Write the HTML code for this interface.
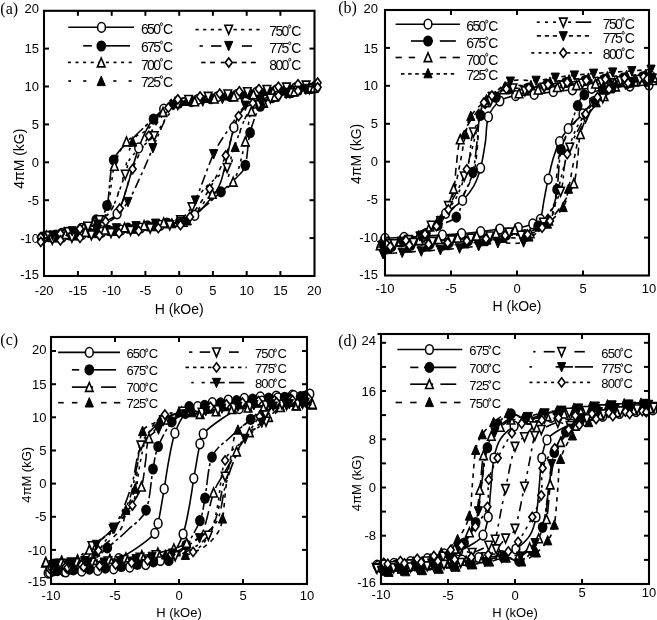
<!DOCTYPE html>
<html><head><meta charset="utf-8"><style>
html,body{margin:0;padding:0;background:#fff;}
svg{display:block;will-change:transform;}
text{font-family:'Liberation Sans',sans-serif;fill:#000;}
</style></head><body>
<svg width="657" height="620" viewBox="0 0 657 620">
<rect width="657" height="620" fill="#fff"/>
<clipPath id="clipa"><rect x="44" y="10.8" width="270.5" height="265.2"/></clipPath><g clip-path="url(#clipa)"><path d="M315.5,85.9 C312.3,86.2 302.5,86.8 296.0,87.5 C289.5,88.1 282.9,89.2 276.4,89.9 C269.9,90.7 263.3,91.4 256.8,92.2 C250.3,92.9 243.8,93.7 237.2,94.4 C230.7,95.1 224.2,95.8 217.7,96.6 C211.1,97.4 204.8,98.4 198.1,99.3 C191.3,100.3 182.9,100.8 177.2,102.4 C171.4,104.1 168.1,106.0 163.7,109.2 C159.3,112.5 155.0,115.7 150.8,122.1 C146.7,128.6 142.8,136.8 138.7,147.9 C134.6,159.0 130.1,177.8 126.5,188.8 C122.9,199.8 120.9,208.4 117.1,213.8 C113.3,219.3 109.6,219.0 103.6,221.4 C97.6,223.9 88.4,226.4 81.4,228.4 C74.4,230.4 68.3,231.9 61.8,233.4 C55.3,234.8 45.5,236.5 42.2,237.1" fill="none" stroke="#000" stroke-width="1.6"/><path d="M42.8,238.7 C46.1,238.4 55.9,237.8 62.4,237.1 C68.9,236.5 75.5,235.4 82.0,234.7 C88.5,233.9 95.0,233.2 101.6,232.4 C108.1,231.7 114.6,230.9 121.1,230.2 C127.7,229.5 134.2,228.8 140.7,228.0 C147.2,227.2 153.5,226.2 160.3,225.3 C167.0,224.3 175.5,223.8 181.2,222.2 C187.0,220.5 190.3,218.6 194.7,215.4 C199.1,212.1 203.2,208.2 207.5,202.5 C211.9,196.8 216.7,193.8 221.0,181.2 C225.4,168.7 230.2,139.4 233.9,127.4 C237.6,115.4 239.8,113.3 243.3,109.2 C246.8,105.2 249.2,105.4 254.8,103.2 C260.4,101.0 270.0,98.2 277.0,96.2 C284.0,94.2 290.1,92.7 296.6,91.2 C303.1,89.8 312.9,88.1 316.2,87.5" fill="none" stroke="#000" stroke-width="1.6"/><path d="M308.8,88.0 C305.5,88.3 295.8,89.0 289.2,89.7 C282.7,90.4 276.2,91.4 269.6,92.2 C263.1,92.9 256.6,93.6 250.1,94.3 C243.5,95.0 237.0,95.8 230.5,96.5 C224.0,97.2 217.4,97.9 210.9,98.7 C204.4,99.6 196.8,100.9 191.3,101.6 C185.9,102.4 182.8,101.8 178.5,103.2 C174.2,104.6 169.9,107.3 165.7,110.0 C161.5,112.7 158.6,114.8 153.5,119.1 C148.5,123.4 142.0,128.9 135.3,135.8 C128.7,142.6 118.4,148.4 113.7,160.0 C109.0,171.6 109.9,195.5 107.0,205.5 C104.0,215.5 102.9,215.4 96.2,219.9 C89.4,224.4 74.7,229.6 66.5,232.3 C58.3,235.0 50.2,235.6 47.0,236.2" fill="none" stroke="#000" stroke-width="1.6" stroke-dasharray="16,3,3,3"/><path d="M49.6,236.6 C52.9,236.3 62.6,235.6 69.2,234.9 C75.7,234.2 82.2,233.2 88.7,232.4 C95.3,231.7 101.8,231.0 108.3,230.3 C114.8,229.6 121.4,228.8 127.9,228.1 C134.4,227.4 140.9,226.7 147.5,225.9 C154.0,225.0 161.6,223.7 167.0,223.0 C172.4,222.2 173.9,224.0 179.9,221.4 C185.8,218.9 196.0,212.7 202.8,207.8 C209.7,202.9 215.4,196.9 221.0,191.9 C226.7,186.8 232.5,181.9 236.6,177.5 C240.6,173.0 243.1,172.8 245.3,165.3 C247.6,157.9 247.6,142.6 250.1,132.7 C252.5,122.9 256.5,112.1 260.2,106.2 C263.9,100.3 267.0,99.9 272.3,97.6 C277.6,95.3 285.3,93.8 291.9,92.3 C298.4,90.7 308.2,89.0 311.4,88.4" fill="none" stroke="#000" stroke-width="1.6" stroke-dasharray="16,3,3,3"/><path d="M312.2,88.5 C308.9,88.7 299.1,89.4 292.6,90.0 C286.1,90.7 279.5,91.8 273.0,92.5 C266.5,93.3 260.0,93.9 253.4,94.7 C246.9,95.4 240.4,96.1 233.9,96.8 C227.3,97.5 220.8,98.1 214.3,98.9 C207.8,99.7 201.2,101.1 194.7,101.7 C188.2,102.3 180.4,100.7 175.1,102.4 C169.9,104.2 167.8,107.6 163.0,112.3 C158.2,116.9 152.2,125.5 146.1,130.5 C140.1,135.4 131.8,135.9 126.5,141.8 C121.3,147.8 117.7,154.5 114.4,166.1 C111.1,177.7 110.2,202.3 107.0,211.6 C103.7,220.8 98.7,218.7 94.8,221.4 C91.0,224.1 88.9,225.8 83.8,227.8 C78.6,229.7 70.7,231.4 64.2,232.9 C57.7,234.3 47.9,236.0 44.6,236.7" fill="none" stroke="#000" stroke-width="1.6" stroke-dasharray="3,4.5"/><path d="M46.2,236.1 C49.5,235.9 59.3,235.2 65.8,234.6 C72.3,233.9 78.8,232.8 85.4,232.1 C91.9,231.3 98.4,230.7 104.9,229.9 C111.5,229.2 118.0,228.5 124.5,227.8 C131.0,227.1 137.6,226.5 144.1,225.7 C150.6,224.9 157.1,223.5 163.7,222.9 C170.2,222.3 178.0,223.9 183.2,222.2 C188.5,220.4 190.6,217.0 195.4,212.3 C200.2,207.7 206.0,199.2 212.3,194.1 C218.6,189.1 227.7,190.7 233.2,182.0 C238.7,173.3 242.3,153.6 245.3,141.8 C248.4,130.1 248.4,118.0 251.4,111.5 C254.5,105.1 259.7,105.6 263.6,103.2 C267.4,100.7 269.5,98.8 274.6,96.8 C279.8,94.9 287.7,93.2 294.2,91.7 C300.7,90.3 310.5,88.6 313.8,87.9" fill="none" stroke="#000" stroke-width="1.6" stroke-dasharray="3,4.5"/><path d="M304.1,86.8 C300.8,87.2 291.0,88.1 284.5,88.9 C278.0,89.6 271.4,90.5 264.9,91.3 C258.4,92.0 251.9,92.7 245.3,93.5 C238.8,94.2 232.3,94.9 225.8,95.7 C219.2,96.4 212.7,97.2 206.2,98.1 C199.7,99.0 192.5,100.2 186.6,101.2 C180.8,102.1 176.3,101.3 171.1,103.9 C165.9,106.5 162.0,110.5 155.6,116.8 C149.2,123.1 138.0,131.7 132.6,141.8 C127.2,151.9 126.9,165.7 123.2,177.5 C119.5,189.2 114.7,204.9 110.3,212.3 C106.0,219.8 103.6,219.0 96.8,222.2 C90.1,225.4 77.6,229.3 69.8,231.6 C62.1,233.8 53.5,235.0 50.3,235.6" fill="none" stroke="#000" stroke-width="1.6" stroke-dasharray="3,12"/><path d="M54.3,237.8 C57.6,237.4 67.4,236.5 73.9,235.7 C80.4,235.0 86.9,234.1 93.5,233.3 C100.0,232.6 106.5,231.9 113.0,231.1 C119.6,230.4 126.1,229.7 132.6,228.9 C139.2,228.2 145.7,227.4 152.2,226.5 C158.7,225.6 165.9,224.4 171.8,223.4 C177.6,222.5 182.1,223.3 187.3,220.7 C192.5,218.1 196.4,214.1 202.8,207.8 C209.2,201.5 220.4,192.9 225.8,182.8 C231.2,172.7 231.5,158.9 235.2,147.1 C238.9,135.4 243.7,119.7 248.0,112.3 C252.4,104.8 254.8,105.6 261.5,102.4 C268.3,99.2 280.8,95.3 288.6,93.0 C296.3,90.8 304.9,89.6 308.1,89.0" fill="none" stroke="#000" stroke-width="1.6" stroke-dasharray="3,12"/><path d="M306.1,85.1 C302.8,85.5 293.0,86.4 286.5,87.1 C280.0,87.9 273.5,88.8 266.9,89.6 C260.4,90.4 253.9,91.1 247.4,91.9 C240.8,92.6 234.3,93.3 227.8,94.1 C221.3,94.9 214.7,95.6 208.2,96.5 C201.7,97.4 193.7,98.2 188.6,99.6 C183.6,101.0 181.6,101.7 177.8,104.7 C174.1,107.7 170.3,112.4 166.4,117.6 C162.4,122.8 160.1,129.2 154.2,135.8 C148.4,142.3 136.1,150.6 131.3,157.0 C126.4,163.4 128.5,165.7 125.2,174.4 C121.9,183.1 116.0,201.7 111.7,209.3 C107.4,216.9 103.5,217.1 99.5,219.9 C95.6,222.8 93.2,224.4 88.0,226.4 C82.8,228.4 75.0,230.3 68.4,231.9 C61.9,233.5 52.1,235.2 48.9,235.9" fill="none" stroke="#000" stroke-width="1.6" stroke-dasharray="3,4.5"/><path d="M52.3,239.5 C55.6,239.1 65.3,238.2 71.9,237.5 C78.4,236.7 84.9,235.8 91.4,235.0 C98.0,234.2 104.5,233.5 111.0,232.7 C117.5,232.0 124.1,231.3 130.6,230.5 C137.1,229.7 143.7,229.0 150.2,228.1 C156.7,227.2 164.7,226.4 169.8,225.0 C174.8,223.6 176.8,222.9 180.5,219.9 C184.3,216.9 188.1,212.2 192.0,207.0 C196.0,201.8 198.3,195.4 204.2,188.8 C210.0,182.3 222.3,174.0 227.1,167.6 C232.0,161.2 229.9,158.9 233.2,150.2 C236.5,141.5 242.4,122.9 246.7,115.3 C251.0,107.7 254.9,107.5 258.9,104.7 C262.8,101.8 265.2,100.2 270.4,98.2 C275.6,96.2 283.4,94.3 290.0,92.7 C296.5,91.1 306.3,89.4 309.5,88.7" fill="none" stroke="#000" stroke-width="1.6" stroke-dasharray="3,4.5"/><path d="M300.7,90.1 C297.4,90.5 287.6,91.5 281.1,92.2 C274.6,93.0 268.1,93.8 261.5,94.5 C255.0,95.2 248.5,95.9 242.0,96.6 C235.4,97.3 228.9,97.9 222.4,98.7 C215.9,99.5 210.9,100.2 202.8,101.2 C194.7,102.2 180.4,100.8 173.8,104.7 C167.2,108.6 166.5,117.2 163.0,124.4 C159.5,131.6 156.6,139.3 152.9,147.9 C149.2,156.5 144.9,167.0 140.7,175.9 C136.6,184.9 132.5,194.5 127.9,201.7 C123.3,208.9 118.0,215.4 113.0,219.2 C108.1,222.9 105.0,222.5 98.2,224.5 C91.4,226.4 79.8,229.2 72.2,231.0 C64.6,232.8 55.9,234.5 52.6,235.2" fill="none" stroke="#000" stroke-width="1.6" stroke-dasharray="10,4,3,4"/><path d="M57.7,234.5 C61.0,234.1 70.7,233.1 77.3,232.4 C83.8,231.6 90.3,230.8 96.8,230.1 C103.4,229.4 109.9,228.7 116.4,228.0 C123.0,227.3 129.5,226.7 136.0,225.9 C142.5,225.1 147.8,224.2 155.6,223.4 C163.3,222.7 175.9,225.3 182.6,221.4 C189.2,217.6 190.2,211.4 195.4,200.2 C200.6,189.0 207.9,166.1 213.6,154.0 C219.4,141.8 224.5,135.5 229.8,127.4 C235.1,119.3 240.3,110.1 245.3,105.5 C250.4,100.8 253.4,101.4 260.2,99.4 C267.0,97.4 278.6,95.3 286.2,93.6 C293.8,91.9 302.5,90.1 305.8,89.4" fill="none" stroke="#000" stroke-width="1.6" stroke-dasharray="10,4,3,4"/><path d="M317.6,82.7 C314.3,83.0 304.5,83.6 298.0,84.3 C291.5,85.0 284.9,86.0 278.4,86.8 C271.9,87.6 265.4,88.4 258.9,89.1 C252.3,89.9 245.8,90.7 239.3,91.4 C232.7,92.2 226.2,92.9 219.7,93.7 C213.2,94.6 207.1,95.6 200.1,96.5 C193.2,97.4 183.1,97.5 177.8,99.4 C172.6,101.3 173.2,101.7 168.4,107.7 C163.6,113.8 154.8,125.5 148.8,135.8 C142.9,146.0 137.5,157.0 132.6,169.1 C127.8,181.2 124.3,199.8 119.8,208.5 C115.3,217.3 112.3,218.0 105.6,221.4 C99.0,224.8 87.5,226.8 80.0,228.8 C72.4,230.9 66.9,232.3 60.4,233.7 C53.9,235.1 44.1,236.7 40.8,237.3" fill="none" stroke="#000" stroke-width="1.6" stroke-dasharray="4.5,5"/><path d="M40.8,241.9 C44.1,241.6 53.9,241.0 60.4,240.3 C66.9,239.6 73.4,238.6 80.0,237.8 C86.5,237.0 93.0,236.2 99.5,235.5 C106.1,234.7 112.6,233.9 119.1,233.2 C125.6,232.4 132.2,231.7 138.7,230.9 C145.2,230.0 151.3,229.0 158.3,228.1 C165.2,227.2 175.3,227.1 180.5,225.2 C185.8,223.3 185.2,222.9 190.0,216.9 C194.8,210.8 203.6,199.1 209.6,188.8 C215.5,178.6 220.9,167.6 225.8,155.5 C230.6,143.4 234.1,124.8 238.6,116.1 C243.1,107.3 246.1,106.6 252.8,103.2 C259.4,99.8 270.9,97.8 278.4,95.8 C286.0,93.7 291.5,92.3 298.0,90.9 C304.5,89.5 314.3,87.9 317.6,87.3" fill="none" stroke="#000" stroke-width="1.6" stroke-dasharray="4.5,5"/></g><ellipse cx="315.5" cy="85.9" rx="3.90" ry="4.85" fill="#fff" stroke="#000" stroke-width="1.5"/><ellipse cx="296.0" cy="87.5" rx="3.90" ry="4.85" fill="#fff" stroke="#000" stroke-width="1.5"/><ellipse cx="276.4" cy="89.9" rx="3.90" ry="4.85" fill="#fff" stroke="#000" stroke-width="1.5"/><ellipse cx="256.8" cy="92.2" rx="3.90" ry="4.85" fill="#fff" stroke="#000" stroke-width="1.5"/><ellipse cx="237.2" cy="94.4" rx="3.90" ry="4.85" fill="#fff" stroke="#000" stroke-width="1.5"/><ellipse cx="217.7" cy="96.6" rx="3.90" ry="4.85" fill="#fff" stroke="#000" stroke-width="1.5"/><ellipse cx="198.1" cy="99.3" rx="3.90" ry="4.85" fill="#fff" stroke="#000" stroke-width="1.5"/><ellipse cx="177.2" cy="102.4" rx="3.90" ry="4.85" fill="#fff" stroke="#000" stroke-width="1.5"/><ellipse cx="163.7" cy="109.2" rx="3.90" ry="4.85" fill="#fff" stroke="#000" stroke-width="1.5"/><ellipse cx="138.7" cy="147.9" rx="3.90" ry="4.85" fill="#fff" stroke="#000" stroke-width="1.5"/><ellipse cx="117.1" cy="213.8" rx="3.90" ry="4.85" fill="#fff" stroke="#000" stroke-width="1.5"/><ellipse cx="103.6" cy="221.4" rx="3.90" ry="4.85" fill="#fff" stroke="#000" stroke-width="1.5"/><ellipse cx="81.4" cy="228.4" rx="3.90" ry="4.85" fill="#fff" stroke="#000" stroke-width="1.5"/><ellipse cx="61.8" cy="233.4" rx="3.90" ry="4.85" fill="#fff" stroke="#000" stroke-width="1.5"/><ellipse cx="42.2" cy="237.1" rx="3.90" ry="4.85" fill="#fff" stroke="#000" stroke-width="1.5"/><ellipse cx="42.8" cy="238.7" rx="3.90" ry="4.85" fill="#fff" stroke="#000" stroke-width="1.5"/><ellipse cx="62.4" cy="237.1" rx="3.90" ry="4.85" fill="#fff" stroke="#000" stroke-width="1.5"/><ellipse cx="82.0" cy="234.7" rx="3.90" ry="4.85" fill="#fff" stroke="#000" stroke-width="1.5"/><ellipse cx="101.6" cy="232.4" rx="3.90" ry="4.85" fill="#fff" stroke="#000" stroke-width="1.5"/><ellipse cx="121.1" cy="230.2" rx="3.90" ry="4.85" fill="#fff" stroke="#000" stroke-width="1.5"/><ellipse cx="140.7" cy="228.0" rx="3.90" ry="4.85" fill="#fff" stroke="#000" stroke-width="1.5"/><ellipse cx="160.3" cy="225.3" rx="3.90" ry="4.85" fill="#fff" stroke="#000" stroke-width="1.5"/><ellipse cx="181.2" cy="222.2" rx="3.90" ry="4.85" fill="#fff" stroke="#000" stroke-width="1.5"/><ellipse cx="194.7" cy="215.4" rx="3.90" ry="4.85" fill="#fff" stroke="#000" stroke-width="1.5"/><ellipse cx="233.9" cy="127.4" rx="3.90" ry="4.85" fill="#fff" stroke="#000" stroke-width="1.5"/><ellipse cx="254.8" cy="103.2" rx="3.90" ry="4.85" fill="#fff" stroke="#000" stroke-width="1.5"/><ellipse cx="277.0" cy="96.2" rx="3.90" ry="4.85" fill="#fff" stroke="#000" stroke-width="1.5"/><ellipse cx="296.6" cy="91.2" rx="3.90" ry="4.85" fill="#fff" stroke="#000" stroke-width="1.5"/><ellipse cx="316.2" cy="87.5" rx="3.90" ry="4.85" fill="#fff" stroke="#000" stroke-width="1.5"/><ellipse cx="308.8" cy="88.0" rx="4.85" ry="5.60" fill="#000"/><ellipse cx="289.2" cy="89.7" rx="4.85" ry="5.60" fill="#000"/><ellipse cx="269.6" cy="92.2" rx="4.85" ry="5.60" fill="#000"/><ellipse cx="250.1" cy="94.3" rx="4.85" ry="5.60" fill="#000"/><ellipse cx="230.5" cy="96.5" rx="4.85" ry="5.60" fill="#000"/><ellipse cx="210.9" cy="98.7" rx="4.85" ry="5.60" fill="#000"/><ellipse cx="191.3" cy="101.6" rx="4.85" ry="5.60" fill="#000"/><ellipse cx="178.5" cy="103.2" rx="4.85" ry="5.60" fill="#000"/><ellipse cx="153.5" cy="119.1" rx="4.85" ry="5.60" fill="#000"/><ellipse cx="113.7" cy="160.0" rx="4.85" ry="5.60" fill="#000"/><ellipse cx="107.0" cy="205.5" rx="4.85" ry="5.60" fill="#000"/><ellipse cx="96.2" cy="219.9" rx="4.85" ry="5.60" fill="#000"/><ellipse cx="66.5" cy="232.3" rx="4.85" ry="5.60" fill="#000"/><ellipse cx="47.0" cy="236.2" rx="4.85" ry="5.60" fill="#000"/><ellipse cx="49.6" cy="236.6" rx="4.85" ry="5.60" fill="#000"/><ellipse cx="69.2" cy="234.9" rx="4.85" ry="5.60" fill="#000"/><ellipse cx="88.7" cy="232.4" rx="4.85" ry="5.60" fill="#000"/><ellipse cx="108.3" cy="230.3" rx="4.85" ry="5.60" fill="#000"/><ellipse cx="127.9" cy="228.1" rx="4.85" ry="5.60" fill="#000"/><ellipse cx="147.5" cy="225.9" rx="4.85" ry="5.60" fill="#000"/><ellipse cx="167.0" cy="223.0" rx="4.85" ry="5.60" fill="#000"/><ellipse cx="179.9" cy="221.4" rx="4.85" ry="5.60" fill="#000"/><ellipse cx="221.0" cy="191.9" rx="4.85" ry="5.60" fill="#000"/><ellipse cx="245.3" cy="165.3" rx="4.85" ry="5.60" fill="#000"/><ellipse cx="250.1" cy="132.7" rx="4.85" ry="5.60" fill="#000"/><ellipse cx="260.2" cy="106.2" rx="4.85" ry="5.60" fill="#000"/><ellipse cx="272.3" cy="97.6" rx="4.85" ry="5.60" fill="#000"/><ellipse cx="291.9" cy="92.3" rx="4.85" ry="5.60" fill="#000"/><ellipse cx="311.4" cy="88.4" rx="4.85" ry="5.60" fill="#000"/><polygon points="312.2,83.7 316.0,92.5 308.4,92.5" fill="#fff" stroke="#000" stroke-width="1.6" stroke-linejoin="miter"/><polygon points="292.6,85.2 296.4,94.1 288.8,94.1" fill="#fff" stroke="#000" stroke-width="1.6" stroke-linejoin="miter"/><polygon points="273.0,87.7 276.8,96.6 269.2,96.6" fill="#fff" stroke="#000" stroke-width="1.6" stroke-linejoin="miter"/><polygon points="253.4,89.9 257.2,98.7 249.6,98.7" fill="#fff" stroke="#000" stroke-width="1.6" stroke-linejoin="miter"/><polygon points="233.9,92.0 237.7,100.9 230.1,100.9" fill="#fff" stroke="#000" stroke-width="1.6" stroke-linejoin="miter"/><polygon points="214.3,94.1 218.1,103.0 210.5,103.0" fill="#fff" stroke="#000" stroke-width="1.6" stroke-linejoin="miter"/><polygon points="194.7,96.9 198.5,105.8 190.9,105.8" fill="#fff" stroke="#000" stroke-width="1.6" stroke-linejoin="miter"/><polygon points="175.1,97.6 178.9,106.5 171.3,106.5" fill="#fff" stroke="#000" stroke-width="1.6" stroke-linejoin="miter"/><polygon points="163.0,107.5 166.8,116.4 159.2,116.4" fill="#fff" stroke="#000" stroke-width="1.6" stroke-linejoin="miter"/><polygon points="126.5,137.0 130.3,145.9 122.7,145.9" fill="#fff" stroke="#000" stroke-width="1.6" stroke-linejoin="miter"/><polygon points="114.4,161.3 118.2,170.2 110.6,170.2" fill="#fff" stroke="#000" stroke-width="1.6" stroke-linejoin="miter"/><polygon points="94.8,216.6 98.6,225.5 91.0,225.5" fill="#fff" stroke="#000" stroke-width="1.6" stroke-linejoin="miter"/><polygon points="83.8,223.0 87.6,231.8 80.0,231.8" fill="#fff" stroke="#000" stroke-width="1.6" stroke-linejoin="miter"/><polygon points="64.2,228.1 68.0,236.9 60.4,236.9" fill="#fff" stroke="#000" stroke-width="1.6" stroke-linejoin="miter"/><polygon points="44.6,231.9 48.4,240.7 40.8,240.7" fill="#fff" stroke="#000" stroke-width="1.6" stroke-linejoin="miter"/><polygon points="46.2,231.3 50.0,240.2 42.4,240.2" fill="#fff" stroke="#000" stroke-width="1.6" stroke-linejoin="miter"/><polygon points="65.8,229.8 69.6,238.6 62.0,238.6" fill="#fff" stroke="#000" stroke-width="1.6" stroke-linejoin="miter"/><polygon points="85.4,227.3 89.2,236.2 81.6,236.2" fill="#fff" stroke="#000" stroke-width="1.6" stroke-linejoin="miter"/><polygon points="104.9,225.1 108.7,234.0 101.1,234.0" fill="#fff" stroke="#000" stroke-width="1.6" stroke-linejoin="miter"/><polygon points="124.5,223.0 128.3,231.9 120.7,231.9" fill="#fff" stroke="#000" stroke-width="1.6" stroke-linejoin="miter"/><polygon points="144.1,220.9 147.9,229.8 140.3,229.8" fill="#fff" stroke="#000" stroke-width="1.6" stroke-linejoin="miter"/><polygon points="163.7,218.1 167.5,227.0 159.9,227.0" fill="#fff" stroke="#000" stroke-width="1.6" stroke-linejoin="miter"/><polygon points="183.2,217.4 187.1,226.3 179.4,226.3" fill="#fff" stroke="#000" stroke-width="1.6" stroke-linejoin="miter"/><polygon points="212.3,189.3 216.1,198.2 208.5,198.2" fill="#fff" stroke="#000" stroke-width="1.6" stroke-linejoin="miter"/><polygon points="233.2,177.2 237.0,186.1 229.4,186.1" fill="#fff" stroke="#000" stroke-width="1.6" stroke-linejoin="miter"/><polygon points="245.3,137.0 249.2,145.9 241.5,145.9" fill="#fff" stroke="#000" stroke-width="1.6" stroke-linejoin="miter"/><polygon points="251.4,106.7 255.2,115.6 247.6,115.6" fill="#fff" stroke="#000" stroke-width="1.6" stroke-linejoin="miter"/><polygon points="263.6,98.4 267.4,107.3 259.8,107.3" fill="#fff" stroke="#000" stroke-width="1.6" stroke-linejoin="miter"/><polygon points="274.6,92.0 278.4,100.9 270.8,100.9" fill="#fff" stroke="#000" stroke-width="1.6" stroke-linejoin="miter"/><polygon points="294.2,86.9 298.0,95.8 290.4,95.8" fill="#fff" stroke="#000" stroke-width="1.6" stroke-linejoin="miter"/><polygon points="313.8,83.1 317.6,92.0 310.0,92.0" fill="#fff" stroke="#000" stroke-width="1.6" stroke-linejoin="miter"/><polygon points="304.1,81.7 308.2,91.2 300.0,91.2" fill="#000" stroke="#000" stroke-width="1" stroke-linejoin="miter"/><polygon points="284.5,83.8 288.6,93.2 280.4,93.2" fill="#000" stroke="#000" stroke-width="1" stroke-linejoin="miter"/><polygon points="264.9,86.2 269.0,95.6 260.8,95.6" fill="#000" stroke="#000" stroke-width="1" stroke-linejoin="miter"/><polygon points="245.3,88.4 249.4,97.8 241.2,97.8" fill="#000" stroke="#000" stroke-width="1" stroke-linejoin="miter"/><polygon points="225.8,90.6 229.9,100.0 221.7,100.0" fill="#000" stroke="#000" stroke-width="1" stroke-linejoin="miter"/><polygon points="206.2,93.0 210.3,102.5 202.1,102.5" fill="#000" stroke="#000" stroke-width="1" stroke-linejoin="miter"/><polygon points="186.6,96.1 190.7,105.5 182.5,105.5" fill="#000" stroke="#000" stroke-width="1" stroke-linejoin="miter"/><polygon points="171.1,98.8 175.2,108.3 167.0,108.3" fill="#000" stroke="#000" stroke-width="1" stroke-linejoin="miter"/><polygon points="132.6,136.7 136.7,146.2 128.5,146.2" fill="#000" stroke="#000" stroke-width="1" stroke-linejoin="miter"/><polygon points="96.8,217.1 100.9,226.5 92.8,226.5" fill="#000" stroke="#000" stroke-width="1" stroke-linejoin="miter"/><polygon points="69.8,226.5 73.9,235.9 65.7,235.9" fill="#000" stroke="#000" stroke-width="1" stroke-linejoin="miter"/><polygon points="50.3,230.5 54.4,240.0 46.2,240.0" fill="#000" stroke="#000" stroke-width="1" stroke-linejoin="miter"/><polygon points="54.3,232.7 58.4,242.1 50.2,242.1" fill="#000" stroke="#000" stroke-width="1" stroke-linejoin="miter"/><polygon points="73.9,230.6 78.0,240.1 69.8,240.1" fill="#000" stroke="#000" stroke-width="1" stroke-linejoin="miter"/><polygon points="93.5,228.2 97.6,237.7 89.4,237.7" fill="#000" stroke="#000" stroke-width="1" stroke-linejoin="miter"/><polygon points="113.0,226.0 117.1,235.5 109.0,235.5" fill="#000" stroke="#000" stroke-width="1" stroke-linejoin="miter"/><polygon points="132.6,223.8 136.7,233.3 128.5,233.3" fill="#000" stroke="#000" stroke-width="1" stroke-linejoin="miter"/><polygon points="152.2,221.4 156.3,230.8 148.1,230.8" fill="#000" stroke="#000" stroke-width="1" stroke-linejoin="miter"/><polygon points="171.8,218.3 175.9,227.8 167.7,227.8" fill="#000" stroke="#000" stroke-width="1" stroke-linejoin="miter"/><polygon points="187.3,215.6 191.4,225.0 183.2,225.0" fill="#000" stroke="#000" stroke-width="1" stroke-linejoin="miter"/><polygon points="235.2,142.0 239.3,151.5 231.1,151.5" fill="#000" stroke="#000" stroke-width="1" stroke-linejoin="miter"/><polygon points="261.5,97.3 265.6,106.8 257.4,106.8" fill="#000" stroke="#000" stroke-width="1" stroke-linejoin="miter"/><polygon points="288.6,87.9 292.7,97.4 284.4,97.4" fill="#000" stroke="#000" stroke-width="1" stroke-linejoin="miter"/><polygon points="308.1,83.9 312.2,93.3 304.0,93.3" fill="#000" stroke="#000" stroke-width="1" stroke-linejoin="miter"/><polygon points="306.1,89.9 309.9,81.1 302.3,81.1" fill="#fff" stroke="#000" stroke-width="1.6" stroke-linejoin="miter"/><polygon points="286.5,91.9 290.3,83.1 282.7,83.1" fill="#fff" stroke="#000" stroke-width="1.6" stroke-linejoin="miter"/><polygon points="266.9,94.4 270.8,85.5 263.1,85.5" fill="#fff" stroke="#000" stroke-width="1.6" stroke-linejoin="miter"/><polygon points="247.4,96.7 251.2,87.8 243.6,87.8" fill="#fff" stroke="#000" stroke-width="1.6" stroke-linejoin="miter"/><polygon points="227.8,98.9 231.6,90.0 224.0,90.0" fill="#fff" stroke="#000" stroke-width="1.6" stroke-linejoin="miter"/><polygon points="208.2,101.3 212.0,92.4 204.4,92.4" fill="#fff" stroke="#000" stroke-width="1.6" stroke-linejoin="miter"/><polygon points="188.6,104.4 192.4,95.5 184.8,95.5" fill="#fff" stroke="#000" stroke-width="1.6" stroke-linejoin="miter"/><polygon points="177.8,109.5 181.7,100.6 174.0,100.6" fill="#fff" stroke="#000" stroke-width="1.6" stroke-linejoin="miter"/><polygon points="154.2,140.6 158.0,131.7 150.4,131.7" fill="#fff" stroke="#000" stroke-width="1.6" stroke-linejoin="miter"/><polygon points="125.2,179.2 129.0,170.3 121.4,170.3" fill="#fff" stroke="#000" stroke-width="1.6" stroke-linejoin="miter"/><polygon points="99.5,224.7 103.3,215.8 95.7,215.8" fill="#fff" stroke="#000" stroke-width="1.6" stroke-linejoin="miter"/><polygon points="88.0,231.2 91.8,222.3 84.2,222.3" fill="#fff" stroke="#000" stroke-width="1.6" stroke-linejoin="miter"/><polygon points="68.4,236.7 72.2,227.8 64.6,227.8" fill="#fff" stroke="#000" stroke-width="1.6" stroke-linejoin="miter"/><polygon points="48.9,240.7 52.7,231.8 45.1,231.8" fill="#fff" stroke="#000" stroke-width="1.6" stroke-linejoin="miter"/><polygon points="52.3,244.3 56.1,235.4 48.5,235.4" fill="#fff" stroke="#000" stroke-width="1.6" stroke-linejoin="miter"/><polygon points="71.9,242.3 75.7,233.4 68.1,233.4" fill="#fff" stroke="#000" stroke-width="1.6" stroke-linejoin="miter"/><polygon points="91.4,239.8 95.2,230.9 87.6,230.9" fill="#fff" stroke="#000" stroke-width="1.6" stroke-linejoin="miter"/><polygon points="111.0,237.5 114.8,228.7 107.2,228.7" fill="#fff" stroke="#000" stroke-width="1.6" stroke-linejoin="miter"/><polygon points="130.6,235.3 134.4,226.4 126.8,226.4" fill="#fff" stroke="#000" stroke-width="1.6" stroke-linejoin="miter"/><polygon points="150.2,232.9 154.0,224.0 146.4,224.0" fill="#fff" stroke="#000" stroke-width="1.6" stroke-linejoin="miter"/><polygon points="169.8,229.8 173.6,220.9 165.9,220.9" fill="#fff" stroke="#000" stroke-width="1.6" stroke-linejoin="miter"/><polygon points="180.5,224.7 184.3,215.8 176.7,215.8" fill="#fff" stroke="#000" stroke-width="1.6" stroke-linejoin="miter"/><polygon points="192.0,211.8 195.8,202.9 188.2,202.9" fill="#fff" stroke="#000" stroke-width="1.6" stroke-linejoin="miter"/><polygon points="227.1,172.4 230.9,163.5 223.3,163.5" fill="#fff" stroke="#000" stroke-width="1.6" stroke-linejoin="miter"/><polygon points="258.9,109.5 262.7,100.6 255.1,100.6" fill="#fff" stroke="#000" stroke-width="1.6" stroke-linejoin="miter"/><polygon points="270.4,103.0 274.2,94.1 266.6,94.1" fill="#fff" stroke="#000" stroke-width="1.6" stroke-linejoin="miter"/><polygon points="290.0,97.5 293.8,88.6 286.2,88.6" fill="#fff" stroke="#000" stroke-width="1.6" stroke-linejoin="miter"/><polygon points="309.5,93.5 313.3,84.6 305.7,84.6" fill="#fff" stroke="#000" stroke-width="1.6" stroke-linejoin="miter"/><polygon points="300.7,95.2 304.8,85.8 296.6,85.8" fill="#000" stroke="#000" stroke-width="1" stroke-linejoin="miter"/><polygon points="281.1,97.3 285.2,87.9 277.0,87.9" fill="#000" stroke="#000" stroke-width="1" stroke-linejoin="miter"/><polygon points="261.5,99.6 265.6,90.1 257.4,90.1" fill="#000" stroke="#000" stroke-width="1" stroke-linejoin="miter"/><polygon points="242.0,101.7 246.1,92.3 237.9,92.3" fill="#000" stroke="#000" stroke-width="1" stroke-linejoin="miter"/><polygon points="222.4,103.8 226.5,94.4 218.3,94.4" fill="#000" stroke="#000" stroke-width="1" stroke-linejoin="miter"/><polygon points="202.8,106.3 206.9,96.8 198.7,96.8" fill="#000" stroke="#000" stroke-width="1" stroke-linejoin="miter"/><polygon points="173.8,109.8 177.9,100.4 169.7,100.4" fill="#000" stroke="#000" stroke-width="1" stroke-linejoin="miter"/><polygon points="152.9,153.0 157.0,143.6 148.8,143.6" fill="#000" stroke="#000" stroke-width="1" stroke-linejoin="miter"/><polygon points="127.9,206.8 132.0,197.4 123.8,197.4" fill="#000" stroke="#000" stroke-width="1" stroke-linejoin="miter"/><polygon points="98.2,229.6 102.3,220.1 94.1,220.1" fill="#000" stroke="#000" stroke-width="1" stroke-linejoin="miter"/><polygon points="72.2,236.1 76.3,226.7 68.1,226.7" fill="#000" stroke="#000" stroke-width="1" stroke-linejoin="miter"/><polygon points="52.6,240.3 56.7,230.9 48.5,230.9" fill="#000" stroke="#000" stroke-width="1" stroke-linejoin="miter"/><polygon points="57.7,239.6 61.8,230.2 53.6,230.2" fill="#000" stroke="#000" stroke-width="1" stroke-linejoin="miter"/><polygon points="77.3,237.5 81.4,228.0 73.2,228.0" fill="#000" stroke="#000" stroke-width="1" stroke-linejoin="miter"/><polygon points="96.8,235.2 100.9,225.8 92.8,225.8" fill="#000" stroke="#000" stroke-width="1" stroke-linejoin="miter"/><polygon points="116.4,233.1 120.5,223.7 112.3,223.7" fill="#000" stroke="#000" stroke-width="1" stroke-linejoin="miter"/><polygon points="136.0,231.0 140.1,221.6 131.9,221.6" fill="#000" stroke="#000" stroke-width="1" stroke-linejoin="miter"/><polygon points="155.6,228.5 159.7,219.1 151.5,219.1" fill="#000" stroke="#000" stroke-width="1" stroke-linejoin="miter"/><polygon points="182.6,226.5 186.7,217.1 178.5,217.1" fill="#000" stroke="#000" stroke-width="1" stroke-linejoin="miter"/><polygon points="195.4,205.3 199.5,195.9 191.3,195.9" fill="#000" stroke="#000" stroke-width="1" stroke-linejoin="miter"/><polygon points="213.6,159.1 217.7,149.6 209.5,149.6" fill="#000" stroke="#000" stroke-width="1" stroke-linejoin="miter"/><polygon points="245.3,110.6 249.4,101.1 241.2,101.1" fill="#000" stroke="#000" stroke-width="1" stroke-linejoin="miter"/><polygon points="260.2,104.5 264.3,95.1 256.1,95.1" fill="#000" stroke="#000" stroke-width="1" stroke-linejoin="miter"/><polygon points="286.2,98.7 290.3,89.3 282.1,89.3" fill="#000" stroke="#000" stroke-width="1" stroke-linejoin="miter"/><polygon points="305.8,94.5 309.9,85.0 301.7,85.0" fill="#000" stroke="#000" stroke-width="1" stroke-linejoin="miter"/><polygon points="317.6,78.1 321.1,82.7 317.6,87.3 314.1,82.7" fill="#fff" stroke="#000" stroke-width="1.6" stroke-linejoin="miter"/><polygon points="298.0,79.7 301.5,84.3 298.0,88.9 294.5,84.3" fill="#fff" stroke="#000" stroke-width="1.6" stroke-linejoin="miter"/><polygon points="278.4,82.2 281.9,86.8 278.4,91.4 274.9,86.8" fill="#fff" stroke="#000" stroke-width="1.6" stroke-linejoin="miter"/><polygon points="258.9,84.5 262.4,89.1 258.9,93.7 255.4,89.1" fill="#fff" stroke="#000" stroke-width="1.6" stroke-linejoin="miter"/><polygon points="239.3,86.8 242.8,91.4 239.3,96.0 235.8,91.4" fill="#fff" stroke="#000" stroke-width="1.6" stroke-linejoin="miter"/><polygon points="219.7,89.1 223.2,93.7 219.7,98.3 216.2,93.7" fill="#fff" stroke="#000" stroke-width="1.6" stroke-linejoin="miter"/><polygon points="200.1,91.9 203.6,96.5 200.1,101.1 196.6,96.5" fill="#fff" stroke="#000" stroke-width="1.6" stroke-linejoin="miter"/><polygon points="177.8,94.8 181.3,99.4 177.8,104.0 174.3,99.4" fill="#fff" stroke="#000" stroke-width="1.6" stroke-linejoin="miter"/><polygon points="168.4,103.1 171.9,107.7 168.4,112.3 164.9,107.7" fill="#fff" stroke="#000" stroke-width="1.6" stroke-linejoin="miter"/><polygon points="148.8,131.2 152.3,135.8 148.8,140.4 145.3,135.8" fill="#fff" stroke="#000" stroke-width="1.6" stroke-linejoin="miter"/><polygon points="132.6,164.5 136.1,169.1 132.6,173.7 129.1,169.1" fill="#fff" stroke="#000" stroke-width="1.6" stroke-linejoin="miter"/><polygon points="119.8,203.9 123.3,208.5 119.8,213.1 116.3,208.5" fill="#fff" stroke="#000" stroke-width="1.6" stroke-linejoin="miter"/><polygon points="105.6,216.8 109.1,221.4 105.6,226.0 102.1,221.4" fill="#fff" stroke="#000" stroke-width="1.6" stroke-linejoin="miter"/><polygon points="80.0,224.2 83.5,228.8 80.0,233.4 76.5,228.8" fill="#fff" stroke="#000" stroke-width="1.6" stroke-linejoin="miter"/><polygon points="60.4,229.1 63.9,233.7 60.4,238.3 56.9,233.7" fill="#fff" stroke="#000" stroke-width="1.6" stroke-linejoin="miter"/><polygon points="40.8,232.7 44.3,237.3 40.8,241.9 37.3,237.3" fill="#fff" stroke="#000" stroke-width="1.6" stroke-linejoin="miter"/><polygon points="40.8,237.3 44.3,241.9 40.8,246.5 37.3,241.9" fill="#fff" stroke="#000" stroke-width="1.6" stroke-linejoin="miter"/><polygon points="60.4,235.7 63.9,240.3 60.4,244.9 56.9,240.3" fill="#fff" stroke="#000" stroke-width="1.6" stroke-linejoin="miter"/><polygon points="80.0,233.2 83.5,237.8 80.0,242.4 76.5,237.8" fill="#fff" stroke="#000" stroke-width="1.6" stroke-linejoin="miter"/><polygon points="99.5,230.9 103.0,235.5 99.5,240.1 96.0,235.5" fill="#fff" stroke="#000" stroke-width="1.6" stroke-linejoin="miter"/><polygon points="119.1,228.6 122.6,233.2 119.1,237.8 115.6,233.2" fill="#fff" stroke="#000" stroke-width="1.6" stroke-linejoin="miter"/><polygon points="138.7,226.3 142.2,230.9 138.7,235.5 135.2,230.9" fill="#fff" stroke="#000" stroke-width="1.6" stroke-linejoin="miter"/><polygon points="158.3,223.5 161.8,228.1 158.3,232.7 154.8,228.1" fill="#fff" stroke="#000" stroke-width="1.6" stroke-linejoin="miter"/><polygon points="180.5,220.6 184.0,225.2 180.5,229.8 177.0,225.2" fill="#fff" stroke="#000" stroke-width="1.6" stroke-linejoin="miter"/><polygon points="190.0,212.3 193.5,216.9 190.0,221.5 186.5,216.9" fill="#fff" stroke="#000" stroke-width="1.6" stroke-linejoin="miter"/><polygon points="209.6,184.2 213.1,188.8 209.6,193.4 206.1,188.8" fill="#fff" stroke="#000" stroke-width="1.6" stroke-linejoin="miter"/><polygon points="225.8,150.9 229.3,155.5 225.8,160.1 222.3,155.5" fill="#fff" stroke="#000" stroke-width="1.6" stroke-linejoin="miter"/><polygon points="238.6,111.5 242.1,116.1 238.6,120.7 235.1,116.1" fill="#fff" stroke="#000" stroke-width="1.6" stroke-linejoin="miter"/><polygon points="252.8,98.6 256.3,103.2 252.8,107.8 249.3,103.2" fill="#fff" stroke="#000" stroke-width="1.6" stroke-linejoin="miter"/><polygon points="278.4,91.2 281.9,95.8 278.4,100.4 274.9,95.8" fill="#fff" stroke="#000" stroke-width="1.6" stroke-linejoin="miter"/><polygon points="298.0,86.3 301.5,90.9 298.0,95.5 294.5,90.9" fill="#fff" stroke="#000" stroke-width="1.6" stroke-linejoin="miter"/><polygon points="317.6,82.7 321.1,87.3 317.6,91.9 314.1,87.3" fill="#fff" stroke="#000" stroke-width="1.6" stroke-linejoin="miter"/>
<clipPath id="clipb"><rect x="385" y="10.0" width="264" height="265.5"/></clipPath><g clip-path="url(#clipb)"><path d="M649.0,85.0 C645.8,85.2 636.2,85.8 629.9,86.1 C623.5,86.5 617.1,86.9 610.7,87.2 C604.3,87.6 598.0,87.9 591.6,88.3 C585.2,88.8 578.8,89.2 572.4,89.8 C566.1,90.4 559.7,91.0 553.3,91.7 C546.9,92.5 540.4,93.8 534.2,94.4 C527.9,95.1 521.4,94.6 515.7,95.7 C510.0,96.8 504.4,97.5 499.8,101.0 C495.3,104.6 490.8,110.0 488.4,116.9 C485.9,123.9 486.6,134.2 485.3,142.7 C484.0,151.3 482.5,160.8 480.6,168.1 C478.6,175.5 476.4,181.4 473.4,186.7 C470.4,192.1 467.2,196.0 462.6,200.4 C458.0,204.8 452.6,207.4 445.7,213.3 C438.8,219.2 428.6,231.0 421.3,235.7 C414.0,240.3 408.5,239.6 402.2,241.2 C395.8,242.8 386.2,244.4 383.0,245.0" fill="none" stroke="#000" stroke-width="1.6"/><path d="M385.0,238.4 C388.2,238.2 397.8,237.6 404.1,237.3 C410.5,236.9 416.9,236.5 423.3,236.2 C429.7,235.8 436.0,235.5 442.4,235.1 C448.8,234.6 455.2,234.2 461.6,233.6 C467.9,233.0 474.3,232.4 480.7,231.7 C487.1,230.9 493.6,229.6 499.8,229.0 C506.1,228.3 512.8,228.5 518.3,227.7 C523.8,226.9 529.2,225.3 532.8,223.9 C536.5,222.5 538.5,223.4 540.4,219.4 C542.2,215.3 542.8,206.3 544.1,199.6 C545.4,192.9 546.6,186.1 548.2,179.1 C549.7,172.2 551.4,164.2 553.3,157.9 C555.2,151.6 557.1,146.5 559.6,141.6 C562.1,136.7 564.3,133.3 568.2,128.7 C572.1,124.1 578.8,118.4 583.0,113.9 C587.2,109.4 588.6,106.0 593.6,101.6 C598.5,97.3 606.3,91.0 612.7,87.7 C619.1,84.5 625.5,83.8 631.8,82.2 C638.2,80.6 647.8,79.0 651.0,78.4" fill="none" stroke="#000" stroke-width="1.6"/><path d="M642.4,76.9 C639.2,77.1 629.6,77.8 623.3,78.2 C616.9,78.6 610.5,78.9 604.1,79.3 C597.7,79.7 591.4,80.2 585.0,80.7 C578.6,81.3 572.2,81.8 565.8,82.5 C559.5,83.2 553.1,83.7 546.7,84.7 C540.3,85.7 533.8,87.6 527.6,88.3 C521.3,89.0 514.4,87.4 509.1,88.9 C503.8,90.4 500.6,92.8 495.9,97.2 C491.1,101.6 483.6,108.5 480.6,115.4 C477.5,122.4 478.7,129.5 477.4,138.9 C476.1,148.4 475.1,163.1 472.9,172.3 C470.7,181.6 467.0,186.9 464.2,194.3 C461.4,201.8 460.7,211.9 456.3,217.1 C451.9,222.3 442.9,222.7 437.8,225.4 C432.7,228.2 431.1,231.1 425.9,233.5 C420.7,236.0 413.2,238.4 406.8,240.1 C400.4,241.9 390.8,243.5 387.6,244.1" fill="none" stroke="#000" stroke-width="1.6" stroke-dasharray="16,3,3,3"/><path d="M391.6,246.5 C394.8,246.3 404.4,245.6 410.7,245.2 C417.1,244.8 423.5,244.5 429.9,244.1 C436.3,243.7 442.6,243.2 449.0,242.7 C455.4,242.1 461.8,241.6 468.2,240.9 C474.5,240.2 480.9,239.7 487.3,238.7 C493.7,237.7 500.2,235.8 506.4,235.1 C512.7,234.4 519.6,236.0 524.9,234.5 C530.2,233.0 533.5,230.7 538.1,226.2 C542.7,221.6 549.5,213.3 552.6,207.2 C555.8,201.1 555.7,199.0 557.1,189.4 C558.5,179.8 558.8,159.9 561.0,149.6 C563.1,139.3 567.0,134.9 569.8,127.6 C572.6,120.2 575.3,111.0 577.7,105.6 C580.1,100.1 580.1,97.6 584.3,94.9 C588.5,92.3 595.6,91.6 602.8,89.6 C609.9,87.7 620.0,85.0 627.2,83.3 C634.5,81.5 643.2,79.9 646.4,79.3" fill="none" stroke="#000" stroke-width="1.6" stroke-dasharray="16,3,3,3"/><path d="M653.0,80.4 C649.8,80.6 640.2,81.3 633.8,81.7 C627.4,82.1 621.1,82.5 614.7,82.9 C608.3,83.2 601.9,83.5 595.5,83.9 C589.2,84.4 582.8,84.9 576.4,85.5 C570.0,86.1 563.6,86.7 557.3,87.4 C550.9,88.1 544.5,88.9 538.1,89.9 C531.7,91.0 524.7,93.6 519.0,93.6 C513.3,93.5 509.4,88.1 503.8,89.6 C498.2,91.1 490.6,97.7 485.3,102.5 C480.0,107.3 476.3,112.3 472.1,118.5 C467.9,124.7 462.9,131.9 460.2,139.7 C457.6,147.5 457.4,157.3 456.3,165.5 C455.2,173.7 455.6,181.3 453.6,189.0 C451.7,196.7 448.4,205.4 444.4,211.8 C440.4,218.1 434.2,222.8 429.9,226.9 C425.6,231.1 423.6,234.1 418.5,236.6 C413.4,239.1 405.8,240.3 399.4,241.8 C393.0,243.3 383.4,244.9 380.2,245.6" fill="none" stroke="#000" stroke-width="1.6" stroke-dasharray="8,5"/><path d="M381.0,243.0 C384.2,242.8 393.8,242.1 400.2,241.7 C406.6,241.3 412.9,240.9 419.3,240.5 C425.7,240.2 432.1,239.9 438.5,239.5 C444.8,239.0 451.2,238.5 457.6,237.9 C464.0,237.3 470.4,236.7 476.7,236.0 C483.1,235.3 489.5,234.5 495.9,233.5 C502.3,232.4 509.3,229.8 515.0,229.8 C520.7,229.9 524.6,235.3 530.2,233.8 C535.8,232.3 543.4,225.7 548.7,220.9 C554.0,216.1 557.7,211.1 561.9,204.9 C566.1,198.7 571.1,191.5 573.8,183.7 C576.4,175.9 576.6,166.1 577.7,157.9 C578.8,149.7 578.4,142.1 580.4,134.4 C582.3,126.7 585.6,118.0 589.6,111.6 C593.6,105.3 599.8,100.6 604.1,96.5 C608.4,92.3 610.4,89.3 615.5,86.8 C620.6,84.3 628.2,83.1 634.6,81.6 C641.0,80.1 650.6,78.5 653.8,77.8" fill="none" stroke="#000" stroke-width="1.6" stroke-dasharray="8,5"/><path d="M645.7,74.1 C642.5,74.3 632.9,75.0 626.6,75.5 C620.2,75.9 613.8,76.2 607.4,76.6 C601.0,77.1 594.7,77.5 588.3,78.0 C581.9,78.5 575.5,79.1 569.1,79.7 C562.8,80.4 556.4,81.1 550.0,82.0 C543.6,82.9 538.3,84.6 530.9,85.4 C523.4,86.1 512.5,84.2 505.1,86.6 C497.8,89.0 492.4,94.6 486.6,99.5 C480.9,104.4 474.3,110.4 470.8,116.2 C467.3,122.0 467.5,125.5 465.5,134.4 C463.5,143.2 461.1,158.9 458.9,169.3 C456.7,179.7 455.8,188.0 452.3,196.6 C448.8,205.2 442.6,214.5 437.8,220.9 C433.0,227.2 429.2,231.6 423.6,234.9 C418.1,238.2 410.9,239.1 404.5,240.7 C398.1,242.3 388.5,243.9 385.3,244.6" fill="none" stroke="#000" stroke-width="1.6" stroke-dasharray="4.5,5"/><path d="M388.3,249.3 C391.5,249.1 401.1,248.4 407.4,247.9 C413.8,247.5 420.2,247.2 426.6,246.8 C433.0,246.3 439.3,245.9 445.7,245.4 C452.1,244.9 458.5,244.3 464.9,243.7 C471.2,243.0 477.6,242.3 484.0,241.4 C490.4,240.5 495.7,238.8 503.1,238.0 C510.6,237.3 521.5,239.2 528.9,236.8 C536.2,234.4 541.6,228.8 547.4,223.9 C553.1,219.0 559.7,213.0 563.2,207.2 C566.7,201.4 566.5,197.9 568.5,189.0 C570.5,180.2 572.9,164.5 575.1,154.1 C577.3,143.7 578.2,135.4 581.7,126.8 C585.2,118.2 591.4,108.9 596.2,102.5 C601.0,96.2 604.8,91.8 610.4,88.5 C615.9,85.2 623.1,84.3 629.5,82.7 C635.9,81.1 645.5,79.5 648.7,78.8" fill="none" stroke="#000" stroke-width="1.6" stroke-dasharray="4.5,5"/><path d="M639.8,79.6 C636.6,79.8 627.0,80.5 620.6,80.9 C614.2,81.3 607.9,81.5 601.5,81.9 C595.1,82.4 588.7,82.8 582.3,83.4 C576.0,83.9 569.6,84.5 563.2,85.2 C556.8,85.8 550.4,86.3 544.1,87.3 C537.7,88.3 530.1,90.9 524.9,91.0 C519.8,91.1 518.8,86.4 513.0,88.1 C507.3,89.8 497.2,93.7 490.6,101.0 C484.0,108.3 477.0,122.6 473.4,132.1 C469.9,141.6 471.0,150.6 469.5,157.9 C467.9,165.2 466.6,169.9 464.2,176.1 C461.8,182.3 457.6,190.1 455.0,195.1 C452.3,200.0 452.3,200.6 448.4,205.7 C444.4,210.8 437.8,219.8 431.2,225.4 C424.6,231.1 415.6,236.7 408.6,239.7 C401.7,242.8 392.7,243.1 389.5,243.8" fill="none" stroke="#000" stroke-width="1.6" stroke-dasharray="10,4,3,4"/><path d="M394.2,243.8 C397.4,243.6 407.0,242.9 413.4,242.5 C419.8,242.1 426.1,241.9 432.5,241.5 C438.9,241.0 445.3,240.6 451.7,240.0 C458.0,239.5 464.4,238.9 470.8,238.2 C477.2,237.6 483.6,237.1 489.9,236.1 C496.3,235.1 503.9,232.5 509.1,232.4 C514.2,232.3 515.2,237.0 521.0,235.3 C526.7,233.6 536.8,229.7 543.4,222.4 C550.0,215.1 557.0,200.8 560.6,191.3 C564.1,181.8 563.0,172.8 564.5,165.5 C566.1,158.2 567.4,153.5 569.8,147.3 C572.2,141.1 576.4,133.3 579.0,128.3 C581.7,123.4 581.7,122.8 585.6,117.7 C589.6,112.6 596.2,103.6 602.8,98.0 C609.4,92.3 618.4,86.7 625.4,83.7 C632.3,80.6 641.3,80.3 644.5,79.6" fill="none" stroke="#000" stroke-width="1.6" stroke-dasharray="10,4,3,4"/><path d="M651.0,69.5 C647.8,69.7 638.2,70.4 631.8,70.9 C625.5,71.3 619.1,71.8 612.7,72.2 C606.3,72.6 599.9,73.0 593.6,73.5 C587.2,74.0 580.8,74.6 574.4,75.2 C568.0,75.9 561.7,76.6 555.3,77.5 C548.9,78.4 543.6,79.9 536.1,80.5 C528.7,81.2 517.8,78.6 510.4,81.3 C503.0,83.9 497.0,91.3 491.9,96.5 C486.9,101.6 482.5,104.0 480.0,112.4 C477.6,120.7 478.5,136.4 477.4,146.5 C476.3,156.6 476.3,164.2 473.4,173.1 C470.6,181.9 465.7,191.7 460.2,199.6 C454.7,207.6 447.2,214.8 440.4,220.9 C433.7,227.0 426.5,232.7 419.9,236.1 C413.3,239.6 407.2,240.0 400.8,241.5 C394.4,243.0 384.8,244.7 381.6,245.3" fill="none" stroke="#000" stroke-width="1.6" stroke-dasharray="4.5,5"/><path d="M383.0,253.9 C386.2,253.7 395.8,253.0 402.2,252.5 C408.5,252.1 414.9,251.6 421.3,251.2 C427.7,250.8 434.1,250.4 440.4,249.9 C446.8,249.4 453.2,248.8 459.6,248.2 C466.0,247.5 472.3,246.8 478.7,245.9 C485.1,245.0 490.4,243.5 497.9,242.9 C505.3,242.2 516.2,244.8 523.6,242.1 C531.0,239.5 537.0,232.1 542.1,226.9 C547.1,221.8 551.5,219.4 554.0,211.0 C556.4,202.7 555.5,187.0 556.6,176.9 C557.7,166.8 557.7,159.2 560.6,150.3 C563.4,141.5 568.3,131.7 573.8,123.8 C579.3,115.8 586.8,108.6 593.6,102.5 C600.3,96.4 607.5,90.7 614.1,87.3 C620.7,83.8 626.8,83.4 633.2,81.9 C639.6,80.4 649.2,78.7 652.4,78.1" fill="none" stroke="#000" stroke-width="1.6" stroke-dasharray="4.5,5"/><path d="M643.7,76.8 C640.5,77.0 631.0,77.7 624.6,78.1 C618.2,78.5 611.8,78.8 605.4,79.2 C599.1,79.7 592.7,80.1 586.3,80.6 C579.9,81.1 573.5,81.7 567.2,82.4 C560.8,83.0 554.4,83.6 548.0,84.6 C541.6,85.5 535.8,87.3 528.9,88.0 C522.0,88.7 512.6,87.6 506.4,88.9 C500.3,90.2 495.7,93.4 491.9,95.7 C488.2,98.0 486.6,96.3 484.0,102.5 C481.4,108.7 478.9,121.7 476.1,132.9 C473.2,144.0 469.9,158.9 466.8,169.3 C463.8,179.7 460.7,188.4 457.6,195.1 C454.5,201.8 451.9,204.3 448.4,209.5 C444.8,214.7 440.4,222.1 436.5,226.2 C432.6,230.3 430.1,231.9 425.0,234.2 C419.9,236.6 412.2,238.7 405.9,240.4 C399.5,242.0 389.9,243.7 386.7,244.3" fill="none" stroke="#000" stroke-width="1.6" stroke-dasharray="3,4.5"/><path d="M390.3,246.6 C393.5,246.4 403.0,245.7 409.4,245.3 C415.8,244.9 422.2,244.6 428.6,244.2 C434.9,243.7 441.3,243.3 447.7,242.8 C454.1,242.3 460.5,241.7 466.8,241.0 C473.2,240.4 479.6,239.8 486.0,238.8 C492.4,237.9 498.2,236.1 505.1,235.4 C512.0,234.7 521.4,235.8 527.6,234.5 C533.7,233.2 538.3,230.0 542.1,227.7 C545.8,225.4 547.4,227.1 550.0,220.9 C552.6,214.7 555.1,201.7 557.9,190.5 C560.8,179.4 564.1,164.5 567.2,154.1 C570.2,143.7 573.3,135.0 576.4,128.3 C579.5,121.6 582.1,119.1 585.6,113.9 C589.2,108.7 593.6,101.3 597.5,97.2 C601.4,93.1 603.9,91.5 609.0,89.2 C614.1,86.8 621.8,84.7 628.1,83.0 C634.5,81.4 644.1,79.7 647.3,79.1" fill="none" stroke="#000" stroke-width="1.6" stroke-dasharray="3,4.5"/></g><ellipse cx="649.0" cy="85.0" rx="3.90" ry="4.85" fill="#fff" stroke="#000" stroke-width="1.5"/><ellipse cx="629.9" cy="86.1" rx="3.90" ry="4.85" fill="#fff" stroke="#000" stroke-width="1.5"/><ellipse cx="610.7" cy="87.2" rx="3.90" ry="4.85" fill="#fff" stroke="#000" stroke-width="1.5"/><ellipse cx="591.6" cy="88.3" rx="3.90" ry="4.85" fill="#fff" stroke="#000" stroke-width="1.5"/><ellipse cx="572.4" cy="89.8" rx="3.90" ry="4.85" fill="#fff" stroke="#000" stroke-width="1.5"/><ellipse cx="553.3" cy="91.7" rx="3.90" ry="4.85" fill="#fff" stroke="#000" stroke-width="1.5"/><ellipse cx="534.2" cy="94.4" rx="3.90" ry="4.85" fill="#fff" stroke="#000" stroke-width="1.5"/><ellipse cx="515.7" cy="95.7" rx="3.90" ry="4.85" fill="#fff" stroke="#000" stroke-width="1.5"/><ellipse cx="499.8" cy="101.0" rx="3.90" ry="4.85" fill="#fff" stroke="#000" stroke-width="1.5"/><ellipse cx="488.4" cy="116.9" rx="3.90" ry="4.85" fill="#fff" stroke="#000" stroke-width="1.5"/><ellipse cx="480.6" cy="168.1" rx="3.90" ry="4.85" fill="#fff" stroke="#000" stroke-width="1.5"/><ellipse cx="462.6" cy="200.4" rx="3.90" ry="4.85" fill="#fff" stroke="#000" stroke-width="1.5"/><ellipse cx="445.7" cy="213.3" rx="3.90" ry="4.85" fill="#fff" stroke="#000" stroke-width="1.5"/><ellipse cx="421.3" cy="235.7" rx="3.90" ry="4.85" fill="#fff" stroke="#000" stroke-width="1.5"/><ellipse cx="402.2" cy="241.2" rx="3.90" ry="4.85" fill="#fff" stroke="#000" stroke-width="1.5"/><ellipse cx="383.0" cy="245.0" rx="3.90" ry="4.85" fill="#fff" stroke="#000" stroke-width="1.5"/><ellipse cx="385.0" cy="238.4" rx="3.90" ry="4.85" fill="#fff" stroke="#000" stroke-width="1.5"/><ellipse cx="404.1" cy="237.3" rx="3.90" ry="4.85" fill="#fff" stroke="#000" stroke-width="1.5"/><ellipse cx="423.3" cy="236.2" rx="3.90" ry="4.85" fill="#fff" stroke="#000" stroke-width="1.5"/><ellipse cx="442.4" cy="235.1" rx="3.90" ry="4.85" fill="#fff" stroke="#000" stroke-width="1.5"/><ellipse cx="461.6" cy="233.6" rx="3.90" ry="4.85" fill="#fff" stroke="#000" stroke-width="1.5"/><ellipse cx="480.7" cy="231.7" rx="3.90" ry="4.85" fill="#fff" stroke="#000" stroke-width="1.5"/><ellipse cx="499.8" cy="229.0" rx="3.90" ry="4.85" fill="#fff" stroke="#000" stroke-width="1.5"/><ellipse cx="518.3" cy="227.7" rx="3.90" ry="4.85" fill="#fff" stroke="#000" stroke-width="1.5"/><ellipse cx="532.8" cy="223.9" rx="3.90" ry="4.85" fill="#fff" stroke="#000" stroke-width="1.5"/><ellipse cx="540.4" cy="219.4" rx="3.90" ry="4.85" fill="#fff" stroke="#000" stroke-width="1.5"/><ellipse cx="548.2" cy="179.1" rx="3.90" ry="4.85" fill="#fff" stroke="#000" stroke-width="1.5"/><ellipse cx="559.6" cy="141.6" rx="3.90" ry="4.85" fill="#fff" stroke="#000" stroke-width="1.5"/><ellipse cx="568.2" cy="128.7" rx="3.90" ry="4.85" fill="#fff" stroke="#000" stroke-width="1.5"/><ellipse cx="583.0" cy="113.9" rx="3.90" ry="4.85" fill="#fff" stroke="#000" stroke-width="1.5"/><ellipse cx="593.6" cy="101.6" rx="3.90" ry="4.85" fill="#fff" stroke="#000" stroke-width="1.5"/><ellipse cx="612.7" cy="87.7" rx="3.90" ry="4.85" fill="#fff" stroke="#000" stroke-width="1.5"/><ellipse cx="631.8" cy="82.2" rx="3.90" ry="4.85" fill="#fff" stroke="#000" stroke-width="1.5"/><ellipse cx="651.0" cy="78.4" rx="3.90" ry="4.85" fill="#fff" stroke="#000" stroke-width="1.5"/><ellipse cx="642.4" cy="76.9" rx="4.85" ry="5.60" fill="#000"/><ellipse cx="623.3" cy="78.2" rx="4.85" ry="5.60" fill="#000"/><ellipse cx="604.1" cy="79.3" rx="4.85" ry="5.60" fill="#000"/><ellipse cx="585.0" cy="80.7" rx="4.85" ry="5.60" fill="#000"/><ellipse cx="565.8" cy="82.5" rx="4.85" ry="5.60" fill="#000"/><ellipse cx="546.7" cy="84.7" rx="4.85" ry="5.60" fill="#000"/><ellipse cx="527.6" cy="88.3" rx="4.85" ry="5.60" fill="#000"/><ellipse cx="509.1" cy="88.9" rx="4.85" ry="5.60" fill="#000"/><ellipse cx="495.9" cy="97.2" rx="4.85" ry="5.60" fill="#000"/><ellipse cx="480.6" cy="115.4" rx="4.85" ry="5.60" fill="#000"/><ellipse cx="472.9" cy="172.3" rx="4.85" ry="5.60" fill="#000"/><ellipse cx="456.3" cy="217.1" rx="4.85" ry="5.60" fill="#000"/><ellipse cx="437.8" cy="225.4" rx="4.85" ry="5.60" fill="#000"/><ellipse cx="425.9" cy="233.5" rx="4.85" ry="5.60" fill="#000"/><ellipse cx="406.8" cy="240.1" rx="4.85" ry="5.60" fill="#000"/><ellipse cx="387.6" cy="244.1" rx="4.85" ry="5.60" fill="#000"/><ellipse cx="391.6" cy="246.5" rx="4.85" ry="5.60" fill="#000"/><ellipse cx="410.7" cy="245.2" rx="4.85" ry="5.60" fill="#000"/><ellipse cx="429.9" cy="244.1" rx="4.85" ry="5.60" fill="#000"/><ellipse cx="449.0" cy="242.7" rx="4.85" ry="5.60" fill="#000"/><ellipse cx="468.2" cy="240.9" rx="4.85" ry="5.60" fill="#000"/><ellipse cx="487.3" cy="238.7" rx="4.85" ry="5.60" fill="#000"/><ellipse cx="506.4" cy="235.1" rx="4.85" ry="5.60" fill="#000"/><ellipse cx="524.9" cy="234.5" rx="4.85" ry="5.60" fill="#000"/><ellipse cx="538.1" cy="226.2" rx="4.85" ry="5.60" fill="#000"/><ellipse cx="557.1" cy="189.4" rx="4.85" ry="5.60" fill="#000"/><ellipse cx="561.0" cy="149.6" rx="4.85" ry="5.60" fill="#000"/><ellipse cx="577.7" cy="105.6" rx="4.85" ry="5.60" fill="#000"/><ellipse cx="584.3" cy="94.9" rx="4.85" ry="5.60" fill="#000"/><ellipse cx="602.8" cy="89.6" rx="4.85" ry="5.60" fill="#000"/><ellipse cx="627.2" cy="83.3" rx="4.85" ry="5.60" fill="#000"/><ellipse cx="646.4" cy="79.3" rx="4.85" ry="5.60" fill="#000"/><polygon points="653.0,75.6 656.8,84.5 649.2,84.5" fill="#fff" stroke="#000" stroke-width="1.6" stroke-linejoin="miter"/><polygon points="633.8,76.9 637.6,85.8 630.0,85.8" fill="#fff" stroke="#000" stroke-width="1.6" stroke-linejoin="miter"/><polygon points="614.7,78.1 618.5,86.9 610.9,86.9" fill="#fff" stroke="#000" stroke-width="1.6" stroke-linejoin="miter"/><polygon points="595.5,79.1 599.3,88.0 591.7,88.0" fill="#fff" stroke="#000" stroke-width="1.6" stroke-linejoin="miter"/><polygon points="576.4,80.7 580.2,89.6 572.6,89.6" fill="#fff" stroke="#000" stroke-width="1.6" stroke-linejoin="miter"/><polygon points="557.3,82.6 561.1,91.5 553.5,91.5" fill="#fff" stroke="#000" stroke-width="1.6" stroke-linejoin="miter"/><polygon points="538.1,85.1 541.9,94.0 534.3,94.0" fill="#fff" stroke="#000" stroke-width="1.6" stroke-linejoin="miter"/><polygon points="519.0,88.8 522.8,97.7 515.2,97.7" fill="#fff" stroke="#000" stroke-width="1.6" stroke-linejoin="miter"/><polygon points="503.8,84.8 507.6,93.7 500.0,93.7" fill="#fff" stroke="#000" stroke-width="1.6" stroke-linejoin="miter"/><polygon points="485.3,97.7 489.1,106.6 481.5,106.6" fill="#fff" stroke="#000" stroke-width="1.6" stroke-linejoin="miter"/><polygon points="460.2,134.9 464.0,143.8 456.4,143.8" fill="#fff" stroke="#000" stroke-width="1.6" stroke-linejoin="miter"/><polygon points="453.6,184.2 457.4,193.1 449.8,193.1" fill="#fff" stroke="#000" stroke-width="1.6" stroke-linejoin="miter"/><polygon points="429.9,222.1 433.7,231.0 426.1,231.0" fill="#fff" stroke="#000" stroke-width="1.6" stroke-linejoin="miter"/><polygon points="418.5,231.8 422.3,240.7 414.7,240.7" fill="#fff" stroke="#000" stroke-width="1.6" stroke-linejoin="miter"/><polygon points="399.4,237.0 403.2,245.9 395.6,245.9" fill="#fff" stroke="#000" stroke-width="1.6" stroke-linejoin="miter"/><polygon points="380.2,240.8 384.0,249.6 376.4,249.6" fill="#fff" stroke="#000" stroke-width="1.6" stroke-linejoin="miter"/><polygon points="381.0,238.2 384.8,247.0 377.2,247.0" fill="#fff" stroke="#000" stroke-width="1.6" stroke-linejoin="miter"/><polygon points="400.2,236.9 404.0,245.8 396.4,245.8" fill="#fff" stroke="#000" stroke-width="1.6" stroke-linejoin="miter"/><polygon points="419.3,235.7 423.1,244.6 415.5,244.6" fill="#fff" stroke="#000" stroke-width="1.6" stroke-linejoin="miter"/><polygon points="438.5,234.7 442.3,243.6 434.7,243.6" fill="#fff" stroke="#000" stroke-width="1.6" stroke-linejoin="miter"/><polygon points="457.6,233.1 461.4,242.0 453.8,242.0" fill="#fff" stroke="#000" stroke-width="1.6" stroke-linejoin="miter"/><polygon points="476.7,231.2 480.5,240.1 472.9,240.1" fill="#fff" stroke="#000" stroke-width="1.6" stroke-linejoin="miter"/><polygon points="495.9,228.7 499.7,237.6 492.1,237.6" fill="#fff" stroke="#000" stroke-width="1.6" stroke-linejoin="miter"/><polygon points="515.0,225.0 518.8,233.9 511.2,233.9" fill="#fff" stroke="#000" stroke-width="1.6" stroke-linejoin="miter"/><polygon points="530.2,229.0 534.0,237.8 526.4,237.8" fill="#fff" stroke="#000" stroke-width="1.6" stroke-linejoin="miter"/><polygon points="548.7,216.1 552.5,225.0 544.9,225.0" fill="#fff" stroke="#000" stroke-width="1.6" stroke-linejoin="miter"/><polygon points="573.8,178.9 577.6,187.8 570.0,187.8" fill="#fff" stroke="#000" stroke-width="1.6" stroke-linejoin="miter"/><polygon points="580.4,129.6 584.2,138.5 576.6,138.5" fill="#fff" stroke="#000" stroke-width="1.6" stroke-linejoin="miter"/><polygon points="604.1,91.7 607.9,100.5 600.3,100.5" fill="#fff" stroke="#000" stroke-width="1.6" stroke-linejoin="miter"/><polygon points="615.5,82.0 619.3,90.9 611.7,90.9" fill="#fff" stroke="#000" stroke-width="1.6" stroke-linejoin="miter"/><polygon points="634.6,76.8 638.4,85.6 630.8,85.6" fill="#fff" stroke="#000" stroke-width="1.6" stroke-linejoin="miter"/><polygon points="653.8,73.0 657.6,81.9 650.0,81.9" fill="#fff" stroke="#000" stroke-width="1.6" stroke-linejoin="miter"/><polygon points="645.7,69.0 649.8,78.4 641.6,78.4" fill="#000" stroke="#000" stroke-width="1" stroke-linejoin="miter"/><polygon points="626.6,70.4 630.7,79.8 622.5,79.8" fill="#000" stroke="#000" stroke-width="1" stroke-linejoin="miter"/><polygon points="607.4,71.5 611.5,81.0 603.3,81.0" fill="#000" stroke="#000" stroke-width="1" stroke-linejoin="miter"/><polygon points="588.3,72.9 592.4,82.4 584.2,82.4" fill="#000" stroke="#000" stroke-width="1" stroke-linejoin="miter"/><polygon points="569.1,74.6 573.2,84.1 565.0,84.1" fill="#000" stroke="#000" stroke-width="1" stroke-linejoin="miter"/><polygon points="550.0,76.9 554.1,86.3 545.9,86.3" fill="#000" stroke="#000" stroke-width="1" stroke-linejoin="miter"/><polygon points="530.9,80.3 535.0,89.7 526.8,89.7" fill="#000" stroke="#000" stroke-width="1" stroke-linejoin="miter"/><polygon points="505.1,81.5 509.2,90.9 501.0,90.9" fill="#000" stroke="#000" stroke-width="1" stroke-linejoin="miter"/><polygon points="486.6,94.4 490.7,103.8 482.5,103.8" fill="#000" stroke="#000" stroke-width="1" stroke-linejoin="miter"/><polygon points="470.8,111.1 474.9,120.5 466.7,120.5" fill="#000" stroke="#000" stroke-width="1" stroke-linejoin="miter"/><polygon points="465.5,129.3 469.6,138.7 461.4,138.7" fill="#000" stroke="#000" stroke-width="1" stroke-linejoin="miter"/><polygon points="437.8,215.8 441.9,225.2 433.7,225.2" fill="#000" stroke="#000" stroke-width="1" stroke-linejoin="miter"/><polygon points="423.6,229.8 427.7,239.2 419.5,239.2" fill="#000" stroke="#000" stroke-width="1" stroke-linejoin="miter"/><polygon points="404.5,235.6 408.6,245.0 400.4,245.0" fill="#000" stroke="#000" stroke-width="1" stroke-linejoin="miter"/><polygon points="385.3,239.5 389.4,248.9 381.2,248.9" fill="#000" stroke="#000" stroke-width="1" stroke-linejoin="miter"/><polygon points="388.3,244.2 392.4,253.6 384.2,253.6" fill="#000" stroke="#000" stroke-width="1" stroke-linejoin="miter"/><polygon points="407.4,242.8 411.5,252.3 403.3,252.3" fill="#000" stroke="#000" stroke-width="1" stroke-linejoin="miter"/><polygon points="426.6,241.7 430.7,251.1 422.5,251.1" fill="#000" stroke="#000" stroke-width="1" stroke-linejoin="miter"/><polygon points="445.7,240.3 449.8,249.7 441.6,249.7" fill="#000" stroke="#000" stroke-width="1" stroke-linejoin="miter"/><polygon points="464.9,238.6 469.0,248.0 460.8,248.0" fill="#000" stroke="#000" stroke-width="1" stroke-linejoin="miter"/><polygon points="484.0,236.3 488.1,245.7 479.9,245.7" fill="#000" stroke="#000" stroke-width="1" stroke-linejoin="miter"/><polygon points="503.1,232.9 507.2,242.4 499.0,242.4" fill="#000" stroke="#000" stroke-width="1" stroke-linejoin="miter"/><polygon points="528.9,231.7 533.0,241.1 524.8,241.1" fill="#000" stroke="#000" stroke-width="1" stroke-linejoin="miter"/><polygon points="547.4,218.8 551.5,228.2 543.3,228.2" fill="#000" stroke="#000" stroke-width="1" stroke-linejoin="miter"/><polygon points="563.2,202.1 567.3,211.6 559.1,211.6" fill="#000" stroke="#000" stroke-width="1" stroke-linejoin="miter"/><polygon points="568.5,183.9 572.6,193.3 564.4,193.3" fill="#000" stroke="#000" stroke-width="1" stroke-linejoin="miter"/><polygon points="596.2,97.4 600.3,106.9 592.1,106.9" fill="#000" stroke="#000" stroke-width="1" stroke-linejoin="miter"/><polygon points="610.4,83.4 614.5,92.9 606.3,92.9" fill="#000" stroke="#000" stroke-width="1" stroke-linejoin="miter"/><polygon points="629.5,77.6 633.6,87.1 625.4,87.1" fill="#000" stroke="#000" stroke-width="1" stroke-linejoin="miter"/><polygon points="648.7,73.7 652.8,83.2 644.6,83.2" fill="#000" stroke="#000" stroke-width="1" stroke-linejoin="miter"/><polygon points="639.8,84.4 643.6,75.5 636.0,75.5" fill="#fff" stroke="#000" stroke-width="1.6" stroke-linejoin="miter"/><polygon points="620.6,85.7 624.4,76.8 616.8,76.8" fill="#fff" stroke="#000" stroke-width="1.6" stroke-linejoin="miter"/><polygon points="601.5,86.7 605.3,77.9 597.7,77.9" fill="#fff" stroke="#000" stroke-width="1.6" stroke-linejoin="miter"/><polygon points="582.3,88.2 586.1,79.3 578.5,79.3" fill="#fff" stroke="#000" stroke-width="1.6" stroke-linejoin="miter"/><polygon points="563.2,90.0 567.0,81.1 559.4,81.1" fill="#fff" stroke="#000" stroke-width="1.6" stroke-linejoin="miter"/><polygon points="544.1,92.1 547.9,83.2 540.3,83.2" fill="#fff" stroke="#000" stroke-width="1.6" stroke-linejoin="miter"/><polygon points="524.9,95.8 528.7,86.9 521.1,86.9" fill="#fff" stroke="#000" stroke-width="1.6" stroke-linejoin="miter"/><polygon points="513.0,92.9 516.8,84.0 509.2,84.0" fill="#fff" stroke="#000" stroke-width="1.6" stroke-linejoin="miter"/><polygon points="490.6,105.8 494.4,96.9 486.8,96.9" fill="#fff" stroke="#000" stroke-width="1.6" stroke-linejoin="miter"/><polygon points="473.4,136.9 477.2,128.0 469.6,128.0" fill="#fff" stroke="#000" stroke-width="1.6" stroke-linejoin="miter"/><polygon points="464.2,180.9 468.0,172.0 460.4,172.0" fill="#fff" stroke="#000" stroke-width="1.6" stroke-linejoin="miter"/><polygon points="448.4,210.5 452.2,201.6 444.6,201.6" fill="#fff" stroke="#000" stroke-width="1.6" stroke-linejoin="miter"/><polygon points="431.2,230.2 435.0,221.3 427.4,221.3" fill="#fff" stroke="#000" stroke-width="1.6" stroke-linejoin="miter"/><polygon points="408.6,244.5 412.4,235.6 404.8,235.6" fill="#fff" stroke="#000" stroke-width="1.6" stroke-linejoin="miter"/><polygon points="389.5,248.6 393.3,239.7 385.7,239.7" fill="#fff" stroke="#000" stroke-width="1.6" stroke-linejoin="miter"/><polygon points="394.2,248.6 398.0,239.7 390.4,239.7" fill="#fff" stroke="#000" stroke-width="1.6" stroke-linejoin="miter"/><polygon points="413.4,247.3 417.2,238.5 409.6,238.5" fill="#fff" stroke="#000" stroke-width="1.6" stroke-linejoin="miter"/><polygon points="432.5,246.3 436.3,237.4 428.7,237.4" fill="#fff" stroke="#000" stroke-width="1.6" stroke-linejoin="miter"/><polygon points="451.7,244.8 455.5,235.9 447.9,235.9" fill="#fff" stroke="#000" stroke-width="1.6" stroke-linejoin="miter"/><polygon points="470.8,243.0 474.6,234.1 467.0,234.1" fill="#fff" stroke="#000" stroke-width="1.6" stroke-linejoin="miter"/><polygon points="489.9,240.9 493.7,232.0 486.1,232.0" fill="#fff" stroke="#000" stroke-width="1.6" stroke-linejoin="miter"/><polygon points="509.1,237.2 512.9,228.3 505.3,228.3" fill="#fff" stroke="#000" stroke-width="1.6" stroke-linejoin="miter"/><polygon points="521.0,240.1 524.8,231.2 517.2,231.2" fill="#fff" stroke="#000" stroke-width="1.6" stroke-linejoin="miter"/><polygon points="543.4,227.2 547.2,218.3 539.6,218.3" fill="#fff" stroke="#000" stroke-width="1.6" stroke-linejoin="miter"/><polygon points="560.6,196.1 564.4,187.2 556.8,187.2" fill="#fff" stroke="#000" stroke-width="1.6" stroke-linejoin="miter"/><polygon points="569.8,152.1 573.6,143.2 566.0,143.2" fill="#fff" stroke="#000" stroke-width="1.6" stroke-linejoin="miter"/><polygon points="585.6,122.5 589.4,113.6 581.8,113.6" fill="#fff" stroke="#000" stroke-width="1.6" stroke-linejoin="miter"/><polygon points="602.8,102.8 606.6,93.9 599.0,93.9" fill="#fff" stroke="#000" stroke-width="1.6" stroke-linejoin="miter"/><polygon points="625.4,88.5 629.2,79.6 621.6,79.6" fill="#fff" stroke="#000" stroke-width="1.6" stroke-linejoin="miter"/><polygon points="644.5,84.4 648.3,75.5 640.7,75.5" fill="#fff" stroke="#000" stroke-width="1.6" stroke-linejoin="miter"/><polygon points="651.0,74.6 655.1,65.1 646.9,65.1" fill="#000" stroke="#000" stroke-width="1" stroke-linejoin="miter"/><polygon points="631.8,76.0 635.9,66.6 627.7,66.6" fill="#000" stroke="#000" stroke-width="1" stroke-linejoin="miter"/><polygon points="612.7,77.3 616.8,67.9 608.6,67.9" fill="#000" stroke="#000" stroke-width="1" stroke-linejoin="miter"/><polygon points="593.6,78.6 597.7,69.1 589.5,69.1" fill="#000" stroke="#000" stroke-width="1" stroke-linejoin="miter"/><polygon points="574.4,80.3 578.5,70.9 570.3,70.9" fill="#000" stroke="#000" stroke-width="1" stroke-linejoin="miter"/><polygon points="555.3,82.6 559.4,73.1 551.2,73.1" fill="#000" stroke="#000" stroke-width="1" stroke-linejoin="miter"/><polygon points="536.1,85.6 540.2,76.2 532.0,76.2" fill="#000" stroke="#000" stroke-width="1" stroke-linejoin="miter"/><polygon points="510.4,86.4 514.5,77.0 506.3,77.0" fill="#000" stroke="#000" stroke-width="1" stroke-linejoin="miter"/><polygon points="491.9,101.6 496.0,92.1 487.8,92.1" fill="#000" stroke="#000" stroke-width="1" stroke-linejoin="miter"/><polygon points="473.4,178.2 477.5,168.7 469.3,168.7" fill="#000" stroke="#000" stroke-width="1" stroke-linejoin="miter"/><polygon points="440.4,226.0 444.5,216.5 436.3,216.5" fill="#000" stroke="#000" stroke-width="1" stroke-linejoin="miter"/><polygon points="419.9,241.2 424.0,231.8 415.8,231.8" fill="#000" stroke="#000" stroke-width="1" stroke-linejoin="miter"/><polygon points="400.8,246.6 404.9,237.2 396.7,237.2" fill="#000" stroke="#000" stroke-width="1" stroke-linejoin="miter"/><polygon points="381.6,250.4 385.7,241.0 377.5,241.0" fill="#000" stroke="#000" stroke-width="1" stroke-linejoin="miter"/><polygon points="383.0,259.0 387.1,249.6 378.9,249.6" fill="#000" stroke="#000" stroke-width="1" stroke-linejoin="miter"/><polygon points="402.2,257.6 406.3,248.2 398.1,248.2" fill="#000" stroke="#000" stroke-width="1" stroke-linejoin="miter"/><polygon points="421.3,256.3 425.4,246.9 417.2,246.9" fill="#000" stroke="#000" stroke-width="1" stroke-linejoin="miter"/><polygon points="440.4,255.0 444.5,245.6 436.3,245.6" fill="#000" stroke="#000" stroke-width="1" stroke-linejoin="miter"/><polygon points="459.6,253.3 463.7,243.8 455.5,243.8" fill="#000" stroke="#000" stroke-width="1" stroke-linejoin="miter"/><polygon points="478.7,251.0 482.8,241.6 474.6,241.6" fill="#000" stroke="#000" stroke-width="1" stroke-linejoin="miter"/><polygon points="497.9,248.0 502.0,238.5 493.8,238.5" fill="#000" stroke="#000" stroke-width="1" stroke-linejoin="miter"/><polygon points="523.6,247.2 527.7,237.8 519.5,237.8" fill="#000" stroke="#000" stroke-width="1" stroke-linejoin="miter"/><polygon points="542.1,232.0 546.2,222.6 538.0,222.6" fill="#000" stroke="#000" stroke-width="1" stroke-linejoin="miter"/><polygon points="560.6,155.4 564.7,146.0 556.5,146.0" fill="#000" stroke="#000" stroke-width="1" stroke-linejoin="miter"/><polygon points="593.6,107.6 597.7,98.2 589.5,98.2" fill="#000" stroke="#000" stroke-width="1" stroke-linejoin="miter"/><polygon points="614.1,92.4 618.2,82.9 610.0,82.9" fill="#000" stroke="#000" stroke-width="1" stroke-linejoin="miter"/><polygon points="633.2,87.0 637.3,77.5 629.1,77.5" fill="#000" stroke="#000" stroke-width="1" stroke-linejoin="miter"/><polygon points="652.4,83.2 656.5,73.8 648.3,73.8" fill="#000" stroke="#000" stroke-width="1" stroke-linejoin="miter"/><polygon points="643.7,72.2 647.2,76.8 643.7,81.4 640.2,76.8" fill="#fff" stroke="#000" stroke-width="1.6" stroke-linejoin="miter"/><polygon points="624.6,73.5 628.1,78.1 624.6,82.7 621.1,78.1" fill="#fff" stroke="#000" stroke-width="1.6" stroke-linejoin="miter"/><polygon points="605.4,74.6 608.9,79.2 605.4,83.8 601.9,79.2" fill="#fff" stroke="#000" stroke-width="1.6" stroke-linejoin="miter"/><polygon points="586.3,76.0 589.8,80.6 586.3,85.2 582.8,80.6" fill="#fff" stroke="#000" stroke-width="1.6" stroke-linejoin="miter"/><polygon points="567.2,77.8 570.7,82.4 567.2,87.0 563.7,82.4" fill="#fff" stroke="#000" stroke-width="1.6" stroke-linejoin="miter"/><polygon points="548.0,80.0 551.5,84.6 548.0,89.2 544.5,84.6" fill="#fff" stroke="#000" stroke-width="1.6" stroke-linejoin="miter"/><polygon points="528.9,83.4 532.4,88.0 528.9,92.6 525.4,88.0" fill="#fff" stroke="#000" stroke-width="1.6" stroke-linejoin="miter"/><polygon points="506.4,84.3 509.9,88.9 506.4,93.5 502.9,88.9" fill="#fff" stroke="#000" stroke-width="1.6" stroke-linejoin="miter"/><polygon points="491.9,91.1 495.4,95.7 491.9,100.3 488.4,95.7" fill="#fff" stroke="#000" stroke-width="1.6" stroke-linejoin="miter"/><polygon points="484.0,97.9 487.5,102.5 484.0,107.1 480.5,102.5" fill="#fff" stroke="#000" stroke-width="1.6" stroke-linejoin="miter"/><polygon points="466.8,164.7 470.3,169.3 466.8,173.9 463.3,169.3" fill="#fff" stroke="#000" stroke-width="1.6" stroke-linejoin="miter"/><polygon points="448.4,204.9 451.9,209.5 448.4,214.1 444.9,209.5" fill="#fff" stroke="#000" stroke-width="1.6" stroke-linejoin="miter"/><polygon points="436.5,221.6 440.0,226.2 436.5,230.8 433.0,226.2" fill="#fff" stroke="#000" stroke-width="1.6" stroke-linejoin="miter"/><polygon points="425.0,229.6 428.5,234.2 425.0,238.8 421.5,234.2" fill="#fff" stroke="#000" stroke-width="1.6" stroke-linejoin="miter"/><polygon points="405.9,235.8 409.4,240.4 405.9,245.0 402.4,240.4" fill="#fff" stroke="#000" stroke-width="1.6" stroke-linejoin="miter"/><polygon points="386.7,239.7 390.2,244.3 386.7,248.9 383.2,244.3" fill="#fff" stroke="#000" stroke-width="1.6" stroke-linejoin="miter"/><polygon points="390.3,242.0 393.8,246.6 390.3,251.2 386.8,246.6" fill="#fff" stroke="#000" stroke-width="1.6" stroke-linejoin="miter"/><polygon points="409.4,240.7 412.9,245.3 409.4,249.9 405.9,245.3" fill="#fff" stroke="#000" stroke-width="1.6" stroke-linejoin="miter"/><polygon points="428.6,239.6 432.1,244.2 428.6,248.8 425.1,244.2" fill="#fff" stroke="#000" stroke-width="1.6" stroke-linejoin="miter"/><polygon points="447.7,238.2 451.2,242.8 447.7,247.4 444.2,242.8" fill="#fff" stroke="#000" stroke-width="1.6" stroke-linejoin="miter"/><polygon points="466.8,236.4 470.3,241.0 466.8,245.6 463.3,241.0" fill="#fff" stroke="#000" stroke-width="1.6" stroke-linejoin="miter"/><polygon points="486.0,234.2 489.5,238.8 486.0,243.4 482.5,238.8" fill="#fff" stroke="#000" stroke-width="1.6" stroke-linejoin="miter"/><polygon points="505.1,230.8 508.6,235.4 505.1,240.0 501.6,235.4" fill="#fff" stroke="#000" stroke-width="1.6" stroke-linejoin="miter"/><polygon points="527.6,229.9 531.1,234.5 527.6,239.1 524.1,234.5" fill="#fff" stroke="#000" stroke-width="1.6" stroke-linejoin="miter"/><polygon points="542.1,223.1 545.6,227.7 542.1,232.3 538.6,227.7" fill="#fff" stroke="#000" stroke-width="1.6" stroke-linejoin="miter"/><polygon points="550.0,216.3 553.5,220.9 550.0,225.5 546.5,220.9" fill="#fff" stroke="#000" stroke-width="1.6" stroke-linejoin="miter"/><polygon points="567.2,149.5 570.7,154.1 567.2,158.7 563.7,154.1" fill="#fff" stroke="#000" stroke-width="1.6" stroke-linejoin="miter"/><polygon points="585.6,109.3 589.1,113.9 585.6,118.5 582.1,113.9" fill="#fff" stroke="#000" stroke-width="1.6" stroke-linejoin="miter"/><polygon points="597.5,92.6 601.0,97.2 597.5,101.8 594.0,97.2" fill="#fff" stroke="#000" stroke-width="1.6" stroke-linejoin="miter"/><polygon points="609.0,84.6 612.5,89.2 609.0,93.8 605.5,89.2" fill="#fff" stroke="#000" stroke-width="1.6" stroke-linejoin="miter"/><polygon points="628.1,78.4 631.6,83.0 628.1,87.6 624.6,83.0" fill="#fff" stroke="#000" stroke-width="1.6" stroke-linejoin="miter"/><polygon points="647.3,74.5 650.8,79.1 647.3,83.7 643.8,79.1" fill="#fff" stroke="#000" stroke-width="1.6" stroke-linejoin="miter"/>
<clipPath id="clipc"><rect x="51" y="337.0" width="256" height="247.0"/></clipPath><g clip-path="url(#clipc)"><path d="M308.3,394.6 C305.6,394.7 297.6,395.0 292.3,395.2 C286.9,395.5 281.6,395.7 276.3,396.0 C270.9,396.2 265.6,396.4 260.3,396.8 C254.9,397.2 249.6,397.7 244.3,398.3 C238.9,398.8 233.6,399.3 228.3,400.0 C222.9,400.8 217.4,401.5 212.3,402.6 C207.2,403.7 202.0,404.9 197.6,406.7 C193.1,408.5 189.2,408.9 185.4,413.3 C181.6,417.7 177.7,425.4 174.9,433.2 C172.1,441.1 170.6,451.1 168.8,460.4 C167.0,469.7 165.9,478.4 164.2,488.9 C162.4,499.4 159.7,516.0 158.1,523.4 C156.6,530.8 158.2,529.3 154.8,533.3 C151.5,537.3 144.0,543.0 138.0,547.2 C132.0,551.4 125.8,555.4 118.8,558.5 C111.9,561.6 102.6,564.2 96.2,566.0 C89.7,567.8 85.5,568.5 80.2,569.4 C74.9,570.3 69.5,570.8 64.2,571.5 C58.9,572.1 50.9,572.9 48.2,573.2" fill="none" stroke="#000" stroke-width="1.6"/><path d="M49.7,572.6 C52.4,572.5 60.4,572.2 65.7,572.0 C71.1,571.7 76.4,571.5 81.7,571.2 C87.1,571.0 92.4,570.8 97.7,570.4 C103.1,570.0 108.4,569.5 113.7,568.9 C119.1,568.4 124.4,567.9 129.7,567.2 C135.1,566.4 140.6,565.7 145.7,564.6 C150.8,563.5 156.0,562.3 160.4,560.5 C164.9,558.7 168.8,558.3 172.6,553.9 C176.4,549.5 180.3,541.8 183.1,534.0 C185.9,526.1 187.4,516.1 189.2,506.8 C191.0,497.5 192.1,488.8 193.8,478.3 C195.6,467.8 198.3,451.2 199.9,443.8 C201.4,436.4 199.8,437.9 203.2,433.9 C206.5,429.9 214.0,424.2 220.0,420.0 C226.0,415.8 232.2,411.8 239.2,408.7 C246.1,405.6 255.4,403.0 261.8,401.2 C268.3,399.4 272.5,398.7 277.8,397.8 C283.1,396.9 288.5,396.4 293.8,395.7 C299.1,395.1 307.1,394.3 309.8,394.0" fill="none" stroke="#000" stroke-width="1.6"/><path d="M300.6,396.6 C297.9,396.7 289.9,397.0 284.6,397.3 C279.3,397.5 273.9,397.8 268.6,398.1 C263.3,398.4 257.9,398.6 252.6,399.1 C247.3,399.5 241.9,400.1 236.6,400.7 C231.3,401.4 225.9,402.1 220.6,402.9 C215.3,403.7 209.8,404.7 204.6,405.4 C199.4,406.0 194.7,403.9 189.2,406.7 C183.8,409.5 177.0,415.3 171.8,421.9 C166.6,428.6 161.3,438.6 158.1,446.5 C155.0,454.3 155.0,458.4 153.0,469.0 C151.0,479.6 150.2,500.0 146.0,510.1 C141.8,520.3 134.2,523.7 127.8,530.0 C121.4,536.3 114.4,541.8 107.3,547.9 C100.3,554.0 91.9,563.1 85.6,566.6 C79.3,570.2 74.9,568.5 69.6,569.2 C64.2,569.9 56.2,570.6 53.6,570.9" fill="none" stroke="#000" stroke-width="1.6" stroke-dasharray="16,3,3,3"/><path d="M57.4,570.6 C60.1,570.5 68.1,570.2 73.4,569.9 C78.7,569.7 84.1,569.4 89.4,569.1 C94.7,568.8 100.1,568.6 105.4,568.1 C110.7,567.7 116.1,567.1 121.4,566.5 C126.7,565.8 132.1,565.1 137.4,564.3 C142.7,563.5 148.2,562.5 153.4,561.8 C158.6,561.2 163.3,563.3 168.8,560.5 C174.2,557.7 181.0,551.9 186.2,545.3 C191.4,538.6 196.7,528.6 199.9,520.7 C203.0,512.9 203.0,508.8 205.0,498.2 C207.0,487.6 207.8,467.2 212.0,457.1 C216.2,446.9 223.8,443.5 230.2,437.2 C236.6,430.9 243.6,425.4 250.7,419.3 C257.7,413.2 266.1,404.1 272.4,400.6 C278.7,397.0 283.1,398.7 288.4,398.0 C293.8,397.3 301.8,396.6 304.4,396.3" fill="none" stroke="#000" stroke-width="1.6" stroke-dasharray="16,3,3,3"/><path d="M312.1,404.9 C309.5,405.0 301.5,405.3 296.1,405.5 C290.8,405.7 285.5,405.9 280.1,406.1 C274.8,406.3 269.5,406.5 264.1,406.8 C258.8,407.1 253.5,407.5 248.1,407.9 C242.8,408.4 237.5,408.8 232.1,409.4 C226.8,410.0 221.5,410.8 216.1,411.6 C210.8,412.4 205.9,414.2 200.1,414.3 C194.4,414.4 187.4,411.1 181.6,412.0 C175.7,412.9 170.3,415.5 164.9,420.0 C159.5,424.4 152.2,431.8 149.0,438.5 C145.8,445.3 147.0,452.3 145.7,460.4 C144.4,468.5 143.9,479.2 141.4,486.9 C138.8,494.7 134.8,500.2 130.4,506.8 C126.0,513.4 121.8,519.5 115.0,526.7 C108.2,533.9 95.7,544.4 89.4,549.9 C83.1,555.4 82.1,557.9 77.5,559.8 C72.8,561.7 66.8,560.9 61.5,561.4 C56.2,561.9 48.2,562.6 45.5,562.9" fill="none" stroke="#000" stroke-width="1.6" stroke-dasharray="14,5"/><path d="M45.9,562.3 C48.5,562.2 56.5,561.9 61.9,561.7 C67.2,561.5 72.5,561.3 77.9,561.1 C83.2,560.9 88.5,560.7 93.9,560.4 C99.2,560.1 104.5,559.7 109.9,559.3 C115.2,558.8 120.5,558.4 125.9,557.8 C131.2,557.2 136.5,556.4 141.9,555.6 C147.2,554.8 152.5,554.0 157.9,552.9 C163.2,551.8 169.1,550.4 173.9,548.8 C178.7,547.2 182.0,545.9 186.7,543.3 C191.4,540.7 197.6,541.7 202.0,533.3 C206.5,524.9 209.9,502.8 213.6,492.9 C217.2,482.9 220.0,480.5 223.8,473.7 C227.6,466.8 232.3,458.6 236.6,451.8 C240.9,444.9 244.1,438.3 249.4,432.5 C254.7,426.8 263.4,421.5 268.6,417.3 C273.8,413.1 275.9,409.3 280.5,407.4 C285.2,405.5 291.2,406.3 296.5,405.8 C301.8,405.3 309.8,404.6 312.5,404.3" fill="none" stroke="#000" stroke-width="1.6" stroke-dasharray="14,5"/><path d="M304.4,400.8 C301.8,400.9 293.8,401.2 288.4,401.4 C283.1,401.7 277.8,401.9 272.4,402.2 C267.1,402.4 261.8,402.6 256.4,402.9 C251.1,403.3 245.8,403.9 240.4,404.5 C235.1,405.1 229.8,405.6 224.4,406.3 C219.1,407.1 213.8,407.7 208.4,408.7 C203.1,409.7 197.3,411.9 192.4,412.5 C187.5,413.0 184.4,410.6 179.0,412.0 C173.6,413.4 165.9,417.4 159.8,420.6 C153.7,423.8 146.3,424.6 142.6,431.2 C139.0,437.9 139.3,450.8 138.0,460.4 C136.8,470.0 137.0,480.6 135.0,488.9 C132.9,497.2 128.4,503.3 125.9,510.1 C123.4,517.0 125.1,523.0 120.1,530.0 C115.1,537.0 102.0,546.4 95.8,551.9 C89.6,557.4 87.7,560.8 82.9,563.0 C78.1,565.2 72.2,564.6 66.9,565.2 C61.5,565.8 53.5,566.5 50.9,566.8" fill="none" stroke="#000" stroke-width="1.6" stroke-dasharray="4.5,5"/><path d="M53.6,566.4 C56.2,566.3 64.2,566.0 69.6,565.8 C74.9,565.5 80.2,565.3 85.6,565.0 C90.9,564.8 96.2,564.6 101.6,564.3 C106.9,563.9 112.2,563.3 117.6,562.7 C122.9,562.1 128.2,561.6 133.6,560.9 C138.9,560.1 144.2,559.5 149.6,558.5 C154.9,557.5 159.6,555.3 165.6,554.7 C171.5,554.2 178.9,556.6 185.4,555.2 C191.9,553.8 199.3,550.2 204.6,546.6 C209.9,542.9 214.4,538.0 217.4,533.3 C220.4,528.7 221.0,527.0 222.5,518.7 C224.0,510.5 224.9,494.4 226.4,483.6 C227.9,472.8 229.6,462.7 231.5,453.8 C233.4,444.8 232.8,436.3 237.9,429.9 C243.0,423.5 256.0,419.6 262.2,415.3 C268.4,411.0 270.3,406.4 275.1,404.2 C279.9,402.0 285.8,402.6 291.1,402.0 C296.5,401.4 304.5,400.7 307.1,400.4" fill="none" stroke="#000" stroke-width="1.6" stroke-dasharray="4.5,5"/><path d="M298.0,403.7 C295.4,403.8 287.4,404.1 282.0,404.3 C276.7,404.5 271.4,404.7 266.0,405.0 C260.7,405.3 255.4,405.6 250.0,406.1 C244.7,406.5 239.4,407.0 234.0,407.6 C228.7,408.2 223.4,408.9 218.0,409.7 C212.7,410.5 207.9,412.0 202.0,412.3 C196.2,412.5 189.2,410.1 182.8,411.3 C176.4,412.6 169.2,416.5 163.6,420.0 C158.1,423.4 153.4,427.7 149.6,431.9 C145.8,436.1 143.2,438.2 140.9,445.1 C138.5,452.1 137.4,464.5 135.5,473.7 C133.5,482.8 132.6,491.2 129.1,500.2 C125.6,509.1 120.5,519.7 114.4,527.4 C108.2,535.0 99.1,540.1 92.0,545.9 C84.8,551.7 77.5,559.2 71.4,562.2 C65.3,565.1 58.0,563.4 55.4,563.7" fill="none" stroke="#000" stroke-width="1.6" stroke-dasharray="3,5,10,5"/><path d="M60.0,563.5 C62.6,563.4 70.6,563.1 76.0,562.9 C81.3,562.7 86.6,562.5 92.0,562.2 C97.3,561.9 102.6,561.6 108.0,561.1 C113.3,560.7 118.6,560.2 124.0,559.6 C129.3,559.0 134.6,558.3 140.0,557.5 C145.3,556.7 150.1,555.2 156.0,554.9 C161.8,554.7 168.8,557.1 175.2,555.9 C181.6,554.6 188.8,550.7 194.4,547.2 C199.9,543.8 204.6,540.9 208.4,535.3 C212.3,529.7 214.6,523.3 217.4,513.4 C220.2,503.6 222.1,486.3 225.1,476.3 C228.1,466.4 232.2,459.8 235.3,453.8 C238.4,447.7 238.5,445.3 243.6,439.8 C248.8,434.4 258.9,427.1 266.0,421.3 C273.2,415.5 280.5,408.0 286.6,405.0 C292.7,402.1 300.0,403.8 302.6,403.5" fill="none" stroke="#000" stroke-width="1.6" stroke-dasharray="3,5,10,5"/><path d="M306.4,399.0 C303.7,399.1 295.7,399.4 290.4,399.6 C285.0,399.9 279.7,400.1 274.4,400.3 C269.0,400.6 263.7,400.8 258.4,401.2 C253.0,401.5 247.7,402.1 242.4,402.6 C237.0,403.2 231.7,403.7 226.4,404.4 C221.0,405.1 217.0,405.5 210.4,406.8 C203.7,408.2 194.3,411.4 186.7,412.7 C179.1,414.0 171.3,411.2 164.9,414.6 C158.5,418.1 152.3,425.6 148.3,433.2 C144.2,440.8 143.2,448.4 140.6,460.4 C138.0,472.4 136.7,494.4 132.4,505.5 C128.1,516.5 120.7,519.2 115.0,526.7 C109.3,534.2 103.9,544.2 98.4,550.6 C92.8,556.9 87.0,562.2 81.5,564.9 C76.1,567.7 70.9,566.4 65.5,567.0 C60.2,567.6 52.2,568.4 49.5,568.6" fill="none" stroke="#000" stroke-width="1.6" stroke-dasharray="3,4.5"/><path d="M51.6,568.2 C54.3,568.1 62.3,567.8 67.6,567.6 C73.0,567.3 78.3,567.1 83.6,566.9 C89.0,566.6 94.3,566.4 99.6,566.0 C105.0,565.7 110.3,565.1 115.6,564.6 C121.0,564.0 126.3,563.5 131.6,562.8 C137.0,562.1 141.0,561.7 147.6,560.4 C154.3,559.0 163.7,556.0 171.3,554.5 C178.9,553.1 186.7,555.3 193.1,551.9 C199.5,548.5 205.7,541.5 209.7,534.0 C213.8,526.5 214.8,519.1 217.4,506.8 C220.0,494.5 220.8,471.4 225.1,460.4 C229.3,449.3 237.2,447.8 243.0,440.5 C248.8,433.2 254.1,423.0 259.6,416.6 C265.2,410.3 271.0,405.0 276.5,402.3 C281.9,399.5 287.1,400.8 292.5,400.2 C297.8,399.6 305.8,398.8 308.5,398.6" fill="none" stroke="#000" stroke-width="1.6" stroke-dasharray="3,4.5"/><path d="M301.9,402.7 C299.2,402.8 291.2,403.0 285.9,403.3 C280.5,403.5 275.2,403.7 269.9,404.0 C264.5,404.3 259.2,404.5 253.9,404.9 C248.5,405.3 243.2,405.8 237.9,406.4 C232.5,407.0 227.2,407.6 221.9,408.3 C216.5,409.1 212.0,409.7 205.9,410.7 C199.8,411.6 193.3,410.9 185.4,414.0 C177.5,417.1 166.0,423.7 158.5,429.2 C151.1,434.8 144.9,438.6 140.6,447.1 C136.3,455.6 135.7,470.3 132.9,480.3 C130.1,490.2 127.3,498.7 124.0,506.8 C120.6,514.9 117.6,522.4 113.0,528.7 C108.3,535.0 101.0,539.2 96.3,544.6 C91.6,550.0 89.3,557.9 84.7,561.0 C80.1,564.1 74.0,562.6 68.7,563.3 C63.3,563.9 55.3,564.6 52.7,564.8" fill="none" stroke="#000" stroke-width="1.6" stroke-dasharray="3,5,3,5,14,4"/><path d="M56.1,564.5 C58.8,564.4 66.8,564.2 72.1,563.9 C77.5,563.7 82.8,563.5 88.1,563.2 C93.5,562.9 98.8,562.7 104.1,562.3 C109.5,561.9 114.8,561.4 120.1,560.8 C125.5,560.2 130.8,559.6 136.1,558.9 C141.5,558.1 146.0,557.5 152.1,556.5 C158.2,555.6 164.7,556.3 172.6,553.2 C180.5,550.1 192.0,543.5 199.5,538.0 C206.9,532.4 213.1,528.6 217.4,520.1 C221.7,511.6 222.3,496.9 225.1,486.9 C227.9,477.0 230.7,468.5 234.0,460.4 C237.4,452.3 240.4,444.8 245.0,438.5 C249.7,432.2 257.0,428.0 261.7,422.6 C266.4,417.2 268.7,409.3 273.3,406.2 C277.9,403.1 284.0,404.6 289.3,403.9 C294.7,403.3 302.7,402.6 305.3,402.4" fill="none" stroke="#000" stroke-width="1.6" stroke-dasharray="3,5,3,5,14,4"/></g><ellipse cx="308.3" cy="394.6" rx="3.90" ry="4.85" fill="#fff" stroke="#000" stroke-width="1.5"/><ellipse cx="292.3" cy="395.2" rx="3.90" ry="4.85" fill="#fff" stroke="#000" stroke-width="1.5"/><ellipse cx="276.3" cy="396.0" rx="3.90" ry="4.85" fill="#fff" stroke="#000" stroke-width="1.5"/><ellipse cx="260.3" cy="396.8" rx="3.90" ry="4.85" fill="#fff" stroke="#000" stroke-width="1.5"/><ellipse cx="244.3" cy="398.3" rx="3.90" ry="4.85" fill="#fff" stroke="#000" stroke-width="1.5"/><ellipse cx="228.3" cy="400.0" rx="3.90" ry="4.85" fill="#fff" stroke="#000" stroke-width="1.5"/><ellipse cx="212.3" cy="402.6" rx="3.90" ry="4.85" fill="#fff" stroke="#000" stroke-width="1.5"/><ellipse cx="197.6" cy="406.7" rx="3.90" ry="4.85" fill="#fff" stroke="#000" stroke-width="1.5"/><ellipse cx="185.4" cy="413.3" rx="3.90" ry="4.85" fill="#fff" stroke="#000" stroke-width="1.5"/><ellipse cx="174.9" cy="433.2" rx="3.90" ry="4.85" fill="#fff" stroke="#000" stroke-width="1.5"/><ellipse cx="164.2" cy="488.9" rx="3.90" ry="4.85" fill="#fff" stroke="#000" stroke-width="1.5"/><ellipse cx="158.1" cy="523.4" rx="3.90" ry="4.85" fill="#fff" stroke="#000" stroke-width="1.5"/><ellipse cx="154.8" cy="533.3" rx="3.90" ry="4.85" fill="#fff" stroke="#000" stroke-width="1.5"/><ellipse cx="118.8" cy="558.5" rx="3.90" ry="4.85" fill="#fff" stroke="#000" stroke-width="1.5"/><ellipse cx="96.2" cy="566.0" rx="3.90" ry="4.85" fill="#fff" stroke="#000" stroke-width="1.5"/><ellipse cx="80.2" cy="569.4" rx="3.90" ry="4.85" fill="#fff" stroke="#000" stroke-width="1.5"/><ellipse cx="64.2" cy="571.5" rx="3.90" ry="4.85" fill="#fff" stroke="#000" stroke-width="1.5"/><ellipse cx="48.2" cy="573.2" rx="3.90" ry="4.85" fill="#fff" stroke="#000" stroke-width="1.5"/><ellipse cx="49.7" cy="572.6" rx="3.90" ry="4.85" fill="#fff" stroke="#000" stroke-width="1.5"/><ellipse cx="65.7" cy="572.0" rx="3.90" ry="4.85" fill="#fff" stroke="#000" stroke-width="1.5"/><ellipse cx="81.7" cy="571.2" rx="3.90" ry="4.85" fill="#fff" stroke="#000" stroke-width="1.5"/><ellipse cx="97.7" cy="570.4" rx="3.90" ry="4.85" fill="#fff" stroke="#000" stroke-width="1.5"/><ellipse cx="113.7" cy="568.9" rx="3.90" ry="4.85" fill="#fff" stroke="#000" stroke-width="1.5"/><ellipse cx="129.7" cy="567.2" rx="3.90" ry="4.85" fill="#fff" stroke="#000" stroke-width="1.5"/><ellipse cx="145.7" cy="564.6" rx="3.90" ry="4.85" fill="#fff" stroke="#000" stroke-width="1.5"/><ellipse cx="160.4" cy="560.5" rx="3.90" ry="4.85" fill="#fff" stroke="#000" stroke-width="1.5"/><ellipse cx="172.6" cy="553.9" rx="3.90" ry="4.85" fill="#fff" stroke="#000" stroke-width="1.5"/><ellipse cx="183.1" cy="534.0" rx="3.90" ry="4.85" fill="#fff" stroke="#000" stroke-width="1.5"/><ellipse cx="193.8" cy="478.3" rx="3.90" ry="4.85" fill="#fff" stroke="#000" stroke-width="1.5"/><ellipse cx="199.9" cy="443.8" rx="3.90" ry="4.85" fill="#fff" stroke="#000" stroke-width="1.5"/><ellipse cx="203.2" cy="433.9" rx="3.90" ry="4.85" fill="#fff" stroke="#000" stroke-width="1.5"/><ellipse cx="239.2" cy="408.7" rx="3.90" ry="4.85" fill="#fff" stroke="#000" stroke-width="1.5"/><ellipse cx="261.8" cy="401.2" rx="3.90" ry="4.85" fill="#fff" stroke="#000" stroke-width="1.5"/><ellipse cx="277.8" cy="397.8" rx="3.90" ry="4.85" fill="#fff" stroke="#000" stroke-width="1.5"/><ellipse cx="293.8" cy="395.7" rx="3.90" ry="4.85" fill="#fff" stroke="#000" stroke-width="1.5"/><ellipse cx="309.8" cy="394.0" rx="3.90" ry="4.85" fill="#fff" stroke="#000" stroke-width="1.5"/><ellipse cx="300.6" cy="396.6" rx="4.85" ry="5.60" fill="#000"/><ellipse cx="284.6" cy="397.3" rx="4.85" ry="5.60" fill="#000"/><ellipse cx="268.6" cy="398.1" rx="4.85" ry="5.60" fill="#000"/><ellipse cx="252.6" cy="399.1" rx="4.85" ry="5.60" fill="#000"/><ellipse cx="236.6" cy="400.7" rx="4.85" ry="5.60" fill="#000"/><ellipse cx="220.6" cy="402.9" rx="4.85" ry="5.60" fill="#000"/><ellipse cx="204.6" cy="405.4" rx="4.85" ry="5.60" fill="#000"/><ellipse cx="189.2" cy="406.7" rx="4.85" ry="5.60" fill="#000"/><ellipse cx="171.8" cy="421.9" rx="4.85" ry="5.60" fill="#000"/><ellipse cx="158.1" cy="446.5" rx="4.85" ry="5.60" fill="#000"/><ellipse cx="153.0" cy="469.0" rx="4.85" ry="5.60" fill="#000"/><ellipse cx="146.0" cy="510.1" rx="4.85" ry="5.60" fill="#000"/><ellipse cx="107.3" cy="547.9" rx="4.85" ry="5.60" fill="#000"/><ellipse cx="85.6" cy="566.6" rx="4.85" ry="5.60" fill="#000"/><ellipse cx="69.6" cy="569.2" rx="4.85" ry="5.60" fill="#000"/><ellipse cx="53.6" cy="570.9" rx="4.85" ry="5.60" fill="#000"/><ellipse cx="57.4" cy="570.6" rx="4.85" ry="5.60" fill="#000"/><ellipse cx="73.4" cy="569.9" rx="4.85" ry="5.60" fill="#000"/><ellipse cx="89.4" cy="569.1" rx="4.85" ry="5.60" fill="#000"/><ellipse cx="105.4" cy="568.1" rx="4.85" ry="5.60" fill="#000"/><ellipse cx="121.4" cy="566.5" rx="4.85" ry="5.60" fill="#000"/><ellipse cx="137.4" cy="564.3" rx="4.85" ry="5.60" fill="#000"/><ellipse cx="153.4" cy="561.8" rx="4.85" ry="5.60" fill="#000"/><ellipse cx="168.8" cy="560.5" rx="4.85" ry="5.60" fill="#000"/><ellipse cx="186.2" cy="545.3" rx="4.85" ry="5.60" fill="#000"/><ellipse cx="199.9" cy="520.7" rx="4.85" ry="5.60" fill="#000"/><ellipse cx="205.0" cy="498.2" rx="4.85" ry="5.60" fill="#000"/><ellipse cx="212.0" cy="457.1" rx="4.85" ry="5.60" fill="#000"/><ellipse cx="250.7" cy="419.3" rx="4.85" ry="5.60" fill="#000"/><ellipse cx="272.4" cy="400.6" rx="4.85" ry="5.60" fill="#000"/><ellipse cx="288.4" cy="398.0" rx="4.85" ry="5.60" fill="#000"/><ellipse cx="304.4" cy="396.3" rx="4.85" ry="5.60" fill="#000"/><polygon points="312.1,400.1 315.9,409.0 308.3,409.0" fill="#fff" stroke="#000" stroke-width="1.6" stroke-linejoin="miter"/><polygon points="296.1,400.7 299.9,409.6 292.3,409.6" fill="#fff" stroke="#000" stroke-width="1.6" stroke-linejoin="miter"/><polygon points="280.1,401.3 283.9,410.2 276.3,410.2" fill="#fff" stroke="#000" stroke-width="1.6" stroke-linejoin="miter"/><polygon points="264.1,402.0 267.9,410.9 260.3,410.9" fill="#fff" stroke="#000" stroke-width="1.6" stroke-linejoin="miter"/><polygon points="248.1,403.1 251.9,412.0 244.3,412.0" fill="#fff" stroke="#000" stroke-width="1.6" stroke-linejoin="miter"/><polygon points="232.1,404.6 235.9,413.5 228.3,413.5" fill="#fff" stroke="#000" stroke-width="1.6" stroke-linejoin="miter"/><polygon points="216.1,406.8 219.9,415.7 212.3,415.7" fill="#fff" stroke="#000" stroke-width="1.6" stroke-linejoin="miter"/><polygon points="200.1,409.5 203.9,418.4 196.3,418.4" fill="#fff" stroke="#000" stroke-width="1.6" stroke-linejoin="miter"/><polygon points="181.6,407.2 185.4,416.1 177.8,416.1" fill="#fff" stroke="#000" stroke-width="1.6" stroke-linejoin="miter"/><polygon points="164.9,415.2 168.7,424.0 161.1,424.0" fill="#fff" stroke="#000" stroke-width="1.6" stroke-linejoin="miter"/><polygon points="149.0,433.7 152.8,442.6 145.2,442.6" fill="#fff" stroke="#000" stroke-width="1.6" stroke-linejoin="miter"/><polygon points="141.4,482.1 145.2,491.0 137.6,491.0" fill="#fff" stroke="#000" stroke-width="1.6" stroke-linejoin="miter"/><polygon points="89.4,545.1 93.2,554.0 85.6,554.0" fill="#fff" stroke="#000" stroke-width="1.6" stroke-linejoin="miter"/><polygon points="77.5,555.0 81.3,563.9 73.7,563.9" fill="#fff" stroke="#000" stroke-width="1.6" stroke-linejoin="miter"/><polygon points="61.5,556.6 65.3,565.5 57.7,565.5" fill="#fff" stroke="#000" stroke-width="1.6" stroke-linejoin="miter"/><polygon points="45.5,558.1 49.3,567.0 41.7,567.0" fill="#fff" stroke="#000" stroke-width="1.6" stroke-linejoin="miter"/><polygon points="45.9,557.5 49.7,566.4 42.1,566.4" fill="#fff" stroke="#000" stroke-width="1.6" stroke-linejoin="miter"/><polygon points="61.9,556.9 65.7,565.8 58.1,565.8" fill="#fff" stroke="#000" stroke-width="1.6" stroke-linejoin="miter"/><polygon points="77.9,556.3 81.7,565.2 74.1,565.2" fill="#fff" stroke="#000" stroke-width="1.6" stroke-linejoin="miter"/><polygon points="93.9,555.6 97.7,564.4 90.1,564.4" fill="#fff" stroke="#000" stroke-width="1.6" stroke-linejoin="miter"/><polygon points="109.9,554.5 113.7,563.3 106.1,563.3" fill="#fff" stroke="#000" stroke-width="1.6" stroke-linejoin="miter"/><polygon points="125.9,553.0 129.7,561.8 122.1,561.8" fill="#fff" stroke="#000" stroke-width="1.6" stroke-linejoin="miter"/><polygon points="141.9,550.8 145.7,559.7 138.1,559.7" fill="#fff" stroke="#000" stroke-width="1.6" stroke-linejoin="miter"/><polygon points="157.9,548.1 161.7,557.0 154.1,557.0" fill="#fff" stroke="#000" stroke-width="1.6" stroke-linejoin="miter"/><polygon points="173.9,544.0 177.7,552.9 170.1,552.9" fill="#fff" stroke="#000" stroke-width="1.6" stroke-linejoin="miter"/><polygon points="186.7,538.5 190.5,547.4 182.9,547.4" fill="#fff" stroke="#000" stroke-width="1.6" stroke-linejoin="miter"/><polygon points="213.6,488.1 217.4,497.0 209.8,497.0" fill="#fff" stroke="#000" stroke-width="1.6" stroke-linejoin="miter"/><polygon points="236.6,447.0 240.4,455.9 232.8,455.9" fill="#fff" stroke="#000" stroke-width="1.6" stroke-linejoin="miter"/><polygon points="249.4,427.7 253.2,436.6 245.6,436.6" fill="#fff" stroke="#000" stroke-width="1.6" stroke-linejoin="miter"/><polygon points="268.6,412.5 272.4,421.4 264.8,421.4" fill="#fff" stroke="#000" stroke-width="1.6" stroke-linejoin="miter"/><polygon points="280.5,402.6 284.3,411.5 276.7,411.5" fill="#fff" stroke="#000" stroke-width="1.6" stroke-linejoin="miter"/><polygon points="296.5,401.0 300.3,409.9 292.7,409.9" fill="#fff" stroke="#000" stroke-width="1.6" stroke-linejoin="miter"/><polygon points="312.5,399.5 316.3,408.4 308.7,408.4" fill="#fff" stroke="#000" stroke-width="1.6" stroke-linejoin="miter"/><polygon points="304.4,395.7 308.5,405.1 300.3,405.1" fill="#000" stroke="#000" stroke-width="1" stroke-linejoin="miter"/><polygon points="288.4,396.3 292.5,405.8 284.3,405.8" fill="#000" stroke="#000" stroke-width="1" stroke-linejoin="miter"/><polygon points="272.4,397.1 276.5,406.5 268.3,406.5" fill="#000" stroke="#000" stroke-width="1" stroke-linejoin="miter"/><polygon points="256.4,397.8 260.5,407.3 252.3,407.3" fill="#000" stroke="#000" stroke-width="1" stroke-linejoin="miter"/><polygon points="240.4,399.4 244.5,408.8 236.3,408.8" fill="#000" stroke="#000" stroke-width="1" stroke-linejoin="miter"/><polygon points="224.4,401.2 228.5,410.7 220.3,410.7" fill="#000" stroke="#000" stroke-width="1" stroke-linejoin="miter"/><polygon points="208.4,403.6 212.5,413.0 204.3,413.0" fill="#000" stroke="#000" stroke-width="1" stroke-linejoin="miter"/><polygon points="192.4,407.4 196.5,416.8 188.3,416.8" fill="#000" stroke="#000" stroke-width="1" stroke-linejoin="miter"/><polygon points="179.0,406.9 183.1,416.3 174.9,416.3" fill="#000" stroke="#000" stroke-width="1" stroke-linejoin="miter"/><polygon points="159.8,415.5 163.9,424.9 155.7,424.9" fill="#000" stroke="#000" stroke-width="1" stroke-linejoin="miter"/><polygon points="142.6,426.1 146.7,435.6 138.5,435.6" fill="#000" stroke="#000" stroke-width="1" stroke-linejoin="miter"/><polygon points="135.0,483.8 139.1,493.2 130.9,493.2" fill="#000" stroke="#000" stroke-width="1" stroke-linejoin="miter"/><polygon points="125.9,505.0 130.0,514.5 121.8,514.5" fill="#000" stroke="#000" stroke-width="1" stroke-linejoin="miter"/><polygon points="95.8,546.8 99.9,556.2 91.7,556.2" fill="#000" stroke="#000" stroke-width="1" stroke-linejoin="miter"/><polygon points="82.9,557.9 87.0,567.3 78.8,567.3" fill="#000" stroke="#000" stroke-width="1" stroke-linejoin="miter"/><polygon points="66.9,560.1 71.0,569.5 62.8,569.5" fill="#000" stroke="#000" stroke-width="1" stroke-linejoin="miter"/><polygon points="50.9,561.7 55.0,571.1 46.8,571.1" fill="#000" stroke="#000" stroke-width="1" stroke-linejoin="miter"/><polygon points="53.6,561.3 57.7,570.7 49.5,570.7" fill="#000" stroke="#000" stroke-width="1" stroke-linejoin="miter"/><polygon points="69.6,560.7 73.7,570.1 65.5,570.1" fill="#000" stroke="#000" stroke-width="1" stroke-linejoin="miter"/><polygon points="85.6,559.9 89.7,569.4 81.5,569.4" fill="#000" stroke="#000" stroke-width="1" stroke-linejoin="miter"/><polygon points="101.6,559.2 105.7,568.6 97.5,568.6" fill="#000" stroke="#000" stroke-width="1" stroke-linejoin="miter"/><polygon points="117.6,557.6 121.7,567.0 113.5,567.0" fill="#000" stroke="#000" stroke-width="1" stroke-linejoin="miter"/><polygon points="133.6,555.8 137.7,565.2 129.5,565.2" fill="#000" stroke="#000" stroke-width="1" stroke-linejoin="miter"/><polygon points="149.6,553.4 153.7,562.8 145.5,562.8" fill="#000" stroke="#000" stroke-width="1" stroke-linejoin="miter"/><polygon points="165.6,549.6 169.7,559.1 161.5,559.1" fill="#000" stroke="#000" stroke-width="1" stroke-linejoin="miter"/><polygon points="185.4,550.1 189.5,559.5 181.3,559.5" fill="#000" stroke="#000" stroke-width="1" stroke-linejoin="miter"/><polygon points="222.5,513.6 226.6,523.1 218.4,523.1" fill="#000" stroke="#000" stroke-width="1" stroke-linejoin="miter"/><polygon points="237.9,424.8 242.0,434.2 233.8,434.2" fill="#000" stroke="#000" stroke-width="1" stroke-linejoin="miter"/><polygon points="262.2,410.2 266.3,419.6 258.1,419.6" fill="#000" stroke="#000" stroke-width="1" stroke-linejoin="miter"/><polygon points="275.1,399.1 279.2,408.5 271.0,408.5" fill="#000" stroke="#000" stroke-width="1" stroke-linejoin="miter"/><polygon points="291.1,396.9 295.2,406.4 287.0,406.4" fill="#000" stroke="#000" stroke-width="1" stroke-linejoin="miter"/><polygon points="307.1,395.3 311.2,404.8 303.0,404.8" fill="#000" stroke="#000" stroke-width="1" stroke-linejoin="miter"/><polygon points="298.0,408.5 301.8,399.6 294.2,399.6" fill="#fff" stroke="#000" stroke-width="1.6" stroke-linejoin="miter"/><polygon points="282.0,409.1 285.8,400.2 278.2,400.2" fill="#fff" stroke="#000" stroke-width="1.6" stroke-linejoin="miter"/><polygon points="266.0,409.8 269.8,401.0 262.2,401.0" fill="#fff" stroke="#000" stroke-width="1.6" stroke-linejoin="miter"/><polygon points="250.0,410.9 253.8,402.0 246.2,402.0" fill="#fff" stroke="#000" stroke-width="1.6" stroke-linejoin="miter"/><polygon points="234.0,412.4 237.8,403.5 230.2,403.5" fill="#fff" stroke="#000" stroke-width="1.6" stroke-linejoin="miter"/><polygon points="218.0,414.5 221.8,405.6 214.2,405.6" fill="#fff" stroke="#000" stroke-width="1.6" stroke-linejoin="miter"/><polygon points="202.0,417.1 205.8,408.2 198.2,408.2" fill="#fff" stroke="#000" stroke-width="1.6" stroke-linejoin="miter"/><polygon points="182.8,416.1 186.6,407.3 179.0,407.3" fill="#fff" stroke="#000" stroke-width="1.6" stroke-linejoin="miter"/><polygon points="163.6,424.8 167.4,415.9 159.8,415.9" fill="#fff" stroke="#000" stroke-width="1.6" stroke-linejoin="miter"/><polygon points="140.9,449.9 144.7,441.1 137.1,441.1" fill="#fff" stroke="#000" stroke-width="1.6" stroke-linejoin="miter"/><polygon points="114.4,532.2 118.2,523.3 110.6,523.3" fill="#fff" stroke="#000" stroke-width="1.6" stroke-linejoin="miter"/><polygon points="92.0,550.7 95.8,541.8 88.2,541.8" fill="#fff" stroke="#000" stroke-width="1.6" stroke-linejoin="miter"/><polygon points="71.4,567.0 75.2,558.1 67.6,558.1" fill="#fff" stroke="#000" stroke-width="1.6" stroke-linejoin="miter"/><polygon points="55.4,568.5 59.2,559.6 51.6,559.6" fill="#fff" stroke="#000" stroke-width="1.6" stroke-linejoin="miter"/><polygon points="60.0,568.3 63.8,559.4 56.2,559.4" fill="#fff" stroke="#000" stroke-width="1.6" stroke-linejoin="miter"/><polygon points="76.0,567.7 79.8,558.8 72.2,558.8" fill="#fff" stroke="#000" stroke-width="1.6" stroke-linejoin="miter"/><polygon points="92.0,567.0 95.8,558.1 88.2,558.1" fill="#fff" stroke="#000" stroke-width="1.6" stroke-linejoin="miter"/><polygon points="108.0,565.9 111.8,557.0 104.2,557.0" fill="#fff" stroke="#000" stroke-width="1.6" stroke-linejoin="miter"/><polygon points="124.0,564.4 127.8,555.5 120.2,555.5" fill="#fff" stroke="#000" stroke-width="1.6" stroke-linejoin="miter"/><polygon points="140.0,562.3 143.8,553.4 136.2,553.4" fill="#fff" stroke="#000" stroke-width="1.6" stroke-linejoin="miter"/><polygon points="156.0,559.7 159.8,550.8 152.2,550.8" fill="#fff" stroke="#000" stroke-width="1.6" stroke-linejoin="miter"/><polygon points="175.2,560.7 179.0,551.8 171.4,551.8" fill="#fff" stroke="#000" stroke-width="1.6" stroke-linejoin="miter"/><polygon points="208.4,540.1 212.2,531.2 204.6,531.2" fill="#fff" stroke="#000" stroke-width="1.6" stroke-linejoin="miter"/><polygon points="225.1,481.1 228.9,472.2 221.3,472.2" fill="#fff" stroke="#000" stroke-width="1.6" stroke-linejoin="miter"/><polygon points="266.0,426.1 269.8,417.2 262.2,417.2" fill="#fff" stroke="#000" stroke-width="1.6" stroke-linejoin="miter"/><polygon points="286.6,409.8 290.4,400.9 282.8,400.9" fill="#fff" stroke="#000" stroke-width="1.6" stroke-linejoin="miter"/><polygon points="302.6,408.3 306.4,399.4 298.8,399.4" fill="#fff" stroke="#000" stroke-width="1.6" stroke-linejoin="miter"/><polygon points="306.4,394.4 309.9,399.0 306.4,403.6 302.9,399.0" fill="#fff" stroke="#000" stroke-width="1.6" stroke-linejoin="miter"/><polygon points="290.4,395.0 293.9,399.6 290.4,404.2 286.9,399.6" fill="#fff" stroke="#000" stroke-width="1.6" stroke-linejoin="miter"/><polygon points="274.4,395.7 277.9,400.3 274.4,404.9 270.9,400.3" fill="#fff" stroke="#000" stroke-width="1.6" stroke-linejoin="miter"/><polygon points="258.4,396.6 261.9,401.2 258.4,405.8 254.9,401.2" fill="#fff" stroke="#000" stroke-width="1.6" stroke-linejoin="miter"/><polygon points="242.4,398.0 245.9,402.6 242.4,407.2 238.9,402.6" fill="#fff" stroke="#000" stroke-width="1.6" stroke-linejoin="miter"/><polygon points="226.4,399.8 229.9,404.4 226.4,409.0 222.9,404.4" fill="#fff" stroke="#000" stroke-width="1.6" stroke-linejoin="miter"/><polygon points="210.4,402.2 213.9,406.8 210.4,411.4 206.9,406.8" fill="#fff" stroke="#000" stroke-width="1.6" stroke-linejoin="miter"/><polygon points="186.7,408.1 190.2,412.7 186.7,417.3 183.2,412.7" fill="#fff" stroke="#000" stroke-width="1.6" stroke-linejoin="miter"/><polygon points="164.9,410.0 168.4,414.6 164.9,419.2 161.4,414.6" fill="#fff" stroke="#000" stroke-width="1.6" stroke-linejoin="miter"/><polygon points="132.4,500.9 135.9,505.5 132.4,510.1 128.9,505.5" fill="#fff" stroke="#000" stroke-width="1.6" stroke-linejoin="miter"/><polygon points="98.4,546.0 101.9,550.6 98.4,555.2 94.9,550.6" fill="#fff" stroke="#000" stroke-width="1.6" stroke-linejoin="miter"/><polygon points="81.5,560.3 85.0,564.9 81.5,569.5 78.0,564.9" fill="#fff" stroke="#000" stroke-width="1.6" stroke-linejoin="miter"/><polygon points="65.5,562.4 69.0,567.0 65.5,571.6 62.0,567.0" fill="#fff" stroke="#000" stroke-width="1.6" stroke-linejoin="miter"/><polygon points="49.5,564.0 53.0,568.6 49.5,573.2 46.0,568.6" fill="#fff" stroke="#000" stroke-width="1.6" stroke-linejoin="miter"/><polygon points="51.6,563.6 55.1,568.2 51.6,572.8 48.1,568.2" fill="#fff" stroke="#000" stroke-width="1.6" stroke-linejoin="miter"/><polygon points="67.6,563.0 71.1,567.6 67.6,572.2 64.1,567.6" fill="#fff" stroke="#000" stroke-width="1.6" stroke-linejoin="miter"/><polygon points="83.6,562.3 87.1,566.9 83.6,571.5 80.1,566.9" fill="#fff" stroke="#000" stroke-width="1.6" stroke-linejoin="miter"/><polygon points="99.6,561.4 103.1,566.0 99.6,570.6 96.1,566.0" fill="#fff" stroke="#000" stroke-width="1.6" stroke-linejoin="miter"/><polygon points="115.6,560.0 119.1,564.6 115.6,569.2 112.1,564.6" fill="#fff" stroke="#000" stroke-width="1.6" stroke-linejoin="miter"/><polygon points="131.6,558.2 135.1,562.8 131.6,567.4 128.1,562.8" fill="#fff" stroke="#000" stroke-width="1.6" stroke-linejoin="miter"/><polygon points="147.6,555.8 151.1,560.4 147.6,565.0 144.1,560.4" fill="#fff" stroke="#000" stroke-width="1.6" stroke-linejoin="miter"/><polygon points="171.3,549.9 174.8,554.5 171.3,559.1 167.8,554.5" fill="#fff" stroke="#000" stroke-width="1.6" stroke-linejoin="miter"/><polygon points="193.1,547.3 196.6,551.9 193.1,556.5 189.6,551.9" fill="#fff" stroke="#000" stroke-width="1.6" stroke-linejoin="miter"/><polygon points="225.1,455.8 228.6,460.4 225.1,465.0 221.6,460.4" fill="#fff" stroke="#000" stroke-width="1.6" stroke-linejoin="miter"/><polygon points="259.6,412.0 263.1,416.6 259.6,421.2 256.1,416.6" fill="#fff" stroke="#000" stroke-width="1.6" stroke-linejoin="miter"/><polygon points="276.5,397.7 280.0,402.3 276.5,406.9 273.0,402.3" fill="#fff" stroke="#000" stroke-width="1.6" stroke-linejoin="miter"/><polygon points="292.5,395.6 296.0,400.2 292.5,404.8 289.0,400.2" fill="#fff" stroke="#000" stroke-width="1.6" stroke-linejoin="miter"/><polygon points="308.5,394.0 312.0,398.6 308.5,403.2 305.0,398.6" fill="#fff" stroke="#000" stroke-width="1.6" stroke-linejoin="miter"/><polygon points="301.9,407.8 306.0,398.3 297.8,398.3" fill="#000" stroke="#000" stroke-width="1" stroke-linejoin="miter"/><polygon points="285.9,408.4 290.0,398.9 281.8,398.9" fill="#000" stroke="#000" stroke-width="1" stroke-linejoin="miter"/><polygon points="269.9,409.1 274.0,399.7 265.8,399.7" fill="#000" stroke="#000" stroke-width="1" stroke-linejoin="miter"/><polygon points="253.9,410.0 258.0,400.5 249.8,400.5" fill="#000" stroke="#000" stroke-width="1" stroke-linejoin="miter"/><polygon points="237.9,411.5 242.0,402.1 233.8,402.1" fill="#000" stroke="#000" stroke-width="1" stroke-linejoin="miter"/><polygon points="221.9,413.4 226.0,404.0 217.8,404.0" fill="#000" stroke="#000" stroke-width="1" stroke-linejoin="miter"/><polygon points="205.9,415.8 210.0,406.3 201.8,406.3" fill="#000" stroke="#000" stroke-width="1" stroke-linejoin="miter"/><polygon points="185.4,419.1 189.5,409.7 181.3,409.7" fill="#000" stroke="#000" stroke-width="1" stroke-linejoin="miter"/><polygon points="158.5,434.3 162.6,424.9 154.4,424.9" fill="#000" stroke="#000" stroke-width="1" stroke-linejoin="miter"/><polygon points="113.0,533.8 117.1,524.3 108.9,524.3" fill="#000" stroke="#000" stroke-width="1" stroke-linejoin="miter"/><polygon points="96.3,549.7 100.4,540.3 92.2,540.3" fill="#000" stroke="#000" stroke-width="1" stroke-linejoin="miter"/><polygon points="84.7,566.1 88.8,556.6 80.6,556.6" fill="#000" stroke="#000" stroke-width="1" stroke-linejoin="miter"/><polygon points="68.7,568.4 72.8,559.0 64.6,559.0" fill="#000" stroke="#000" stroke-width="1" stroke-linejoin="miter"/><polygon points="52.7,569.9 56.8,560.5 48.6,560.5" fill="#000" stroke="#000" stroke-width="1" stroke-linejoin="miter"/><polygon points="56.1,569.6 60.2,560.2 52.0,560.2" fill="#000" stroke="#000" stroke-width="1" stroke-linejoin="miter"/><polygon points="72.1,569.0 76.2,559.6 68.0,559.6" fill="#000" stroke="#000" stroke-width="1" stroke-linejoin="miter"/><polygon points="88.1,568.3 92.2,558.9 84.0,558.9" fill="#000" stroke="#000" stroke-width="1" stroke-linejoin="miter"/><polygon points="104.1,567.4 108.2,558.0 100.0,558.0" fill="#000" stroke="#000" stroke-width="1" stroke-linejoin="miter"/><polygon points="120.1,565.9 124.2,556.5 116.0,556.5" fill="#000" stroke="#000" stroke-width="1" stroke-linejoin="miter"/><polygon points="136.1,564.0 140.2,554.5 132.0,554.5" fill="#000" stroke="#000" stroke-width="1" stroke-linejoin="miter"/><polygon points="152.1,561.6 156.2,552.2 148.0,552.2" fill="#000" stroke="#000" stroke-width="1" stroke-linejoin="miter"/><polygon points="172.6,558.3 176.7,548.9 168.5,548.9" fill="#000" stroke="#000" stroke-width="1" stroke-linejoin="miter"/><polygon points="199.5,543.1 203.6,533.6 195.4,533.6" fill="#000" stroke="#000" stroke-width="1" stroke-linejoin="miter"/><polygon points="245.0,443.6 249.1,434.2 240.9,434.2" fill="#000" stroke="#000" stroke-width="1" stroke-linejoin="miter"/><polygon points="261.7,427.7 265.8,418.3 257.6,418.3" fill="#000" stroke="#000" stroke-width="1" stroke-linejoin="miter"/><polygon points="273.3,411.3 277.4,401.9 269.2,401.9" fill="#000" stroke="#000" stroke-width="1" stroke-linejoin="miter"/><polygon points="289.3,409.0 293.4,399.6 285.2,399.6" fill="#000" stroke="#000" stroke-width="1" stroke-linejoin="miter"/><polygon points="305.3,407.5 309.4,398.0 301.2,398.0" fill="#000" stroke="#000" stroke-width="1" stroke-linejoin="miter"/>
<clipPath id="clipd"><rect x="381" y="334.0" width="268" height="250.0"/></clipPath><g clip-path="url(#clipd)"><path d="M651.7,409.2 C648.9,409.3 640.5,409.5 634.9,409.7 C629.3,409.9 623.8,410.1 618.2,410.4 C612.6,410.7 607.0,411.1 601.4,411.5 C595.8,411.9 590.3,412.5 584.7,413.0 C579.1,413.6 573.5,414.1 567.9,414.8 C562.3,415.6 557.8,416.6 551.2,417.4 C544.6,418.1 534.6,417.9 528.4,419.4 C522.2,420.8 518.8,422.7 514.1,426.0 C509.4,429.3 503.6,433.9 500.3,439.3 C496.9,444.6 495.5,449.9 494.0,458.0 C492.4,466.0 491.8,477.7 490.9,487.5 C489.9,497.3 489.5,509.1 488.2,517.0 C486.9,525.0 485.7,530.6 483.0,535.1 C480.3,539.7 476.2,541.6 472.1,544.2 C468.1,546.8 463.4,549.2 458.7,550.8 C454.1,552.4 449.3,552.5 444.1,553.8 C438.9,555.1 432.9,557.3 427.4,558.6 C421.8,559.9 416.2,560.7 410.6,561.5 C405.0,562.3 399.4,562.8 393.9,563.4 C388.3,564.0 379.9,564.8 377.1,565.1" fill="none" stroke="#000" stroke-width="1.6"/><path d="M378.3,565.8 C381.1,565.7 389.5,565.5 395.1,565.3 C400.7,565.1 406.2,564.9 411.8,564.6 C417.4,564.3 423.0,563.9 428.6,563.5 C434.2,563.1 439.7,562.5 445.3,562.0 C450.9,561.4 456.5,560.9 462.1,560.2 C467.7,559.4 472.2,558.4 478.8,557.6 C485.4,556.9 495.4,557.1 501.6,555.6 C507.8,554.2 511.2,552.3 515.9,549.0 C520.6,545.7 526.4,541.1 529.7,535.7 C533.1,530.4 534.5,525.1 536.0,517.0 C537.6,509.0 538.2,497.3 539.1,487.5 C540.1,477.7 540.5,465.9 541.8,458.0 C543.1,450.0 544.3,444.4 547.0,439.9 C549.7,435.3 553.8,433.4 557.9,430.8 C561.9,428.2 566.6,425.8 571.3,424.2 C575.9,422.6 580.7,422.5 585.9,421.2 C591.1,419.9 597.1,417.7 602.6,416.4 C608.2,415.1 613.8,414.3 619.4,413.5 C625.0,412.7 630.6,412.2 636.1,411.6 C641.7,411.0 650.1,410.2 652.9,409.9" fill="none" stroke="#000" stroke-width="1.6"/><path d="M643.6,405.3 C640.8,405.4 632.5,405.7 626.9,405.9 C621.3,406.2 615.7,406.5 610.1,406.9 C604.6,407.3 599.0,407.6 593.4,408.1 C587.8,408.6 582.2,409.3 576.6,410.0 C571.1,410.7 565.5,411.5 559.9,412.3 C554.3,413.1 548.7,413.9 543.1,414.9 C537.6,416.0 531.8,418.8 526.4,418.6 C521.0,418.4 515.8,413.0 511.0,413.9 C506.2,414.9 501.5,418.6 497.6,424.2 C493.6,429.8 490.1,437.7 487.4,447.7 C484.7,457.8 483.4,472.0 481.5,484.5 C479.6,496.9 478.6,512.7 475.7,522.5 C472.8,532.2 468.4,537.6 464.1,543.0 C459.7,548.4 454.9,551.9 449.7,555.0 C444.6,558.1 438.6,559.8 433.0,561.4 C427.4,562.9 421.8,563.5 416.2,564.4 C410.7,565.3 405.1,566.1 399.5,566.8 C393.9,567.5 385.5,568.3 382.7,568.6" fill="none" stroke="#000" stroke-width="1.6" stroke-dasharray="16,3,3,3"/><path d="M386.4,569.7 C389.2,569.6 397.5,569.3 403.1,569.1 C408.7,568.8 414.3,568.5 419.9,568.1 C425.4,567.7 431.0,567.4 436.6,566.9 C442.2,566.4 447.8,565.7 453.4,565.0 C458.9,564.3 464.5,563.5 470.1,562.7 C475.7,561.9 481.3,561.1 486.9,560.1 C492.4,559.0 498.2,556.2 503.6,556.4 C509.0,556.6 514.2,562.0 519.0,561.1 C523.8,560.1 528.5,556.4 532.4,550.8 C536.4,545.2 539.9,537.3 542.6,527.3 C545.3,517.2 546.6,503.0 548.5,490.5 C550.4,478.1 551.4,462.3 554.3,452.5 C557.2,442.8 561.6,437.4 565.9,432.0 C570.3,426.6 575.1,423.1 580.3,420.0 C585.4,416.9 591.4,415.2 597.0,413.6 C602.6,412.1 608.2,411.5 613.8,410.6 C619.3,409.7 624.9,408.9 630.5,408.2 C636.1,407.5 644.5,406.7 647.3,406.4" fill="none" stroke="#000" stroke-width="1.6" stroke-dasharray="16,3,3,3"/><path d="M647.7,407.6 C644.9,407.7 636.5,408.0 630.9,408.2 C625.3,408.5 619.7,408.7 614.2,409.1 C608.6,409.4 603.0,409.7 597.4,410.2 C591.8,410.6 586.2,411.3 580.7,411.9 C575.1,412.5 569.5,413.2 563.9,413.9 C558.3,414.7 552.7,415.5 547.2,416.5 C541.6,417.5 536.4,419.2 530.4,419.8 C524.4,420.4 516.0,418.7 511.0,420.0 C506.0,421.2 503.5,424.5 500.3,427.2 C497.0,429.9 494.1,431.5 491.3,436.2 C488.5,441.0 485.4,446.5 483.5,455.5 C481.6,464.5 481.0,480.4 479.8,490.2 C478.5,500.1 477.9,507.5 476.1,514.6 C474.4,521.7 473.0,527.0 469.4,532.7 C465.9,538.5 461.2,544.5 454.7,549.0 C448.2,553.5 437.1,557.4 430.2,559.6 C423.3,561.9 419.0,561.7 413.4,562.6 C407.8,563.4 402.3,564.1 396.7,564.7 C391.1,565.4 382.7,566.2 379.9,566.5" fill="none" stroke="#000" stroke-width="1.6" stroke-dasharray="14,5"/><path d="M382.3,567.4 C385.1,567.3 393.5,567.0 399.1,566.8 C404.7,566.5 410.3,566.3 415.8,565.9 C421.4,565.6 427.0,565.3 432.6,564.8 C438.2,564.4 443.8,563.7 449.3,563.1 C454.9,562.5 460.5,561.8 466.1,561.1 C471.7,560.3 477.3,559.5 482.8,558.5 C488.4,557.5 493.6,555.8 499.6,555.2 C505.6,554.6 514.0,556.3 519.0,555.0 C524.0,553.8 526.5,550.5 529.7,547.8 C533.0,545.1 535.9,543.5 538.7,538.8 C541.5,534.0 544.6,528.5 546.5,519.5 C548.4,510.5 549.0,494.6 550.2,484.8 C551.5,474.9 552.1,467.5 553.9,460.4 C555.6,453.3 557.0,448.0 560.6,442.3 C564.1,436.5 568.8,430.5 575.3,426.0 C581.8,421.5 592.9,417.6 599.8,415.4 C606.7,413.1 611.0,413.3 616.6,412.4 C622.2,411.6 627.7,410.9 633.3,410.3 C638.9,409.6 647.3,408.8 650.1,408.5" fill="none" stroke="#000" stroke-width="1.6" stroke-dasharray="14,5"/><path d="M641.0,403.0 C638.2,403.1 629.8,403.3 624.2,403.6 C618.6,403.9 613.0,404.3 607.5,404.7 C601.9,405.1 596.3,405.5 590.7,406.1 C585.1,406.6 579.5,407.3 574.0,408.0 C568.4,408.7 562.8,409.6 557.2,410.5 C551.6,411.3 546.0,412.2 540.5,413.3 C534.9,414.4 529.1,417.2 523.7,417.2 C518.4,417.2 513.3,412.5 508.3,413.3 C503.3,414.2 497.9,418.9 493.6,422.4 C489.2,425.9 485.3,429.8 482.3,434.4 C479.3,439.1 477.4,441.3 475.7,450.1 C474.0,459.0 473.2,476.5 472.1,487.5 C471.1,498.5 471.9,507.2 469.4,515.8 C467.0,524.5 462.3,533.2 457.6,539.4 C453.0,545.5 447.9,548.1 441.3,552.6 C434.7,557.1 424.8,563.6 418.1,566.3 C411.5,569.1 407.0,568.2 401.4,569.0 C395.8,569.7 387.4,570.5 384.6,570.8" fill="none" stroke="#000" stroke-width="1.6" stroke-dasharray="4.5,5"/><path d="M389.0,572.0 C391.8,571.9 400.2,571.7 405.8,571.4 C411.4,571.1 417.0,570.7 422.5,570.3 C428.1,569.9 433.7,569.5 439.3,568.9 C444.9,568.4 450.5,567.7 456.0,567.0 C461.6,566.3 467.2,565.4 472.8,564.5 C478.4,563.7 484.0,562.8 489.5,561.7 C495.1,560.6 500.9,557.8 506.3,557.8 C511.7,557.8 516.7,562.5 521.7,561.7 C526.7,560.8 532.1,556.1 536.4,552.6 C540.8,549.1 544.7,545.2 547.7,540.6 C550.7,535.9 552.6,533.7 554.3,524.9 C556.0,516.0 556.8,498.5 557.9,487.5 C558.9,476.5 558.1,467.8 560.6,459.2 C563.0,450.5 567.7,441.8 572.4,435.6 C577.0,429.5 582.1,426.9 588.7,422.4 C595.3,417.9 605.2,411.4 611.9,408.7 C618.5,405.9 623.0,406.8 628.6,406.0 C634.2,405.3 642.6,404.5 645.4,404.2" fill="none" stroke="#000" stroke-width="1.6" stroke-dasharray="4.5,5"/><path d="M653.0,406.6 C650.2,406.7 641.9,407.0 636.3,407.2 C630.7,407.4 625.1,407.6 619.5,407.9 C613.9,408.2 608.4,408.6 602.8,409.0 C597.2,409.4 591.6,410.0 586.0,410.5 C580.4,411.1 576.2,411.1 569.3,412.4 C562.3,413.6 550.4,415.9 544.5,418.2 C538.6,420.4 537.1,422.9 533.8,426.0 C530.4,429.1 527.5,433.4 524.4,436.8 C521.3,440.3 518.1,437.9 515.0,446.5 C511.9,455.1 507.9,477.3 505.5,488.7 C503.0,500.1 502.0,506.2 500.3,514.6 C498.5,523.1 497.1,534.2 495.2,539.4 C493.2,544.5 492.6,543.2 488.7,545.4 C484.9,547.6 476.9,552.0 472.1,552.6 C467.3,553.3 464.8,548.8 459.9,549.4 C455.1,550.0 448.8,554.3 443.2,556.2 C437.6,558.2 432.0,559.7 426.4,561.0 C420.8,562.3 415.3,563.2 409.7,564.0 C404.1,564.8 398.5,565.3 392.9,565.9 C387.3,566.5 379.0,567.4 376.2,567.7" fill="none" stroke="#000" stroke-width="1.6" stroke-dasharray="3,5,10,5"/><path d="M377.0,568.4 C379.8,568.3 388.1,568.0 393.7,567.8 C399.3,567.6 404.9,567.4 410.5,567.1 C416.1,566.8 421.6,566.4 427.2,566.0 C432.8,565.6 438.4,565.0 444.0,564.5 C449.6,563.9 453.8,563.9 460.7,562.6 C467.7,561.4 479.6,559.1 485.5,556.8 C491.4,554.6 492.9,552.1 496.2,549.0 C499.6,545.9 502.5,541.6 505.6,538.2 C508.7,534.7 511.9,537.1 515.0,528.5 C518.1,519.9 522.1,497.7 524.5,486.3 C527.0,474.9 528.0,468.8 529.7,460.4 C531.5,451.9 532.9,440.8 534.8,435.6 C536.8,430.5 537.4,431.8 541.3,429.6 C545.1,427.4 553.1,423.0 557.9,422.4 C562.7,421.7 565.2,426.2 570.1,425.6 C574.9,425.0 581.2,420.7 586.8,418.8 C592.4,416.8 598.0,415.3 603.6,414.0 C609.2,412.7 614.7,411.8 620.3,411.0 C625.9,410.2 631.5,409.7 637.1,409.1 C642.7,408.5 651.0,407.6 653.8,407.3" fill="none" stroke="#000" stroke-width="1.6" stroke-dasharray="3,5,10,5"/><path d="M645.6,403.6 C642.9,403.7 634.5,404.0 628.9,404.2 C623.3,404.5 617.7,404.8 612.1,405.2 C606.6,405.5 601.0,405.8 595.4,406.3 C589.8,406.8 584.2,407.5 578.6,408.2 C573.1,408.9 567.5,409.6 561.9,410.5 C556.3,411.3 550.7,412.1 545.1,413.2 C539.6,414.2 534.3,415.8 528.4,416.8 C522.5,417.7 515.2,416.2 509.6,418.8 C504.1,421.3 498.9,426.1 494.9,432.0 C490.9,438.0 487.8,445.6 485.5,454.3 C483.3,463.1 482.7,475.0 481.5,484.5 C480.3,493.9 480.0,503.5 478.4,511.0 C476.9,518.6 475.4,523.8 472.1,529.7 C468.8,535.6 462.7,542.1 458.7,546.6 C454.8,551.1 452.9,554.2 448.3,556.9 C443.8,559.7 437.2,561.6 431.6,563.1 C426.0,564.6 420.4,565.3 414.8,566.2 C409.3,567.1 403.7,567.8 398.1,568.5 C392.5,569.2 384.1,570.1 381.3,570.4" fill="none" stroke="#000" stroke-width="1.6" stroke-dasharray="14,5"/><path d="M384.4,571.4 C387.1,571.3 395.5,571.0 401.1,570.8 C406.7,570.5 412.3,570.2 417.9,569.8 C423.4,569.5 429.0,569.2 434.6,568.7 C440.2,568.2 445.8,567.5 451.4,566.8 C456.9,566.1 462.5,565.4 468.1,564.5 C473.7,563.7 479.3,562.9 484.9,561.8 C490.4,560.8 495.7,559.2 501.6,558.2 C507.5,557.3 514.8,558.8 520.4,556.2 C525.9,553.7 531.1,548.9 535.1,543.0 C539.1,537.0 542.2,529.4 544.5,520.7 C546.7,511.9 547.3,500.0 548.5,490.5 C549.7,481.1 550.0,471.5 551.6,464.0 C553.1,456.4 554.6,451.2 557.9,445.3 C561.2,439.4 567.3,432.9 571.3,428.4 C575.2,423.9 577.1,420.8 581.7,418.1 C586.2,415.3 592.8,413.4 598.4,411.9 C604.0,410.4 609.6,409.7 615.2,408.8 C620.7,407.9 626.3,407.2 631.9,406.5 C637.5,405.8 645.9,404.9 648.7,404.6" fill="none" stroke="#000" stroke-width="1.6" stroke-dasharray="14,5"/><path d="M642.3,411.1 C639.5,411.2 631.1,411.4 625.5,411.7 C620.0,411.9 614.4,412.3 608.8,412.6 C603.2,413.0 597.6,413.3 592.0,413.8 C586.5,414.3 580.9,414.9 575.3,415.6 C569.7,416.2 564.1,417.0 558.5,417.8 C553.0,418.5 547.9,419.2 541.8,420.2 C535.7,421.2 526.7,421.4 521.7,423.6 C516.7,425.8 515.9,427.5 511.9,433.2 C507.9,439.0 501.6,450.2 497.7,458.0 C493.9,465.7 490.5,471.5 488.7,479.7 C487.0,487.8 489.6,499.0 487.4,506.8 C485.2,514.6 479.7,520.3 475.3,526.7 C471.0,533.1 465.5,541.5 461.4,545.4 C457.3,549.3 455.3,548.2 450.7,549.9 C446.1,551.7 439.5,554.5 433.9,556.0 C428.3,557.5 422.8,558.0 417.2,558.8 C411.6,559.7 406.0,560.5 400.4,561.1 C394.8,561.8 386.5,562.5 383.7,562.8" fill="none" stroke="#000" stroke-width="1.6" stroke-dasharray="3,4.5"/><path d="M387.7,563.9 C390.5,563.8 398.9,563.6 404.4,563.3 C410.0,563.1 415.6,562.7 421.2,562.4 C426.8,562.0 432.4,561.7 437.9,561.2 C443.5,560.7 449.1,560.1 454.7,559.4 C460.3,558.8 465.9,558.0 471.4,557.2 C477.0,556.5 482.1,555.8 488.2,554.8 C494.3,553.8 503.3,553.6 508.3,551.4 C513.3,549.2 514.1,547.5 518.1,541.8 C522.1,536.0 528.4,524.8 532.3,517.0 C536.1,509.3 539.5,503.5 541.3,495.3 C543.0,487.2 540.4,476.0 542.6,468.2 C544.8,460.4 550.3,454.7 554.7,448.3 C559.0,441.9 564.5,433.5 568.6,429.6 C572.7,425.7 574.7,426.8 579.3,425.1 C583.9,423.3 590.5,420.5 596.1,419.0 C601.7,417.5 607.2,417.0 612.8,416.2 C618.4,415.3 624.0,414.5 629.6,413.9 C635.2,413.2 643.5,412.5 646.3,412.2" fill="none" stroke="#000" stroke-width="1.6" stroke-dasharray="3,4.5"/></g><ellipse cx="651.7" cy="409.2" rx="3.90" ry="4.85" fill="#fff" stroke="#000" stroke-width="1.5"/><ellipse cx="634.9" cy="409.7" rx="3.90" ry="4.85" fill="#fff" stroke="#000" stroke-width="1.5"/><ellipse cx="618.2" cy="410.4" rx="3.90" ry="4.85" fill="#fff" stroke="#000" stroke-width="1.5"/><ellipse cx="601.4" cy="411.5" rx="3.90" ry="4.85" fill="#fff" stroke="#000" stroke-width="1.5"/><ellipse cx="584.7" cy="413.0" rx="3.90" ry="4.85" fill="#fff" stroke="#000" stroke-width="1.5"/><ellipse cx="567.9" cy="414.8" rx="3.90" ry="4.85" fill="#fff" stroke="#000" stroke-width="1.5"/><ellipse cx="551.2" cy="417.4" rx="3.90" ry="4.85" fill="#fff" stroke="#000" stroke-width="1.5"/><ellipse cx="528.4" cy="419.4" rx="3.90" ry="4.85" fill="#fff" stroke="#000" stroke-width="1.5"/><ellipse cx="514.1" cy="426.0" rx="3.90" ry="4.85" fill="#fff" stroke="#000" stroke-width="1.5"/><ellipse cx="494.0" cy="458.0" rx="3.90" ry="4.85" fill="#fff" stroke="#000" stroke-width="1.5"/><ellipse cx="488.2" cy="517.0" rx="3.90" ry="4.85" fill="#fff" stroke="#000" stroke-width="1.5"/><ellipse cx="483.0" cy="535.1" rx="3.90" ry="4.85" fill="#fff" stroke="#000" stroke-width="1.5"/><ellipse cx="458.7" cy="550.8" rx="3.90" ry="4.85" fill="#fff" stroke="#000" stroke-width="1.5"/><ellipse cx="444.1" cy="553.8" rx="3.90" ry="4.85" fill="#fff" stroke="#000" stroke-width="1.5"/><ellipse cx="427.4" cy="558.6" rx="3.90" ry="4.85" fill="#fff" stroke="#000" stroke-width="1.5"/><ellipse cx="410.6" cy="561.5" rx="3.90" ry="4.85" fill="#fff" stroke="#000" stroke-width="1.5"/><ellipse cx="393.9" cy="563.4" rx="3.90" ry="4.85" fill="#fff" stroke="#000" stroke-width="1.5"/><ellipse cx="377.1" cy="565.1" rx="3.90" ry="4.85" fill="#fff" stroke="#000" stroke-width="1.5"/><ellipse cx="378.3" cy="565.8" rx="3.90" ry="4.85" fill="#fff" stroke="#000" stroke-width="1.5"/><ellipse cx="395.1" cy="565.3" rx="3.90" ry="4.85" fill="#fff" stroke="#000" stroke-width="1.5"/><ellipse cx="411.8" cy="564.6" rx="3.90" ry="4.85" fill="#fff" stroke="#000" stroke-width="1.5"/><ellipse cx="428.6" cy="563.5" rx="3.90" ry="4.85" fill="#fff" stroke="#000" stroke-width="1.5"/><ellipse cx="445.3" cy="562.0" rx="3.90" ry="4.85" fill="#fff" stroke="#000" stroke-width="1.5"/><ellipse cx="462.1" cy="560.2" rx="3.90" ry="4.85" fill="#fff" stroke="#000" stroke-width="1.5"/><ellipse cx="478.8" cy="557.6" rx="3.90" ry="4.85" fill="#fff" stroke="#000" stroke-width="1.5"/><ellipse cx="501.6" cy="555.6" rx="3.90" ry="4.85" fill="#fff" stroke="#000" stroke-width="1.5"/><ellipse cx="515.9" cy="549.0" rx="3.90" ry="4.85" fill="#fff" stroke="#000" stroke-width="1.5"/><ellipse cx="536.0" cy="517.0" rx="3.90" ry="4.85" fill="#fff" stroke="#000" stroke-width="1.5"/><ellipse cx="541.8" cy="458.0" rx="3.90" ry="4.85" fill="#fff" stroke="#000" stroke-width="1.5"/><ellipse cx="547.0" cy="439.9" rx="3.90" ry="4.85" fill="#fff" stroke="#000" stroke-width="1.5"/><ellipse cx="571.3" cy="424.2" rx="3.90" ry="4.85" fill="#fff" stroke="#000" stroke-width="1.5"/><ellipse cx="585.9" cy="421.2" rx="3.90" ry="4.85" fill="#fff" stroke="#000" stroke-width="1.5"/><ellipse cx="602.6" cy="416.4" rx="3.90" ry="4.85" fill="#fff" stroke="#000" stroke-width="1.5"/><ellipse cx="619.4" cy="413.5" rx="3.90" ry="4.85" fill="#fff" stroke="#000" stroke-width="1.5"/><ellipse cx="636.1" cy="411.6" rx="3.90" ry="4.85" fill="#fff" stroke="#000" stroke-width="1.5"/><ellipse cx="652.9" cy="409.9" rx="3.90" ry="4.85" fill="#fff" stroke="#000" stroke-width="1.5"/><ellipse cx="643.6" cy="405.3" rx="4.85" ry="5.60" fill="#000"/><ellipse cx="626.9" cy="405.9" rx="4.85" ry="5.60" fill="#000"/><ellipse cx="610.1" cy="406.9" rx="4.85" ry="5.60" fill="#000"/><ellipse cx="593.4" cy="408.1" rx="4.85" ry="5.60" fill="#000"/><ellipse cx="576.6" cy="410.0" rx="4.85" ry="5.60" fill="#000"/><ellipse cx="559.9" cy="412.3" rx="4.85" ry="5.60" fill="#000"/><ellipse cx="543.1" cy="414.9" rx="4.85" ry="5.60" fill="#000"/><ellipse cx="526.4" cy="418.6" rx="4.85" ry="5.60" fill="#000"/><ellipse cx="511.0" cy="413.9" rx="4.85" ry="5.60" fill="#000"/><ellipse cx="497.6" cy="424.2" rx="4.85" ry="5.60" fill="#000"/><ellipse cx="487.4" cy="447.7" rx="4.85" ry="5.60" fill="#000"/><ellipse cx="475.7" cy="522.5" rx="4.85" ry="5.60" fill="#000"/><ellipse cx="464.1" cy="543.0" rx="4.85" ry="5.60" fill="#000"/><ellipse cx="449.7" cy="555.0" rx="4.85" ry="5.60" fill="#000"/><ellipse cx="433.0" cy="561.4" rx="4.85" ry="5.60" fill="#000"/><ellipse cx="416.2" cy="564.4" rx="4.85" ry="5.60" fill="#000"/><ellipse cx="399.5" cy="566.8" rx="4.85" ry="5.60" fill="#000"/><ellipse cx="382.7" cy="568.6" rx="4.85" ry="5.60" fill="#000"/><ellipse cx="386.4" cy="569.7" rx="4.85" ry="5.60" fill="#000"/><ellipse cx="403.1" cy="569.1" rx="4.85" ry="5.60" fill="#000"/><ellipse cx="419.9" cy="568.1" rx="4.85" ry="5.60" fill="#000"/><ellipse cx="436.6" cy="566.9" rx="4.85" ry="5.60" fill="#000"/><ellipse cx="453.4" cy="565.0" rx="4.85" ry="5.60" fill="#000"/><ellipse cx="470.1" cy="562.7" rx="4.85" ry="5.60" fill="#000"/><ellipse cx="486.9" cy="560.1" rx="4.85" ry="5.60" fill="#000"/><ellipse cx="503.6" cy="556.4" rx="4.85" ry="5.60" fill="#000"/><ellipse cx="519.0" cy="561.1" rx="4.85" ry="5.60" fill="#000"/><ellipse cx="532.4" cy="550.8" rx="4.85" ry="5.60" fill="#000"/><ellipse cx="542.6" cy="527.3" rx="4.85" ry="5.60" fill="#000"/><ellipse cx="554.3" cy="452.5" rx="4.85" ry="5.60" fill="#000"/><ellipse cx="565.9" cy="432.0" rx="4.85" ry="5.60" fill="#000"/><ellipse cx="580.3" cy="420.0" rx="4.85" ry="5.60" fill="#000"/><ellipse cx="597.0" cy="413.6" rx="4.85" ry="5.60" fill="#000"/><ellipse cx="613.8" cy="410.6" rx="4.85" ry="5.60" fill="#000"/><ellipse cx="630.5" cy="408.2" rx="4.85" ry="5.60" fill="#000"/><ellipse cx="647.3" cy="406.4" rx="4.85" ry="5.60" fill="#000"/><polygon points="647.7,402.8 651.5,411.7 643.9,411.7" fill="#fff" stroke="#000" stroke-width="1.6" stroke-linejoin="miter"/><polygon points="630.9,403.4 634.7,412.3 627.1,412.3" fill="#fff" stroke="#000" stroke-width="1.6" stroke-linejoin="miter"/><polygon points="614.2,404.3 618.0,413.1 610.4,413.1" fill="#fff" stroke="#000" stroke-width="1.6" stroke-linejoin="miter"/><polygon points="597.4,405.4 601.2,414.2 593.6,414.2" fill="#fff" stroke="#000" stroke-width="1.6" stroke-linejoin="miter"/><polygon points="580.7,407.1 584.5,416.0 576.9,416.0" fill="#fff" stroke="#000" stroke-width="1.6" stroke-linejoin="miter"/><polygon points="563.9,409.1 567.7,418.0 560.1,418.0" fill="#fff" stroke="#000" stroke-width="1.6" stroke-linejoin="miter"/><polygon points="547.2,411.7 551.0,420.6 543.4,420.6" fill="#fff" stroke="#000" stroke-width="1.6" stroke-linejoin="miter"/><polygon points="530.4,415.0 534.2,423.9 526.6,423.9" fill="#fff" stroke="#000" stroke-width="1.6" stroke-linejoin="miter"/><polygon points="511.0,415.2 514.8,424.0 507.2,424.0" fill="#fff" stroke="#000" stroke-width="1.6" stroke-linejoin="miter"/><polygon points="500.3,422.4 504.1,431.3 496.5,431.3" fill="#fff" stroke="#000" stroke-width="1.6" stroke-linejoin="miter"/><polygon points="491.3,431.4 495.1,440.3 487.5,440.3" fill="#fff" stroke="#000" stroke-width="1.6" stroke-linejoin="miter"/><polygon points="483.5,450.7 487.3,459.6 479.7,459.6" fill="#fff" stroke="#000" stroke-width="1.6" stroke-linejoin="miter"/><polygon points="479.8,485.4 483.6,494.3 476.0,494.3" fill="#fff" stroke="#000" stroke-width="1.6" stroke-linejoin="miter"/><polygon points="469.4,527.9 473.2,536.8 465.6,536.8" fill="#fff" stroke="#000" stroke-width="1.6" stroke-linejoin="miter"/><polygon points="454.7,544.2 458.5,553.1 450.9,553.1" fill="#fff" stroke="#000" stroke-width="1.6" stroke-linejoin="miter"/><polygon points="430.2,554.8 434.0,563.7 426.4,563.7" fill="#fff" stroke="#000" stroke-width="1.6" stroke-linejoin="miter"/><polygon points="413.4,557.8 417.2,566.6 409.6,566.6" fill="#fff" stroke="#000" stroke-width="1.6" stroke-linejoin="miter"/><polygon points="396.7,559.9 400.5,568.8 392.9,568.8" fill="#fff" stroke="#000" stroke-width="1.6" stroke-linejoin="miter"/><polygon points="379.9,561.7 383.7,570.5 376.1,570.5" fill="#fff" stroke="#000" stroke-width="1.6" stroke-linejoin="miter"/><polygon points="382.3,562.6 386.1,571.4 378.5,571.4" fill="#fff" stroke="#000" stroke-width="1.6" stroke-linejoin="miter"/><polygon points="399.1,562.0 402.9,570.8 395.3,570.8" fill="#fff" stroke="#000" stroke-width="1.6" stroke-linejoin="miter"/><polygon points="415.8,561.1 419.6,570.0 412.0,570.0" fill="#fff" stroke="#000" stroke-width="1.6" stroke-linejoin="miter"/><polygon points="432.6,560.0 436.4,568.9 428.8,568.9" fill="#fff" stroke="#000" stroke-width="1.6" stroke-linejoin="miter"/><polygon points="449.3,558.3 453.1,567.2 445.5,567.2" fill="#fff" stroke="#000" stroke-width="1.6" stroke-linejoin="miter"/><polygon points="466.1,556.3 469.9,565.1 462.3,565.1" fill="#fff" stroke="#000" stroke-width="1.6" stroke-linejoin="miter"/><polygon points="482.8,553.7 486.6,562.6 479.0,562.6" fill="#fff" stroke="#000" stroke-width="1.6" stroke-linejoin="miter"/><polygon points="499.6,550.4 503.4,559.3 495.8,559.3" fill="#fff" stroke="#000" stroke-width="1.6" stroke-linejoin="miter"/><polygon points="519.0,550.2 522.8,559.1 515.2,559.1" fill="#fff" stroke="#000" stroke-width="1.6" stroke-linejoin="miter"/><polygon points="529.7,543.0 533.5,551.9 525.9,551.9" fill="#fff" stroke="#000" stroke-width="1.6" stroke-linejoin="miter"/><polygon points="538.7,534.0 542.5,542.8 534.9,542.8" fill="#fff" stroke="#000" stroke-width="1.6" stroke-linejoin="miter"/><polygon points="546.5,514.7 550.3,523.5 542.7,523.5" fill="#fff" stroke="#000" stroke-width="1.6" stroke-linejoin="miter"/><polygon points="550.2,480.0 554.0,488.9 546.4,488.9" fill="#fff" stroke="#000" stroke-width="1.6" stroke-linejoin="miter"/><polygon points="560.6,437.5 564.4,446.4 556.8,446.4" fill="#fff" stroke="#000" stroke-width="1.6" stroke-linejoin="miter"/><polygon points="575.3,421.2 579.1,430.1 571.5,430.1" fill="#fff" stroke="#000" stroke-width="1.6" stroke-linejoin="miter"/><polygon points="599.8,410.6 603.6,419.4 596.0,419.4" fill="#fff" stroke="#000" stroke-width="1.6" stroke-linejoin="miter"/><polygon points="616.6,407.6 620.4,416.5 612.8,416.5" fill="#fff" stroke="#000" stroke-width="1.6" stroke-linejoin="miter"/><polygon points="633.3,405.5 637.1,414.4 629.5,414.4" fill="#fff" stroke="#000" stroke-width="1.6" stroke-linejoin="miter"/><polygon points="650.1,403.7 653.9,412.6 646.3,412.6" fill="#fff" stroke="#000" stroke-width="1.6" stroke-linejoin="miter"/><polygon points="641.0,397.9 645.1,407.3 636.9,407.3" fill="#000" stroke="#000" stroke-width="1" stroke-linejoin="miter"/><polygon points="624.2,398.5 628.3,407.9 620.1,407.9" fill="#000" stroke="#000" stroke-width="1" stroke-linejoin="miter"/><polygon points="607.5,399.6 611.6,409.0 603.4,409.0" fill="#000" stroke="#000" stroke-width="1" stroke-linejoin="miter"/><polygon points="590.7,401.0 594.8,410.4 586.6,410.4" fill="#000" stroke="#000" stroke-width="1" stroke-linejoin="miter"/><polygon points="574.0,402.9 578.1,412.3 569.9,412.3" fill="#000" stroke="#000" stroke-width="1" stroke-linejoin="miter"/><polygon points="557.2,405.4 561.3,414.8 553.1,414.8" fill="#000" stroke="#000" stroke-width="1" stroke-linejoin="miter"/><polygon points="540.5,408.2 544.6,417.6 536.4,417.6" fill="#000" stroke="#000" stroke-width="1" stroke-linejoin="miter"/><polygon points="523.7,412.1 527.8,421.5 519.6,421.5" fill="#000" stroke="#000" stroke-width="1" stroke-linejoin="miter"/><polygon points="508.3,408.2 512.4,417.7 504.2,417.7" fill="#000" stroke="#000" stroke-width="1" stroke-linejoin="miter"/><polygon points="493.6,417.3 497.7,426.7 489.5,426.7" fill="#000" stroke="#000" stroke-width="1" stroke-linejoin="miter"/><polygon points="482.3,429.3 486.4,438.8 478.2,438.8" fill="#000" stroke="#000" stroke-width="1" stroke-linejoin="miter"/><polygon points="475.7,445.0 479.8,454.4 471.6,454.4" fill="#000" stroke="#000" stroke-width="1" stroke-linejoin="miter"/><polygon points="469.4,510.7 473.5,520.2 465.3,520.2" fill="#000" stroke="#000" stroke-width="1" stroke-linejoin="miter"/><polygon points="457.6,534.3 461.7,543.7 453.5,543.7" fill="#000" stroke="#000" stroke-width="1" stroke-linejoin="miter"/><polygon points="441.3,547.5 445.4,557.0 437.2,557.0" fill="#000" stroke="#000" stroke-width="1" stroke-linejoin="miter"/><polygon points="418.1,561.2 422.2,570.7 414.0,570.7" fill="#000" stroke="#000" stroke-width="1" stroke-linejoin="miter"/><polygon points="401.4,563.9 405.5,573.3 397.3,573.3" fill="#000" stroke="#000" stroke-width="1" stroke-linejoin="miter"/><polygon points="384.6,565.7 388.7,575.2 380.5,575.2" fill="#000" stroke="#000" stroke-width="1" stroke-linejoin="miter"/><polygon points="389.0,566.9 393.1,576.4 384.9,576.4" fill="#000" stroke="#000" stroke-width="1" stroke-linejoin="miter"/><polygon points="405.8,566.3 409.9,575.8 401.7,575.8" fill="#000" stroke="#000" stroke-width="1" stroke-linejoin="miter"/><polygon points="422.5,565.2 426.6,574.7 418.4,574.7" fill="#000" stroke="#000" stroke-width="1" stroke-linejoin="miter"/><polygon points="439.3,563.8 443.4,573.3 435.2,573.3" fill="#000" stroke="#000" stroke-width="1" stroke-linejoin="miter"/><polygon points="456.0,561.9 460.1,571.3 451.9,571.3" fill="#000" stroke="#000" stroke-width="1" stroke-linejoin="miter"/><polygon points="472.8,559.4 476.9,568.9 468.7,568.9" fill="#000" stroke="#000" stroke-width="1" stroke-linejoin="miter"/><polygon points="489.5,556.6 493.6,566.1 485.4,566.1" fill="#000" stroke="#000" stroke-width="1" stroke-linejoin="miter"/><polygon points="506.3,552.7 510.4,562.2 502.2,562.2" fill="#000" stroke="#000" stroke-width="1" stroke-linejoin="miter"/><polygon points="521.7,556.6 525.8,566.0 517.6,566.0" fill="#000" stroke="#000" stroke-width="1" stroke-linejoin="miter"/><polygon points="536.4,547.5 540.5,557.0 532.3,557.0" fill="#000" stroke="#000" stroke-width="1" stroke-linejoin="miter"/><polygon points="547.7,535.5 551.8,544.9 543.6,544.9" fill="#000" stroke="#000" stroke-width="1" stroke-linejoin="miter"/><polygon points="554.3,519.8 558.4,529.2 550.2,529.2" fill="#000" stroke="#000" stroke-width="1" stroke-linejoin="miter"/><polygon points="560.6,454.1 564.7,463.5 556.5,463.5" fill="#000" stroke="#000" stroke-width="1" stroke-linejoin="miter"/><polygon points="572.4,430.5 576.5,440.0 568.3,440.0" fill="#000" stroke="#000" stroke-width="1" stroke-linejoin="miter"/><polygon points="588.7,417.3 592.8,426.7 584.6,426.7" fill="#000" stroke="#000" stroke-width="1" stroke-linejoin="miter"/><polygon points="611.9,403.6 616.0,413.0 607.8,413.0" fill="#000" stroke="#000" stroke-width="1" stroke-linejoin="miter"/><polygon points="628.6,400.9 632.7,410.4 624.5,410.4" fill="#000" stroke="#000" stroke-width="1" stroke-linejoin="miter"/><polygon points="645.4,399.1 649.5,408.5 641.3,408.5" fill="#000" stroke="#000" stroke-width="1" stroke-linejoin="miter"/><polygon points="653.0,411.4 656.8,402.6 649.2,402.6" fill="#fff" stroke="#000" stroke-width="1.6" stroke-linejoin="miter"/><polygon points="636.3,412.0 640.1,403.1 632.5,403.1" fill="#fff" stroke="#000" stroke-width="1.6" stroke-linejoin="miter"/><polygon points="619.5,412.7 623.3,403.8 615.7,403.8" fill="#fff" stroke="#000" stroke-width="1.6" stroke-linejoin="miter"/><polygon points="602.8,413.8 606.6,404.9 599.0,404.9" fill="#fff" stroke="#000" stroke-width="1.6" stroke-linejoin="miter"/><polygon points="586.0,415.3 589.8,406.5 582.2,406.5" fill="#fff" stroke="#000" stroke-width="1.6" stroke-linejoin="miter"/><polygon points="569.3,417.2 573.1,408.3 565.5,408.3" fill="#fff" stroke="#000" stroke-width="1.6" stroke-linejoin="miter"/><polygon points="544.5,423.0 548.3,414.1 540.7,414.1" fill="#fff" stroke="#000" stroke-width="1.6" stroke-linejoin="miter"/><polygon points="533.8,430.8 537.6,421.9 530.0,421.9" fill="#fff" stroke="#000" stroke-width="1.6" stroke-linejoin="miter"/><polygon points="524.4,441.6 528.2,432.8 520.6,432.8" fill="#fff" stroke="#000" stroke-width="1.6" stroke-linejoin="miter"/><polygon points="515.0,451.3 518.8,442.4 511.2,442.4" fill="#fff" stroke="#000" stroke-width="1.6" stroke-linejoin="miter"/><polygon points="505.5,493.5 509.3,484.6 501.7,484.6" fill="#fff" stroke="#000" stroke-width="1.6" stroke-linejoin="miter"/><polygon points="495.2,544.2 499.0,535.3 491.4,535.3" fill="#fff" stroke="#000" stroke-width="1.6" stroke-linejoin="miter"/><polygon points="488.7,550.2 492.5,541.3 484.9,541.3" fill="#fff" stroke="#000" stroke-width="1.6" stroke-linejoin="miter"/><polygon points="472.1,557.4 475.9,548.5 468.3,548.5" fill="#fff" stroke="#000" stroke-width="1.6" stroke-linejoin="miter"/><polygon points="459.9,554.2 463.7,545.4 456.1,545.4" fill="#fff" stroke="#000" stroke-width="1.6" stroke-linejoin="miter"/><polygon points="443.2,561.0 447.0,552.2 439.4,552.2" fill="#fff" stroke="#000" stroke-width="1.6" stroke-linejoin="miter"/><polygon points="426.4,565.8 430.2,557.0 422.6,557.0" fill="#fff" stroke="#000" stroke-width="1.6" stroke-linejoin="miter"/><polygon points="409.7,568.8 413.5,559.9 405.9,559.9" fill="#fff" stroke="#000" stroke-width="1.6" stroke-linejoin="miter"/><polygon points="392.9,570.7 396.7,561.8 389.1,561.8" fill="#fff" stroke="#000" stroke-width="1.6" stroke-linejoin="miter"/><polygon points="376.2,572.5 380.0,563.6 372.4,563.6" fill="#fff" stroke="#000" stroke-width="1.6" stroke-linejoin="miter"/><polygon points="377.0,573.2 380.8,564.3 373.2,564.3" fill="#fff" stroke="#000" stroke-width="1.6" stroke-linejoin="miter"/><polygon points="393.7,572.6 397.5,563.7 389.9,563.7" fill="#fff" stroke="#000" stroke-width="1.6" stroke-linejoin="miter"/><polygon points="410.5,571.9 414.3,563.0 406.7,563.0" fill="#fff" stroke="#000" stroke-width="1.6" stroke-linejoin="miter"/><polygon points="427.2,570.8 431.0,561.9 423.4,561.9" fill="#fff" stroke="#000" stroke-width="1.6" stroke-linejoin="miter"/><polygon points="444.0,569.3 447.8,560.4 440.2,560.4" fill="#fff" stroke="#000" stroke-width="1.6" stroke-linejoin="miter"/><polygon points="460.7,567.4 464.5,558.5 456.9,558.5" fill="#fff" stroke="#000" stroke-width="1.6" stroke-linejoin="miter"/><polygon points="485.5,561.6 489.3,552.8 481.7,552.8" fill="#fff" stroke="#000" stroke-width="1.6" stroke-linejoin="miter"/><polygon points="496.2,553.8 500.0,544.9 492.4,544.9" fill="#fff" stroke="#000" stroke-width="1.6" stroke-linejoin="miter"/><polygon points="505.6,543.0 509.4,534.1 501.8,534.1" fill="#fff" stroke="#000" stroke-width="1.6" stroke-linejoin="miter"/><polygon points="515.0,533.3 518.8,524.4 511.2,524.4" fill="#fff" stroke="#000" stroke-width="1.6" stroke-linejoin="miter"/><polygon points="524.5,491.1 528.3,482.2 520.7,482.2" fill="#fff" stroke="#000" stroke-width="1.6" stroke-linejoin="miter"/><polygon points="534.8,440.4 538.6,431.6 531.0,431.6" fill="#fff" stroke="#000" stroke-width="1.6" stroke-linejoin="miter"/><polygon points="541.3,434.4 545.1,425.5 537.5,425.5" fill="#fff" stroke="#000" stroke-width="1.6" stroke-linejoin="miter"/><polygon points="557.9,427.2 561.7,418.3 554.1,418.3" fill="#fff" stroke="#000" stroke-width="1.6" stroke-linejoin="miter"/><polygon points="570.1,430.4 573.9,421.5 566.3,421.5" fill="#fff" stroke="#000" stroke-width="1.6" stroke-linejoin="miter"/><polygon points="586.8,423.6 590.6,414.7 583.0,414.7" fill="#fff" stroke="#000" stroke-width="1.6" stroke-linejoin="miter"/><polygon points="603.6,418.8 607.4,409.9 599.8,409.9" fill="#fff" stroke="#000" stroke-width="1.6" stroke-linejoin="miter"/><polygon points="620.3,415.8 624.1,406.9 616.5,406.9" fill="#fff" stroke="#000" stroke-width="1.6" stroke-linejoin="miter"/><polygon points="637.1,413.9 640.9,405.0 633.3,405.0" fill="#fff" stroke="#000" stroke-width="1.6" stroke-linejoin="miter"/><polygon points="653.8,412.1 657.6,403.3 650.0,403.3" fill="#fff" stroke="#000" stroke-width="1.6" stroke-linejoin="miter"/><polygon points="645.6,408.7 649.8,399.3 641.5,399.3" fill="#000" stroke="#000" stroke-width="1" stroke-linejoin="miter"/><polygon points="628.9,409.3 633.0,399.9 624.8,399.9" fill="#000" stroke="#000" stroke-width="1" stroke-linejoin="miter"/><polygon points="612.1,410.3 616.2,400.8 608.0,400.8" fill="#000" stroke="#000" stroke-width="1" stroke-linejoin="miter"/><polygon points="595.4,411.4 599.5,402.0 591.3,402.0" fill="#000" stroke="#000" stroke-width="1" stroke-linejoin="miter"/><polygon points="578.6,413.3 582.8,403.9 574.5,403.9" fill="#000" stroke="#000" stroke-width="1" stroke-linejoin="miter"/><polygon points="561.9,415.6 566.0,406.1 557.8,406.1" fill="#000" stroke="#000" stroke-width="1" stroke-linejoin="miter"/><polygon points="545.1,418.3 549.2,408.8 541.0,408.8" fill="#000" stroke="#000" stroke-width="1" stroke-linejoin="miter"/><polygon points="528.4,421.9 532.5,412.4 524.3,412.4" fill="#000" stroke="#000" stroke-width="1" stroke-linejoin="miter"/><polygon points="509.6,423.9 513.7,414.4 505.5,414.4" fill="#000" stroke="#000" stroke-width="1" stroke-linejoin="miter"/><polygon points="494.9,437.1 499.0,427.7 490.8,427.7" fill="#000" stroke="#000" stroke-width="1" stroke-linejoin="miter"/><polygon points="478.4,516.1 482.5,506.7 474.3,506.7" fill="#000" stroke="#000" stroke-width="1" stroke-linejoin="miter"/><polygon points="458.7,551.7 462.8,542.3 454.6,542.3" fill="#000" stroke="#000" stroke-width="1" stroke-linejoin="miter"/><polygon points="448.3,562.0 452.4,552.6 444.2,552.6" fill="#000" stroke="#000" stroke-width="1" stroke-linejoin="miter"/><polygon points="431.6,568.2 435.7,558.8 427.5,558.8" fill="#000" stroke="#000" stroke-width="1" stroke-linejoin="miter"/><polygon points="414.8,571.3 418.9,561.8 410.7,561.8" fill="#000" stroke="#000" stroke-width="1" stroke-linejoin="miter"/><polygon points="398.1,573.6 402.2,564.2 394.0,564.2" fill="#000" stroke="#000" stroke-width="1" stroke-linejoin="miter"/><polygon points="381.3,575.5 385.4,566.0 377.2,566.0" fill="#000" stroke="#000" stroke-width="1" stroke-linejoin="miter"/><polygon points="384.4,576.5 388.5,567.1 380.2,567.1" fill="#000" stroke="#000" stroke-width="1" stroke-linejoin="miter"/><polygon points="401.1,575.9 405.2,566.4 397.0,566.4" fill="#000" stroke="#000" stroke-width="1" stroke-linejoin="miter"/><polygon points="417.9,574.9 422.0,565.5 413.8,565.5" fill="#000" stroke="#000" stroke-width="1" stroke-linejoin="miter"/><polygon points="434.6,573.8 438.7,564.4 430.5,564.4" fill="#000" stroke="#000" stroke-width="1" stroke-linejoin="miter"/><polygon points="451.4,571.9 455.5,562.4 447.2,562.4" fill="#000" stroke="#000" stroke-width="1" stroke-linejoin="miter"/><polygon points="468.1,569.6 472.2,560.2 464.0,560.2" fill="#000" stroke="#000" stroke-width="1" stroke-linejoin="miter"/><polygon points="484.9,566.9 489.0,557.5 480.8,557.5" fill="#000" stroke="#000" stroke-width="1" stroke-linejoin="miter"/><polygon points="501.6,563.3 505.7,553.9 497.5,553.9" fill="#000" stroke="#000" stroke-width="1" stroke-linejoin="miter"/><polygon points="520.4,561.3 524.5,551.9 516.3,551.9" fill="#000" stroke="#000" stroke-width="1" stroke-linejoin="miter"/><polygon points="535.1,548.1 539.2,538.6 531.0,538.6" fill="#000" stroke="#000" stroke-width="1" stroke-linejoin="miter"/><polygon points="551.6,469.1 555.7,459.6 547.5,459.6" fill="#000" stroke="#000" stroke-width="1" stroke-linejoin="miter"/><polygon points="571.3,433.5 575.4,424.1 567.2,424.1" fill="#000" stroke="#000" stroke-width="1" stroke-linejoin="miter"/><polygon points="581.7,423.2 585.8,413.7 577.6,413.7" fill="#000" stroke="#000" stroke-width="1" stroke-linejoin="miter"/><polygon points="598.4,417.0 602.5,407.6 594.3,407.6" fill="#000" stroke="#000" stroke-width="1" stroke-linejoin="miter"/><polygon points="615.2,413.9 619.3,404.5 611.1,404.5" fill="#000" stroke="#000" stroke-width="1" stroke-linejoin="miter"/><polygon points="631.9,411.6 636.0,402.1 627.8,402.1" fill="#000" stroke="#000" stroke-width="1" stroke-linejoin="miter"/><polygon points="648.7,409.7 652.8,400.3 644.6,400.3" fill="#000" stroke="#000" stroke-width="1" stroke-linejoin="miter"/><polygon points="642.3,406.5 645.8,411.1 642.3,415.7 638.8,411.1" fill="#fff" stroke="#000" stroke-width="1.6" stroke-linejoin="miter"/><polygon points="625.5,407.1 629.0,411.7 625.5,416.3 622.0,411.7" fill="#fff" stroke="#000" stroke-width="1.6" stroke-linejoin="miter"/><polygon points="608.8,408.0 612.3,412.6 608.8,417.2 605.3,412.6" fill="#fff" stroke="#000" stroke-width="1.6" stroke-linejoin="miter"/><polygon points="592.0,409.2 595.5,413.8 592.0,418.4 588.5,413.8" fill="#fff" stroke="#000" stroke-width="1.6" stroke-linejoin="miter"/><polygon points="575.3,411.0 578.8,415.6 575.3,420.2 571.8,415.6" fill="#fff" stroke="#000" stroke-width="1.6" stroke-linejoin="miter"/><polygon points="558.5,413.2 562.0,417.8 558.5,422.4 555.0,417.8" fill="#fff" stroke="#000" stroke-width="1.6" stroke-linejoin="miter"/><polygon points="541.8,415.6 545.3,420.2 541.8,424.8 538.3,420.2" fill="#fff" stroke="#000" stroke-width="1.6" stroke-linejoin="miter"/><polygon points="521.7,419.0 525.2,423.6 521.7,428.2 518.2,423.6" fill="#fff" stroke="#000" stroke-width="1.6" stroke-linejoin="miter"/><polygon points="511.9,428.6 515.4,433.2 511.9,437.8 508.4,433.2" fill="#fff" stroke="#000" stroke-width="1.6" stroke-linejoin="miter"/><polygon points="497.7,453.4 501.2,458.0 497.7,462.6 494.2,458.0" fill="#fff" stroke="#000" stroke-width="1.6" stroke-linejoin="miter"/><polygon points="488.7,475.1 492.2,479.7 488.7,484.3 485.2,479.7" fill="#fff" stroke="#000" stroke-width="1.6" stroke-linejoin="miter"/><polygon points="487.4,502.2 490.9,506.8 487.4,511.4 483.9,506.8" fill="#fff" stroke="#000" stroke-width="1.6" stroke-linejoin="miter"/><polygon points="475.3,522.1 478.8,526.7 475.3,531.3 471.8,526.7" fill="#fff" stroke="#000" stroke-width="1.6" stroke-linejoin="miter"/><polygon points="461.4,540.8 464.9,545.4 461.4,550.0 457.9,545.4" fill="#fff" stroke="#000" stroke-width="1.6" stroke-linejoin="miter"/><polygon points="450.7,545.3 454.2,549.9 450.7,554.5 447.2,549.9" fill="#fff" stroke="#000" stroke-width="1.6" stroke-linejoin="miter"/><polygon points="433.9,551.4 437.4,556.0 433.9,560.6 430.4,556.0" fill="#fff" stroke="#000" stroke-width="1.6" stroke-linejoin="miter"/><polygon points="417.2,554.2 420.7,558.8 417.2,563.4 413.7,558.8" fill="#fff" stroke="#000" stroke-width="1.6" stroke-linejoin="miter"/><polygon points="400.4,556.5 403.9,561.1 400.4,565.7 396.9,561.1" fill="#fff" stroke="#000" stroke-width="1.6" stroke-linejoin="miter"/><polygon points="383.7,558.2 387.2,562.8 383.7,567.4 380.2,562.8" fill="#fff" stroke="#000" stroke-width="1.6" stroke-linejoin="miter"/><polygon points="387.7,559.3 391.2,563.9 387.7,568.5 384.2,563.9" fill="#fff" stroke="#000" stroke-width="1.6" stroke-linejoin="miter"/><polygon points="404.4,558.7 407.9,563.3 404.4,567.9 400.9,563.3" fill="#fff" stroke="#000" stroke-width="1.6" stroke-linejoin="miter"/><polygon points="421.2,557.8 424.7,562.4 421.2,567.0 417.7,562.4" fill="#fff" stroke="#000" stroke-width="1.6" stroke-linejoin="miter"/><polygon points="437.9,556.6 441.4,561.2 437.9,565.8 434.4,561.2" fill="#fff" stroke="#000" stroke-width="1.6" stroke-linejoin="miter"/><polygon points="454.7,554.8 458.2,559.4 454.7,564.0 451.2,559.4" fill="#fff" stroke="#000" stroke-width="1.6" stroke-linejoin="miter"/><polygon points="471.4,552.6 474.9,557.2 471.4,561.8 467.9,557.2" fill="#fff" stroke="#000" stroke-width="1.6" stroke-linejoin="miter"/><polygon points="488.2,550.2 491.7,554.8 488.2,559.4 484.7,554.8" fill="#fff" stroke="#000" stroke-width="1.6" stroke-linejoin="miter"/><polygon points="508.3,546.8 511.8,551.4 508.3,556.0 504.8,551.4" fill="#fff" stroke="#000" stroke-width="1.6" stroke-linejoin="miter"/><polygon points="518.1,537.2 521.6,541.8 518.1,546.4 514.6,541.8" fill="#fff" stroke="#000" stroke-width="1.6" stroke-linejoin="miter"/><polygon points="532.3,512.4 535.8,517.0 532.3,521.6 528.8,517.0" fill="#fff" stroke="#000" stroke-width="1.6" stroke-linejoin="miter"/><polygon points="541.3,490.7 544.8,495.3 541.3,499.9 537.8,495.3" fill="#fff" stroke="#000" stroke-width="1.6" stroke-linejoin="miter"/><polygon points="542.6,463.6 546.1,468.2 542.6,472.8 539.1,468.2" fill="#fff" stroke="#000" stroke-width="1.6" stroke-linejoin="miter"/><polygon points="554.7,443.7 558.2,448.3 554.7,452.9 551.2,448.3" fill="#fff" stroke="#000" stroke-width="1.6" stroke-linejoin="miter"/><polygon points="568.6,425.0 572.1,429.6 568.6,434.2 565.1,429.6" fill="#fff" stroke="#000" stroke-width="1.6" stroke-linejoin="miter"/><polygon points="579.3,420.5 582.8,425.1 579.3,429.7 575.8,425.1" fill="#fff" stroke="#000" stroke-width="1.6" stroke-linejoin="miter"/><polygon points="596.1,414.4 599.6,419.0 596.1,423.6 592.6,419.0" fill="#fff" stroke="#000" stroke-width="1.6" stroke-linejoin="miter"/><polygon points="612.8,411.6 616.3,416.2 612.8,420.8 609.3,416.2" fill="#fff" stroke="#000" stroke-width="1.6" stroke-linejoin="miter"/><polygon points="629.6,409.3 633.1,413.9 629.6,418.5 626.1,413.9" fill="#fff" stroke="#000" stroke-width="1.6" stroke-linejoin="miter"/><polygon points="646.3,407.6 649.8,412.2 646.3,416.8 642.8,412.2" fill="#fff" stroke="#000" stroke-width="1.6" stroke-linejoin="miter"/>
<line x1="68.3" y1="27.2" x2="134.0" y2="27.2" stroke="#000" stroke-width="1.65"/>
<ellipse cx="101.5" cy="27.4" rx="3.90" ry="4.85" fill="#fff" stroke="#000" stroke-width="1.5"/>
<text x="141.0" y="34.1" font-size="14" letter-spacing="-1.7">650</text><ellipse cx="161.40" cy="24.20" rx="1.05" ry="1.45" fill="none" stroke="#000" stroke-width="0.85"/><text x="163.0" y="34.1" font-size="14">C</text>
<line x1="83.2" y1="45.8" x2="91.8" y2="45.8" stroke="#000" stroke-width="1.65"/><line x1="106.0" y1="45.8" x2="130.0" y2="45.8" stroke="#000" stroke-width="1.65"/>
<ellipse cx="101.3" cy="46.0" rx="4.85" ry="5.60" fill="#000"/>
<text x="141.0" y="52.3" font-size="14" letter-spacing="-1.7">675</text><ellipse cx="161.40" cy="42.40" rx="1.05" ry="1.45" fill="none" stroke="#000" stroke-width="0.85"/><text x="163.0" y="52.3" font-size="14">C</text>
<line x1="67.9" y1="62.4" x2="70.9" y2="62.4" stroke="#000" stroke-width="1.65"/><line x1="75.5" y1="62.4" x2="78.5" y2="62.4" stroke="#000" stroke-width="1.65"/><line x1="83.1" y1="62.4" x2="86.1" y2="62.4" stroke="#000" stroke-width="1.65"/><line x1="90.7" y1="62.4" x2="93.7" y2="62.4" stroke="#000" stroke-width="1.65"/><line x1="98.3" y1="62.4" x2="101.3" y2="62.4" stroke="#000" stroke-width="1.65"/><line x1="105.9" y1="62.4" x2="108.9" y2="62.4" stroke="#000" stroke-width="1.65"/><line x1="113.5" y1="62.4" x2="116.5" y2="62.4" stroke="#000" stroke-width="1.65"/><line x1="121.1" y1="62.4" x2="124.1" y2="62.4" stroke="#000" stroke-width="1.65"/><line x1="128.7" y1="62.4" x2="131.7" y2="62.4" stroke="#000" stroke-width="1.65"/>
<polygon points="101.2,58.0 105.0,66.9 97.4,66.9" fill="#fff" stroke="#000" stroke-width="1.6" stroke-linejoin="miter"/>
<text x="141.0" y="69.6" font-size="14" letter-spacing="-1.7">700</text><ellipse cx="161.40" cy="59.70" rx="1.05" ry="1.45" fill="none" stroke="#000" stroke-width="0.85"/><text x="163.0" y="69.6" font-size="14">C</text>
<line x1="68.3" y1="81.0" x2="71.0" y2="81.0" stroke="#000" stroke-width="1.65"/><line x1="83.2" y1="81.0" x2="86.3" y2="81.0" stroke="#000" stroke-width="1.65"/><line x1="113.3" y1="81.0" x2="116.4" y2="81.0" stroke="#000" stroke-width="1.65"/><line x1="128.6" y1="81.0" x2="131.6" y2="81.0" stroke="#000" stroke-width="1.65"/>
<polygon points="101.2,76.2 105.3,85.6 97.1,85.6" fill="#000" stroke="#000" stroke-width="1" stroke-linejoin="miter"/>
<text x="141.0" y="87.0" font-size="14" letter-spacing="-1.7">725</text><ellipse cx="161.40" cy="77.10" rx="1.05" ry="1.45" fill="none" stroke="#000" stroke-width="0.85"/><text x="163.0" y="87.0" font-size="14">C</text>
<line x1="195.5" y1="29.6" x2="198.8" y2="29.6" stroke="#000" stroke-width="1.65"/><line x1="203.1" y1="29.6" x2="206.4" y2="29.6" stroke="#000" stroke-width="1.65"/><line x1="210.7" y1="29.6" x2="214.0" y2="29.6" stroke="#000" stroke-width="1.65"/><line x1="218.3" y1="29.6" x2="221.6" y2="29.6" stroke="#000" stroke-width="1.65"/><line x1="225.9" y1="29.6" x2="229.2" y2="29.6" stroke="#000" stroke-width="1.65"/><line x1="233.5" y1="29.6" x2="236.8" y2="29.6" stroke="#000" stroke-width="1.65"/><line x1="241.1" y1="29.6" x2="244.4" y2="29.6" stroke="#000" stroke-width="1.65"/><line x1="248.7" y1="29.6" x2="252.0" y2="29.6" stroke="#000" stroke-width="1.65"/><line x1="256.3" y1="29.6" x2="259.6" y2="29.6" stroke="#000" stroke-width="1.65"/>
<polygon points="228.7,34.1 232.5,25.2 224.9,25.2" fill="#fff" stroke="#000" stroke-width="1.6" stroke-linejoin="miter"/>
<text x="269.3" y="36.4" font-size="14" letter-spacing="-1.7">750</text><ellipse cx="289.70" cy="26.50" rx="1.05" ry="1.45" fill="none" stroke="#000" stroke-width="0.85"/><text x="291.3" y="36.4" font-size="14">C</text>
<line x1="199.5" y1="46.0" x2="202.8" y2="46.0" stroke="#000" stroke-width="1.65"/><line x1="211.0" y1="46.0" x2="221.4" y2="46.0" stroke="#000" stroke-width="1.65"/><line x1="241.8" y1="46.0" x2="251.9" y2="46.0" stroke="#000" stroke-width="1.65"/>
<polygon points="228.7,50.8 232.8,41.4 224.6,41.4" fill="#000" stroke="#000" stroke-width="1" stroke-linejoin="miter"/>
<text x="269.3" y="53.2" font-size="14" letter-spacing="-1.7">775</text><ellipse cx="289.70" cy="43.30" rx="1.05" ry="1.45" fill="none" stroke="#000" stroke-width="0.85"/><text x="291.3" y="53.2" font-size="14">C</text>
<line x1="201.2" y1="62.5" x2="205.6" y2="62.5" stroke="#000" stroke-width="1.65"/><line x1="210.1" y1="62.5" x2="215.0" y2="62.5" stroke="#000" stroke-width="1.65"/><line x1="220.7" y1="62.5" x2="224.7" y2="62.5" stroke="#000" stroke-width="1.65"/><line x1="232.9" y1="62.5" x2="236.9" y2="62.5" stroke="#000" stroke-width="1.65"/><line x1="241.8" y1="62.5" x2="246.3" y2="62.5" stroke="#000" stroke-width="1.65"/><line x1="250.9" y1="62.5" x2="255.8" y2="62.5" stroke="#000" stroke-width="1.65"/>
<polygon points="228.8,57.9 232.3,62.5 228.8,67.1 225.3,62.5" fill="#fff" stroke="#000" stroke-width="1.6" stroke-linejoin="miter"/>
<text x="269.3" y="69.6" font-size="14" letter-spacing="-1.7">800</text><ellipse cx="289.70" cy="59.70" rx="1.05" ry="1.45" fill="none" stroke="#000" stroke-width="0.85"/><text x="291.3" y="69.6" font-size="14">C</text>
<line x1="395.6" y1="24.2" x2="459.9" y2="24.2" stroke="#000" stroke-width="1.65"/>
<ellipse cx="428.0" cy="24.2" rx="3.90" ry="4.85" fill="#fff" stroke="#000" stroke-width="1.5"/>
<text x="466.3" y="31.4" font-size="14" letter-spacing="-1.7">650</text><ellipse cx="486.70" cy="21.50" rx="1.05" ry="1.45" fill="none" stroke="#000" stroke-width="0.85"/><text x="488.3" y="31.4" font-size="14">C</text>
<line x1="411.0" y1="41.0" x2="433.0" y2="41.0" stroke="#000" stroke-width="1.65"/><line x1="439.8" y1="41.0" x2="455.9" y2="41.0" stroke="#000" stroke-width="1.65"/>
<ellipse cx="428.0" cy="41.0" rx="4.85" ry="5.60" fill="#000"/>
<text x="466.3" y="48.2" font-size="14" letter-spacing="-1.7">675</text><ellipse cx="486.70" cy="38.30" rx="1.05" ry="1.45" fill="none" stroke="#000" stroke-width="0.85"/><text x="488.3" y="48.2" font-size="14">C</text>
<line x1="395.6" y1="57.5" x2="401.8" y2="57.5" stroke="#000" stroke-width="1.65"/><line x1="408.7" y1="57.5" x2="415.1" y2="57.5" stroke="#000" stroke-width="1.65"/><line x1="439.8" y1="57.5" x2="446.2" y2="57.5" stroke="#000" stroke-width="1.65"/><line x1="452.6" y1="57.5" x2="459.9" y2="57.5" stroke="#000" stroke-width="1.65"/>
<polygon points="428.0,52.7 431.8,61.6 424.2,61.6" fill="#fff" stroke="#000" stroke-width="1.6" stroke-linejoin="miter"/>
<text x="466.3" y="64.6" font-size="14" letter-spacing="-1.7">700</text><ellipse cx="486.70" cy="54.70" rx="1.05" ry="1.45" fill="none" stroke="#000" stroke-width="0.85"/><text x="488.3" y="64.6" font-size="14">C</text>
<line x1="401.0" y1="73.9" x2="404.5" y2="73.9" stroke="#000" stroke-width="1.65"/><line x1="408.1" y1="73.9" x2="411.6" y2="73.9" stroke="#000" stroke-width="1.65"/><line x1="415.2" y1="73.9" x2="418.7" y2="73.9" stroke="#000" stroke-width="1.65"/><line x1="422.3" y1="73.9" x2="425.8" y2="73.9" stroke="#000" stroke-width="1.65"/><line x1="429.4" y1="73.9" x2="432.9" y2="73.9" stroke="#000" stroke-width="1.65"/><line x1="436.5" y1="73.9" x2="440.0" y2="73.9" stroke="#000" stroke-width="1.65"/><line x1="443.6" y1="73.9" x2="447.1" y2="73.9" stroke="#000" stroke-width="1.65"/><line x1="450.7" y1="73.9" x2="454.2" y2="73.9" stroke="#000" stroke-width="1.65"/>
<polygon points="428.0,68.4 432.1,77.8 423.9,77.8" fill="#000" stroke="#000" stroke-width="1" stroke-linejoin="miter"/>
<text x="466.3" y="80.1" font-size="14" letter-spacing="-1.7">725</text><ellipse cx="486.70" cy="70.20" rx="1.05" ry="1.45" fill="none" stroke="#000" stroke-width="0.85"/><text x="488.3" y="80.1" font-size="14">C</text>
<line x1="536.8" y1="22.2" x2="539.7" y2="22.2" stroke="#000" stroke-width="1.65"/><line x1="545.0" y1="22.2" x2="548.0" y2="22.2" stroke="#000" stroke-width="1.65"/><line x1="553.0" y1="22.2" x2="556.0" y2="22.2" stroke="#000" stroke-width="1.65"/><line x1="568.0" y1="22.2" x2="571.0" y2="22.2" stroke="#000" stroke-width="1.65"/><line x1="575.7" y1="22.2" x2="591.2" y2="22.2" stroke="#000" stroke-width="1.65"/>
<polygon points="563.3,27.0 567.1,18.1 559.5,18.1" fill="#fff" stroke="#000" stroke-width="1.6" stroke-linejoin="miter"/>
<text x="602.8" y="29.0" font-size="14" letter-spacing="-1.7">750</text><ellipse cx="623.20" cy="19.10" rx="1.05" ry="1.45" fill="none" stroke="#000" stroke-width="0.85"/><text x="624.8" y="29.0" font-size="14">C</text>
<line x1="536.8" y1="35.9" x2="541.0" y2="35.9" stroke="#000" stroke-width="1.65"/><line x1="544.8" y1="35.9" x2="549.0" y2="35.9" stroke="#000" stroke-width="1.65"/><line x1="552.8" y1="35.9" x2="557.0" y2="35.9" stroke="#000" stroke-width="1.65"/><line x1="560.8" y1="35.9" x2="565.0" y2="35.9" stroke="#000" stroke-width="1.65"/><line x1="568.8" y1="35.9" x2="573.0" y2="35.9" stroke="#000" stroke-width="1.65"/><line x1="576.8" y1="35.9" x2="581.0" y2="35.9" stroke="#000" stroke-width="1.65"/><line x1="584.8" y1="35.9" x2="589.0" y2="35.9" stroke="#000" stroke-width="1.65"/>
<polygon points="563.3,41.1 567.4,31.7 559.2,31.7" fill="#000" stroke="#000" stroke-width="1" stroke-linejoin="miter"/>
<text x="602.8" y="42.7" font-size="14" letter-spacing="-1.7">775</text><ellipse cx="623.20" cy="32.80" rx="1.05" ry="1.45" fill="none" stroke="#000" stroke-width="0.85"/><text x="624.8" y="42.7" font-size="14">C</text>
<line x1="531.3" y1="52.9" x2="534.3" y2="52.9" stroke="#000" stroke-width="1.65"/><line x1="538.5" y1="52.9" x2="541.5" y2="52.9" stroke="#000" stroke-width="1.65"/><line x1="545.7" y1="52.9" x2="548.7" y2="52.9" stroke="#000" stroke-width="1.65"/><line x1="552.9" y1="52.9" x2="555.9" y2="52.9" stroke="#000" stroke-width="1.65"/><line x1="560.1" y1="52.9" x2="563.1" y2="52.9" stroke="#000" stroke-width="1.65"/><line x1="567.3" y1="52.9" x2="570.3" y2="52.9" stroke="#000" stroke-width="1.65"/><line x1="574.5" y1="52.9" x2="577.5" y2="52.9" stroke="#000" stroke-width="1.65"/><line x1="581.7" y1="52.9" x2="584.7" y2="52.9" stroke="#000" stroke-width="1.65"/><line x1="588.9" y1="52.9" x2="591.9" y2="52.9" stroke="#000" stroke-width="1.65"/>
<polygon points="563.3,48.3 566.8,52.9 563.3,57.5 559.8,52.9" fill="#fff" stroke="#000" stroke-width="1.6" stroke-linejoin="miter"/>
<text x="602.8" y="59.1" font-size="14" letter-spacing="-1.7">800</text><ellipse cx="623.20" cy="49.20" rx="1.05" ry="1.45" fill="none" stroke="#000" stroke-width="0.85"/><text x="624.8" y="59.1" font-size="14">C</text>
<line x1="58.2" y1="352.4" x2="120.0" y2="352.4" stroke="#000" stroke-width="1.65"/>
<ellipse cx="89.3" cy="352.4" rx="3.90" ry="4.85" fill="#fff" stroke="#000" stroke-width="1.5"/>
<text x="126.4" y="358.3" font-size="13" letter-spacing="-0.9">650</text><ellipse cx="146.75" cy="350.30" rx="1.05" ry="1.45" fill="none" stroke="#000" stroke-width="0.85"/><text x="148.8" y="358.3" font-size="13">C</text>
<line x1="71.9" y1="369.8" x2="79.2" y2="369.8" stroke="#000" stroke-width="1.65"/><line x1="85.0" y1="369.8" x2="116.1" y2="369.8" stroke="#000" stroke-width="1.65"/>
<ellipse cx="89.3" cy="369.8" rx="4.85" ry="5.60" fill="#000"/>
<text x="126.4" y="375.1" font-size="13" letter-spacing="-0.9">675</text><ellipse cx="146.75" cy="367.10" rx="1.05" ry="1.45" fill="none" stroke="#000" stroke-width="0.85"/><text x="148.8" y="375.1" font-size="13">C</text>
<line x1="71.9" y1="387.1" x2="93.0" y2="387.1" stroke="#000" stroke-width="1.65"/><line x1="101.1" y1="387.1" x2="116.1" y2="387.1" stroke="#000" stroke-width="1.65"/>
<polygon points="89.3,382.5 93.1,391.4 85.5,391.4" fill="#fff" stroke="#000" stroke-width="1.6" stroke-linejoin="miter"/>
<text x="126.4" y="392.4" font-size="13" letter-spacing="-0.9">700</text><ellipse cx="146.75" cy="384.40" rx="1.05" ry="1.45" fill="none" stroke="#000" stroke-width="0.85"/><text x="148.8" y="392.4" font-size="13">C</text>
<line x1="58.2" y1="402.7" x2="63.7" y2="402.7" stroke="#000" stroke-width="1.65"/><line x1="71.9" y1="402.7" x2="77.4" y2="402.7" stroke="#000" stroke-width="1.65"/><line x1="101.1" y1="402.7" x2="106.6" y2="402.7" stroke="#000" stroke-width="1.65"/><line x1="113.9" y1="402.7" x2="120.3" y2="402.7" stroke="#000" stroke-width="1.65"/>
<polygon points="89.3,397.6 93.4,407.0 85.2,407.0" fill="#000" stroke="#000" stroke-width="1" stroke-linejoin="miter"/>
<text x="126.4" y="407.9" font-size="13" letter-spacing="-0.9">725</text><ellipse cx="146.75" cy="399.90" rx="1.05" ry="1.45" fill="none" stroke="#000" stroke-width="0.85"/><text x="148.8" y="407.9" font-size="13">C</text>
<line x1="189.1" y1="352.1" x2="192.4" y2="352.1" stroke="#000" stroke-width="1.65"/><line x1="199.7" y1="352.1" x2="210.1" y2="352.1" stroke="#000" stroke-width="1.65"/><line x1="229.0" y1="352.1" x2="238.8" y2="352.1" stroke="#000" stroke-width="1.65"/>
<polygon points="216.5,356.9 220.3,348.0 212.7,348.0" fill="#fff" stroke="#000" stroke-width="1.6" stroke-linejoin="miter"/>
<text x="255.0" y="358.3" font-size="13" letter-spacing="-0.9">750</text><ellipse cx="275.35" cy="350.30" rx="1.05" ry="1.45" fill="none" stroke="#000" stroke-width="0.85"/><text x="277.4" y="358.3" font-size="13">C</text>
<line x1="185.5" y1="367.4" x2="189.0" y2="367.4" stroke="#000" stroke-width="1.65"/><line x1="193.0" y1="367.4" x2="196.5" y2="367.4" stroke="#000" stroke-width="1.65"/><line x1="200.5" y1="367.4" x2="204.0" y2="367.4" stroke="#000" stroke-width="1.65"/><line x1="208.0" y1="367.4" x2="211.5" y2="367.4" stroke="#000" stroke-width="1.65"/><line x1="215.5" y1="367.4" x2="219.0" y2="367.4" stroke="#000" stroke-width="1.65"/><line x1="223.0" y1="367.4" x2="226.5" y2="367.4" stroke="#000" stroke-width="1.65"/><line x1="230.5" y1="367.4" x2="234.0" y2="367.4" stroke="#000" stroke-width="1.65"/><line x1="238.0" y1="367.4" x2="241.5" y2="367.4" stroke="#000" stroke-width="1.65"/><line x1="245.5" y1="367.4" x2="246.7" y2="367.4" stroke="#000" stroke-width="1.65"/>
<polygon points="216.5,362.8 220.0,367.4 216.5,372.0 213.0,367.4" fill="#fff" stroke="#000" stroke-width="1.6" stroke-linejoin="miter"/>
<text x="255.0" y="373.3" font-size="13" letter-spacing="-0.9">775</text><ellipse cx="275.35" cy="365.30" rx="1.05" ry="1.45" fill="none" stroke="#000" stroke-width="0.85"/><text x="277.4" y="373.3" font-size="13">C</text>
<line x1="191.3" y1="382.6" x2="193.7" y2="382.6" stroke="#000" stroke-width="1.65"/><line x1="201.6" y1="382.6" x2="204.7" y2="382.6" stroke="#000" stroke-width="1.65"/><line x1="210.1" y1="382.6" x2="224.7" y2="382.6" stroke="#000" stroke-width="1.65"/><line x1="229.0" y1="382.6" x2="244.3" y2="382.6" stroke="#000" stroke-width="1.65"/>
<polygon points="216.5,387.7 220.6,378.3 212.4,378.3" fill="#000" stroke="#000" stroke-width="1" stroke-linejoin="miter"/>
<text x="255.0" y="388.2" font-size="13" letter-spacing="-0.9">800</text><ellipse cx="275.35" cy="380.20" rx="1.05" ry="1.45" fill="none" stroke="#000" stroke-width="0.85"/><text x="277.4" y="388.2" font-size="13">C</text>
<line x1="397.4" y1="349.5" x2="462.3" y2="349.5" stroke="#000" stroke-width="1.65"/>
<ellipse cx="429.4" cy="349.5" rx="3.90" ry="4.85" fill="#fff" stroke="#000" stroke-width="1.5"/>
<text x="469.3" y="355.2" font-size="13" letter-spacing="-0.9">675</text><ellipse cx="489.65" cy="347.20" rx="1.05" ry="1.45" fill="none" stroke="#000" stroke-width="0.85"/><text x="491.7" y="355.2" font-size="13">C</text>
<line x1="410.2" y1="367.4" x2="418.4" y2="367.4" stroke="#000" stroke-width="1.65"/><line x1="424.0" y1="367.4" x2="456.3" y2="367.4" stroke="#000" stroke-width="1.65"/>
<ellipse cx="429.4" cy="367.4" rx="4.85" ry="5.60" fill="#000"/>
<text x="469.3" y="373.1" font-size="13" letter-spacing="-0.9">700</text><ellipse cx="489.65" cy="365.10" rx="1.05" ry="1.45" fill="none" stroke="#000" stroke-width="0.85"/><text x="491.7" y="373.1" font-size="13">C</text>
<line x1="410.2" y1="384.2" x2="433.0" y2="384.2" stroke="#000" stroke-width="1.65"/><line x1="440.4" y1="384.2" x2="456.3" y2="384.2" stroke="#000" stroke-width="1.65"/>
<polygon points="429.4,379.6 433.2,388.5 425.6,388.5" fill="#fff" stroke="#000" stroke-width="1.6" stroke-linejoin="miter"/>
<text x="469.3" y="389.9" font-size="13" letter-spacing="-0.9">725</text><ellipse cx="489.65" cy="381.90" rx="1.05" ry="1.45" fill="none" stroke="#000" stroke-width="0.85"/><text x="491.7" y="389.9" font-size="13">C</text>
<line x1="395.6" y1="402.5" x2="402.0" y2="402.5" stroke="#000" stroke-width="1.65"/><line x1="410.2" y1="402.5" x2="416.6" y2="402.5" stroke="#000" stroke-width="1.65"/><line x1="440.4" y1="402.5" x2="446.8" y2="402.5" stroke="#000" stroke-width="1.65"/><line x1="454.0" y1="402.5" x2="460.5" y2="402.5" stroke="#000" stroke-width="1.65"/>
<polygon points="429.4,397.2 433.5,406.6 425.3,406.6" fill="#000" stroke="#000" stroke-width="1" stroke-linejoin="miter"/>
<text x="469.3" y="407.8" font-size="13" letter-spacing="-0.9">750</text><ellipse cx="489.65" cy="399.80" rx="1.05" ry="1.45" fill="none" stroke="#000" stroke-width="0.85"/><text x="491.7" y="407.8" font-size="13">C</text>
<line x1="533.2" y1="351.7" x2="535.5" y2="351.7" stroke="#000" stroke-width="1.65"/><line x1="543.7" y1="351.7" x2="554.7" y2="351.7" stroke="#000" stroke-width="1.65"/><line x1="574.4" y1="351.7" x2="584.8" y2="351.7" stroke="#000" stroke-width="1.65"/>
<polygon points="561.6,356.5 565.4,347.6 557.8,347.6" fill="#fff" stroke="#000" stroke-width="1.6" stroke-linejoin="miter"/>
<text x="601.3" y="357.6" font-size="13" letter-spacing="-0.9">650</text><ellipse cx="621.65" cy="349.60" rx="1.05" ry="1.45" fill="none" stroke="#000" stroke-width="0.85"/><text x="623.6" y="357.6" font-size="13">C</text>
<line x1="529.5" y1="366.9" x2="531.9" y2="366.9" stroke="#000" stroke-width="1.65"/><line x1="555.6" y1="366.9" x2="573.0" y2="366.9" stroke="#000" stroke-width="1.65"/><line x1="574.8" y1="366.9" x2="593.0" y2="366.9" stroke="#000" stroke-width="1.65"/>
<polygon points="561.6,372.0 565.7,362.6 557.5,362.6" fill="#000" stroke="#000" stroke-width="1" stroke-linejoin="miter"/>
<text x="601.3" y="373.1" font-size="13" letter-spacing="-0.9">775</text><ellipse cx="621.65" cy="365.10" rx="1.05" ry="1.45" fill="none" stroke="#000" stroke-width="0.85"/><text x="623.6" y="373.1" font-size="13">C</text>
<line x1="529.5" y1="382.4" x2="532.5" y2="382.4" stroke="#000" stroke-width="1.65"/><line x1="536.7" y1="382.4" x2="539.7" y2="382.4" stroke="#000" stroke-width="1.65"/><line x1="543.9" y1="382.4" x2="546.9" y2="382.4" stroke="#000" stroke-width="1.65"/><line x1="551.1" y1="382.4" x2="554.1" y2="382.4" stroke="#000" stroke-width="1.65"/><line x1="558.3" y1="382.4" x2="561.3" y2="382.4" stroke="#000" stroke-width="1.65"/><line x1="565.5" y1="382.4" x2="568.5" y2="382.4" stroke="#000" stroke-width="1.65"/><line x1="572.7" y1="382.4" x2="575.7" y2="382.4" stroke="#000" stroke-width="1.65"/><line x1="579.9" y1="382.4" x2="582.9" y2="382.4" stroke="#000" stroke-width="1.65"/><line x1="587.1" y1="382.4" x2="590.1" y2="382.4" stroke="#000" stroke-width="1.65"/>
<polygon points="561.6,377.8 565.1,382.4 561.6,387.0 558.1,382.4" fill="#fff" stroke="#000" stroke-width="1.6" stroke-linejoin="miter"/>
<text x="601.3" y="387.7" font-size="13" letter-spacing="-0.9">800</text><ellipse cx="621.65" cy="379.70" rx="1.05" ry="1.45" fill="none" stroke="#000" stroke-width="0.85"/><text x="623.6" y="387.7" font-size="13">C</text>
<rect x="44" y="10.8" width="270.5" height="265.2" fill="none" stroke="#000" stroke-width="2.1"/>
<line x1="77.9" y1="10.8" x2="77.9" y2="15.8" stroke="#000" stroke-width="2"/>
<line x1="77.9" y1="276.0" x2="77.9" y2="271.0" stroke="#000" stroke-width="2"/>
<line x1="111.7" y1="10.8" x2="111.7" y2="15.8" stroke="#000" stroke-width="2"/>
<line x1="111.7" y1="276.0" x2="111.7" y2="271.0" stroke="#000" stroke-width="2"/>
<line x1="145.4" y1="10.8" x2="145.4" y2="15.8" stroke="#000" stroke-width="2"/>
<line x1="145.4" y1="276.0" x2="145.4" y2="271.0" stroke="#000" stroke-width="2"/>
<line x1="179.2" y1="10.8" x2="179.2" y2="15.8" stroke="#000" stroke-width="2"/>
<line x1="179.2" y1="276.0" x2="179.2" y2="271.0" stroke="#000" stroke-width="2"/>
<line x1="212.9" y1="10.8" x2="212.9" y2="15.8" stroke="#000" stroke-width="2"/>
<line x1="212.9" y1="276.0" x2="212.9" y2="271.0" stroke="#000" stroke-width="2"/>
<line x1="246.7" y1="10.8" x2="246.7" y2="15.8" stroke="#000" stroke-width="2"/>
<line x1="246.7" y1="276.0" x2="246.7" y2="271.0" stroke="#000" stroke-width="2"/>
<line x1="280.4" y1="10.8" x2="280.4" y2="15.8" stroke="#000" stroke-width="2"/>
<line x1="280.4" y1="276.0" x2="280.4" y2="271.0" stroke="#000" stroke-width="2"/>
<line x1="44" y1="48.6" x2="49" y2="48.6" stroke="#000" stroke-width="2"/>
<line x1="314.5" y1="48.6" x2="309.5" y2="48.6" stroke="#000" stroke-width="2"/>
<line x1="44" y1="86.5" x2="49" y2="86.5" stroke="#000" stroke-width="2"/>
<line x1="314.5" y1="86.5" x2="309.5" y2="86.5" stroke="#000" stroke-width="2"/>
<line x1="44" y1="124.4" x2="49" y2="124.4" stroke="#000" stroke-width="2"/>
<line x1="314.5" y1="124.4" x2="309.5" y2="124.4" stroke="#000" stroke-width="2"/>
<line x1="44" y1="162.3" x2="49" y2="162.3" stroke="#000" stroke-width="2"/>
<line x1="314.5" y1="162.3" x2="309.5" y2="162.3" stroke="#000" stroke-width="2"/>
<line x1="44" y1="200.2" x2="49" y2="200.2" stroke="#000" stroke-width="2"/>
<line x1="314.5" y1="200.2" x2="309.5" y2="200.2" stroke="#000" stroke-width="2"/>
<line x1="44" y1="238.1" x2="49" y2="238.1" stroke="#000" stroke-width="2"/>
<line x1="314.5" y1="238.1" x2="309.5" y2="238.1" stroke="#000" stroke-width="2"/>
<text x="44.2" y="295.3" font-size="13" text-anchor="middle">-20</text>
<text x="77.9" y="295.3" font-size="13" text-anchor="middle">-15</text>
<text x="111.7" y="295.3" font-size="13" text-anchor="middle">-10</text>
<text x="145.4" y="295.3" font-size="13" text-anchor="middle">-5</text>
<text x="179.2" y="295.3" font-size="13" text-anchor="middle">0</text>
<text x="212.9" y="295.3" font-size="13" text-anchor="middle">5</text>
<text x="246.7" y="295.3" font-size="13" text-anchor="middle">10</text>
<text x="280.4" y="295.3" font-size="13" text-anchor="middle">15</text>
<text x="314.2" y="295.3" font-size="13" text-anchor="middle">20</text>
<text x="39.0" y="13.2" font-size="13" text-anchor="end">20</text>
<text x="39.0" y="53.2" font-size="13" text-anchor="end">15</text>
<text x="39.0" y="91.1" font-size="13" text-anchor="end">10</text>
<text x="39.0" y="129.0" font-size="13" text-anchor="end">5</text>
<text x="39.0" y="166.9" font-size="13" text-anchor="end">0</text>
<text x="39.0" y="204.8" font-size="13" text-anchor="end">-5</text>
<text x="39.0" y="242.7" font-size="13" text-anchor="end">-10</text>
<text x="39.0" y="279.1" font-size="13" text-anchor="end">-15</text>
<text x="179.2" y="313.5" font-size="14" text-anchor="middle">H (kOe)</text>
<text x="24.0" y="158.7" font-size="14" text-anchor="middle" transform="rotate(-90 24.0 158.7)">4πM (kG)</text>
<text x="0.3" y="13.9" font-size="16" style="font-family:'Liberation Serif',serif">(a)</text>
<rect x="385" y="10.0" width="264" height="265.5" fill="none" stroke="#000" stroke-width="2.1"/>
<line x1="451.0" y1="10.0" x2="451.0" y2="15.0" stroke="#000" stroke-width="2"/>
<line x1="451.0" y1="275.5" x2="451.0" y2="270.5" stroke="#000" stroke-width="2"/>
<line x1="517.0" y1="10.0" x2="517.0" y2="15.0" stroke="#000" stroke-width="2"/>
<line x1="517.0" y1="275.5" x2="517.0" y2="270.5" stroke="#000" stroke-width="2"/>
<line x1="583.0" y1="10.0" x2="583.0" y2="15.0" stroke="#000" stroke-width="2"/>
<line x1="583.0" y1="275.5" x2="583.0" y2="270.5" stroke="#000" stroke-width="2"/>
<line x1="385" y1="47.9" x2="390" y2="47.9" stroke="#000" stroke-width="2"/>
<line x1="649" y1="47.9" x2="644" y2="47.9" stroke="#000" stroke-width="2"/>
<line x1="385" y1="85.8" x2="390" y2="85.8" stroke="#000" stroke-width="2"/>
<line x1="649" y1="85.8" x2="644" y2="85.8" stroke="#000" stroke-width="2"/>
<line x1="385" y1="123.8" x2="390" y2="123.8" stroke="#000" stroke-width="2"/>
<line x1="649" y1="123.8" x2="644" y2="123.8" stroke="#000" stroke-width="2"/>
<line x1="385" y1="161.7" x2="390" y2="161.7" stroke="#000" stroke-width="2"/>
<line x1="649" y1="161.7" x2="644" y2="161.7" stroke="#000" stroke-width="2"/>
<line x1="385" y1="199.6" x2="390" y2="199.6" stroke="#000" stroke-width="2"/>
<line x1="649" y1="199.6" x2="644" y2="199.6" stroke="#000" stroke-width="2"/>
<line x1="385" y1="237.6" x2="390" y2="237.6" stroke="#000" stroke-width="2"/>
<line x1="649" y1="237.6" x2="644" y2="237.6" stroke="#000" stroke-width="2"/>
<text x="385.0" y="292.6" font-size="13" text-anchor="middle">-10</text>
<text x="451.0" y="292.6" font-size="13" text-anchor="middle">-5</text>
<text x="517.0" y="292.6" font-size="13" text-anchor="middle">0</text>
<text x="583.0" y="292.6" font-size="13" text-anchor="middle">5</text>
<text x="649.0" y="292.6" font-size="13" text-anchor="middle">10</text>
<text x="378.0" y="12.5" font-size="13" text-anchor="end">20</text>
<text x="378.0" y="52.5" font-size="13" text-anchor="end">15</text>
<text x="378.0" y="90.4" font-size="13" text-anchor="end">10</text>
<text x="378.0" y="128.4" font-size="13" text-anchor="end">5</text>
<text x="378.0" y="166.3" font-size="13" text-anchor="end">0</text>
<text x="378.0" y="204.2" font-size="13" text-anchor="end">-5</text>
<text x="378.0" y="242.2" font-size="13" text-anchor="end">-10</text>
<text x="378.0" y="278.6" font-size="13" text-anchor="end">-15</text>
<text x="517" y="310.9" font-size="14" text-anchor="middle">H (kOe)</text>
<text x="361.0" y="153.9" font-size="14" text-anchor="middle" transform="rotate(-90 361.0 153.9)">4πM (kG)</text>
<text x="338.2" y="13.3" font-size="16" style="font-family:'Liberation Serif',serif">(b)</text>
<rect x="51" y="337.0" width="256" height="247.0" fill="none" stroke="#000" stroke-width="2.1"/>
<line x1="115.0" y1="337.0" x2="115.0" y2="342.0" stroke="#000" stroke-width="2"/>
<line x1="115.0" y1="584.0" x2="115.0" y2="579.0" stroke="#000" stroke-width="2"/>
<line x1="179.0" y1="337.0" x2="179.0" y2="342.0" stroke="#000" stroke-width="2"/>
<line x1="179.0" y1="584.0" x2="179.0" y2="579.0" stroke="#000" stroke-width="2"/>
<line x1="243.0" y1="337.0" x2="243.0" y2="342.0" stroke="#000" stroke-width="2"/>
<line x1="243.0" y1="584.0" x2="243.0" y2="579.0" stroke="#000" stroke-width="2"/>
<line x1="51" y1="351.0" x2="56" y2="351.0" stroke="#000" stroke-width="2"/>
<line x1="307" y1="351.0" x2="302" y2="351.0" stroke="#000" stroke-width="2"/>
<line x1="51" y1="384.2" x2="56" y2="384.2" stroke="#000" stroke-width="2"/>
<line x1="307" y1="384.2" x2="302" y2="384.2" stroke="#000" stroke-width="2"/>
<line x1="51" y1="417.3" x2="56" y2="417.3" stroke="#000" stroke-width="2"/>
<line x1="307" y1="417.3" x2="302" y2="417.3" stroke="#000" stroke-width="2"/>
<line x1="51" y1="450.5" x2="56" y2="450.5" stroke="#000" stroke-width="2"/>
<line x1="307" y1="450.5" x2="302" y2="450.5" stroke="#000" stroke-width="2"/>
<line x1="51" y1="483.6" x2="56" y2="483.6" stroke="#000" stroke-width="2"/>
<line x1="307" y1="483.6" x2="302" y2="483.6" stroke="#000" stroke-width="2"/>
<line x1="51" y1="516.8" x2="56" y2="516.8" stroke="#000" stroke-width="2"/>
<line x1="307" y1="516.8" x2="302" y2="516.8" stroke="#000" stroke-width="2"/>
<line x1="51" y1="549.9" x2="56" y2="549.9" stroke="#000" stroke-width="2"/>
<line x1="307" y1="549.9" x2="302" y2="549.9" stroke="#000" stroke-width="2"/>
<text x="51.0" y="600.1" font-size="13" text-anchor="middle">-10</text>
<text x="115.0" y="600.1" font-size="13" text-anchor="middle">-5</text>
<text x="179.0" y="600.1" font-size="13" text-anchor="middle">0</text>
<text x="243.0" y="600.1" font-size="13" text-anchor="middle">5</text>
<text x="307.0" y="600.1" font-size="13" text-anchor="middle">10</text>
<text x="46.5" y="353.5" font-size="13" text-anchor="end">20</text>
<text x="46.5" y="388.8" font-size="13" text-anchor="end">15</text>
<text x="46.5" y="421.9" font-size="13" text-anchor="end">10</text>
<text x="46.5" y="455.1" font-size="13" text-anchor="end">5</text>
<text x="46.5" y="488.2" font-size="13" text-anchor="end">0</text>
<text x="46.5" y="521.4" font-size="13" text-anchor="end">-5</text>
<text x="46.5" y="554.5" font-size="13" text-anchor="end">-10</text>
<text x="46.5" y="586.2" font-size="13" text-anchor="end">-15</text>
<text x="179" y="617.0" font-size="13" text-anchor="middle">H (kOe)</text>
<text x="31.0" y="474.8" font-size="13" text-anchor="middle" transform="rotate(-90 31.0 474.8)">4πM (kG)</text>
<text x="0.3" y="344.6" font-size="16" style="font-family:'Liberation Serif',serif">(c)</text>
<rect x="381" y="334.0" width="268" height="250.0" fill="none" stroke="#000" stroke-width="2.1"/>
<line x1="377.5" y1="334.0" x2="381" y2="334.0" stroke="#000" stroke-width="2.1"/>
<line x1="448.0" y1="334.0" x2="448.0" y2="339.0" stroke="#000" stroke-width="2"/>
<line x1="448.0" y1="584.0" x2="448.0" y2="579.0" stroke="#000" stroke-width="2"/>
<line x1="515.0" y1="334.0" x2="515.0" y2="339.0" stroke="#000" stroke-width="2"/>
<line x1="515.0" y1="584.0" x2="515.0" y2="579.0" stroke="#000" stroke-width="2"/>
<line x1="582.0" y1="334.0" x2="582.0" y2="339.0" stroke="#000" stroke-width="2"/>
<line x1="582.0" y1="584.0" x2="582.0" y2="579.0" stroke="#000" stroke-width="2"/>
<line x1="381" y1="342.8" x2="386" y2="342.8" stroke="#000" stroke-width="2"/>
<line x1="649" y1="342.8" x2="644" y2="342.8" stroke="#000" stroke-width="2"/>
<line x1="381" y1="366.9" x2="386" y2="366.9" stroke="#000" stroke-width="2"/>
<line x1="649" y1="366.9" x2="644" y2="366.9" stroke="#000" stroke-width="2"/>
<line x1="381" y1="391.0" x2="386" y2="391.0" stroke="#000" stroke-width="2"/>
<line x1="649" y1="391.0" x2="644" y2="391.0" stroke="#000" stroke-width="2"/>
<line x1="381" y1="415.1" x2="386" y2="415.1" stroke="#000" stroke-width="2"/>
<line x1="649" y1="415.1" x2="644" y2="415.1" stroke="#000" stroke-width="2"/>
<line x1="381" y1="439.3" x2="386" y2="439.3" stroke="#000" stroke-width="2"/>
<line x1="649" y1="439.3" x2="644" y2="439.3" stroke="#000" stroke-width="2"/>
<line x1="381" y1="463.4" x2="386" y2="463.4" stroke="#000" stroke-width="2"/>
<line x1="649" y1="463.4" x2="644" y2="463.4" stroke="#000" stroke-width="2"/>
<line x1="381" y1="487.5" x2="386" y2="487.5" stroke="#000" stroke-width="2"/>
<line x1="649" y1="487.5" x2="644" y2="487.5" stroke="#000" stroke-width="2"/>
<line x1="381" y1="511.6" x2="386" y2="511.6" stroke="#000" stroke-width="2"/>
<line x1="649" y1="511.6" x2="644" y2="511.6" stroke="#000" stroke-width="2"/>
<line x1="381" y1="535.7" x2="386" y2="535.7" stroke="#000" stroke-width="2"/>
<line x1="649" y1="535.7" x2="644" y2="535.7" stroke="#000" stroke-width="2"/>
<line x1="381" y1="559.9" x2="386" y2="559.9" stroke="#000" stroke-width="2"/>
<line x1="649" y1="559.9" x2="644" y2="559.9" stroke="#000" stroke-width="2"/>
<text x="381.0" y="598.5" font-size="13" text-anchor="middle">-10</text>
<text x="448.0" y="599.5" font-size="13" text-anchor="middle">-5</text>
<text x="515.0" y="599.5" font-size="13" text-anchor="middle">0</text>
<text x="582.0" y="597.0" font-size="13" text-anchor="middle">5</text>
<text x="649.0" y="597.0" font-size="13" text-anchor="middle">10</text>
<text x="376.0" y="345.3" font-size="13" text-anchor="end">24</text>
<text x="376.0" y="395.6" font-size="13" text-anchor="end">16</text>
<text x="376.0" y="443.9" font-size="13" text-anchor="end">8</text>
<text x="376.0" y="492.1" font-size="13" text-anchor="end">0</text>
<text x="376.0" y="540.3" font-size="13" text-anchor="end">-8</text>
<text x="376.0" y="587.1" font-size="13" text-anchor="end">-16</text>
<text x="515" y="616.5" font-size="13" text-anchor="middle">H (kOe)</text>
<text x="361.5" y="483.2" font-size="13" text-anchor="middle" transform="rotate(-90 361.5 483.2)">4πM (kG)</text>
<text x="338.2" y="345.5" font-size="16" style="font-family:'Liberation Serif',serif">(d)</text>
</svg></body></html>
